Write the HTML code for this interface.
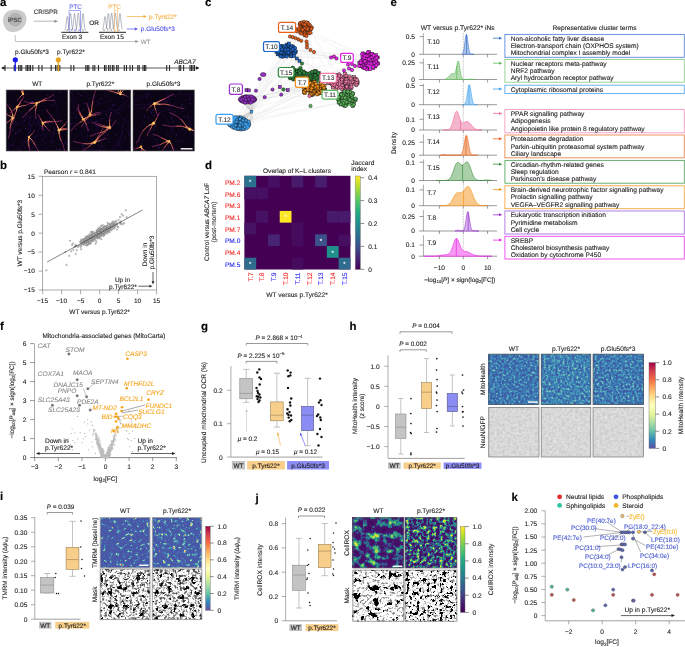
<!DOCTYPE html>
<html><head><meta charset="utf-8"><style>
html,body{margin:0;padding:0;background:#fff;overflow:hidden}
svg{display:block;font-family:"Liberation Sans",sans-serif;will-change:transform;text-rendering:geometricPrecision}
</style></head><body>
<svg width="685" height="647" viewBox="0 0 685 647" fill="#231f20">
<defs><filter id="fMH0" x="0" y="0" width="1" height="1" color-interpolation-filters="sRGB"><feTurbulence type="fractalNoise" baseFrequency="0.43" numOctaves="4" seed="3"/><feColorMatrix type="matrix" values="1 0 0 0 0 1 0 0 0 0 1 0 0 0 0 0 0 0 0 1"/><feComponentTransfer><feFuncR type="table" tableValues="0.275 0.273 0.272 0.271 0.269 0.268 0.267 0.265 0.264 0.263 0.261 0.26 0.259 0.255 0.251 0.247 0.242 0.239 0.237 0.235 0.233 0.233 0.24 0.246 0.253 0.264 0.289 0.315 0.34 0.369 0.408 0.447 0.486 0.525 0.565 0.601 0.638 0.675 0.711 0.748 0.784"/><feFuncG type="table" tableValues="0.314 0.316 0.319 0.322 0.324 0.327 0.329 0.332 0.335 0.337 0.34 0.342 0.345 0.358 0.371 0.384 0.397 0.411 0.429 0.447 0.464 0.483 0.504 0.526 0.547 0.57 0.598 0.625 0.653 0.679 0.703 0.728 0.752 0.776 0.8 0.817 0.834 0.851 0.868 0.885 0.902"/><feFuncB type="table" tableValues="0.62 0.62 0.62 0.621 0.621 0.621 0.622 0.622 0.622 0.623 0.623 0.623 0.624 0.635 0.646 0.658 0.669 0.68 0.687 0.694 0.7 0.707 0.714 0.721 0.728 0.734 0.735 0.735 0.736 0.735 0.723 0.711 0.699 0.687 0.675 0.667 0.659 0.651 0.643 0.635 0.627"/></feComponentTransfer></filter><filter id="fMH1" x="0" y="0" width="1" height="1" color-interpolation-filters="sRGB"><feTurbulence type="fractalNoise" baseFrequency="0.43" numOctaves="4" seed="13"/><feColorMatrix type="matrix" values="1 0 0 0 0 1 0 0 0 0 1 0 0 0 0 0 0 0 0 1"/><feComponentTransfer><feFuncR type="table" tableValues="0.275 0.273 0.272 0.27 0.269 0.267 0.266 0.264 0.263 0.261 0.26 0.258 0.254 0.25 0.246 0.242 0.238 0.236 0.235 0.233 0.235 0.244 0.253 0.261 0.278 0.305 0.333 0.36 0.392 0.431 0.471 0.51 0.549 0.586 0.614 0.643 0.671 0.699 0.728 0.756 0.784"/><feFuncG type="table" tableValues="0.314 0.317 0.32 0.322 0.325 0.328 0.331 0.334 0.337 0.34 0.343 0.348 0.365 0.381 0.397 0.414 0.431 0.451 0.471 0.49 0.511 0.532 0.554 0.575 0.598 0.624 0.649 0.675 0.699 0.722 0.744 0.767 0.79 0.81 0.824 0.837 0.85 0.863 0.876 0.889 0.902"/><feFuncB type="table" tableValues="0.62 0.62 0.62 0.621 0.621 0.621 0.622 0.622 0.623 0.623 0.623 0.626 0.638 0.65 0.663 0.675 0.685 0.693 0.701 0.709 0.716 0.721 0.725 0.73 0.733 0.733 0.733 0.733 0.729 0.717 0.706 0.695 0.684 0.673 0.667 0.66 0.654 0.647 0.641 0.634 0.627"/></feComponentTransfer></filter><filter id="fMH2" x="0" y="0" width="1" height="1" color-interpolation-filters="sRGB"><feTurbulence type="fractalNoise" baseFrequency="0.43" numOctaves="4" seed="23"/><feColorMatrix type="matrix" values="1 0 0 0 0 1 0 0 0 0 1 0 0 0 0 0 0 0 0 1"/><feComponentTransfer><feFuncR type="table" tableValues="0.275 0.273 0.272 0.27 0.269 0.268 0.266 0.265 0.264 0.262 0.261 0.26 0.257 0.253 0.249 0.245 0.241 0.238 0.236 0.234 0.232 0.235 0.242 0.249 0.256 0.275 0.303 0.33 0.358 0.392 0.431 0.471 0.51 0.549 0.586 0.619 0.652 0.685 0.718 0.751 0.784"/><feFuncG type="table" tableValues="0.314 0.316 0.319 0.322 0.325 0.327 0.33 0.333 0.335 0.338 0.341 0.343 0.351 0.366 0.38 0.395 0.41 0.426 0.444 0.462 0.479 0.499 0.521 0.542 0.564 0.589 0.616 0.644 0.671 0.696 0.719 0.741 0.764 0.786 0.806 0.822 0.838 0.854 0.87 0.886 0.902"/><feFuncB type="table" tableValues="0.62 0.62 0.62 0.621 0.621 0.621 0.622 0.622 0.622 0.623 0.623 0.623 0.628 0.64 0.651 0.662 0.674 0.683 0.691 0.699 0.707 0.713 0.719 0.725 0.731 0.734 0.735 0.736 0.737 0.73 0.718 0.706 0.694 0.682 0.672 0.664 0.657 0.65 0.642 0.635 0.627"/></feComponentTransfer></filter><filter id="fNG" x="0" y="0" width="1" height="1" color-interpolation-filters="sRGB"><feTurbulence type="fractalNoise" baseFrequency="0.37" numOctaves="3" seed="4"/><feColorMatrix type="matrix" values="1 0 0 0 0 1 0 0 0 0 1 0 0 0 0 0 0 0 0 1"/><feComponentTransfer><feFuncR type="table" tableValues="0.753 0.758 0.762 0.767 0.771 0.776 0.78 0.785 0.79 0.794 0.799 0.803 0.808 0.813 0.818 0.823 0.827 0.832 0.837 0.842 0.847 0.851 0.855 0.859 0.863 0.867 0.871 0.875 0.878 0.881 0.884 0.886 0.889 0.892 0.894 0.897 0.899 0.902 0.905 0.907 0.91"/><feFuncG type="table" tableValues="0.753 0.758 0.762 0.767 0.771 0.776 0.78 0.785 0.79 0.794 0.799 0.803 0.808 0.813 0.818 0.823 0.827 0.832 0.837 0.842 0.847 0.851 0.855 0.859 0.863 0.867 0.871 0.875 0.878 0.881 0.884 0.886 0.889 0.892 0.894 0.897 0.899 0.902 0.905 0.907 0.91"/><feFuncB type="table" tableValues="0.753 0.758 0.762 0.767 0.771 0.776 0.78 0.785 0.79 0.794 0.799 0.803 0.808 0.813 0.818 0.823 0.827 0.832 0.837 0.842 0.847 0.851 0.855 0.859 0.863 0.867 0.871 0.875 0.878 0.881 0.884 0.886 0.889 0.892 0.894 0.897 0.899 0.902 0.905 0.907 0.91"/></feComponentTransfer></filter><filter id="fTM0" x="0" y="0" width="1" height="1" color-interpolation-filters="sRGB"><feTurbulence type="fractalNoise" baseFrequency="0.3" numOctaves="3" seed="5"/><feColorMatrix type="matrix" values="1 0 0 0 0 1 0 0 0 0 1 0 0 0 0 0 0 0 0 1"/><feComponentTransfer><feFuncR type="table" tableValues="0.29 0.29 0.29 0.29 0.29 0.29 0.29 0.29 0.29 0.29 0.29 0.29 0.29 0.29 0.29 0.29 0.29 0.29 0.29 0.29 0.29 0.287 0.284 0.281 0.278 0.27 0.262 0.281 0.318 0.422 0.569 0.745 0.941 0.973 0.966 0.901 0.835 0.781 0.727 0.674 0.62"/><feFuncG type="table" tableValues="0.333 0.334 0.335 0.335 0.336 0.336 0.337 0.337 0.338 0.339 0.339 0.34 0.34 0.341 0.342 0.342 0.343 0.343 0.344 0.345 0.345 0.358 0.371 0.383 0.396 0.443 0.491 0.557 0.635 0.721 0.811 0.871 0.91 0.768 0.609 0.426 0.243 0.183 0.124 0.064 0.004"/><feFuncB type="table" tableValues="0.647 0.647 0.648 0.648 0.649 0.649 0.649 0.65 0.65 0.651 0.651 0.651 0.652 0.652 0.653 0.653 0.653 0.654 0.654 0.655 0.655 0.661 0.667 0.673 0.678 0.696 0.714 0.722 0.722 0.698 0.659 0.614 0.565 0.45 0.369 0.339 0.31 0.297 0.284 0.272 0.259"/></feComponentTransfer></filter><filter id="fTM1" x="0" y="0" width="1" height="1" color-interpolation-filters="sRGB"><feTurbulence type="fractalNoise" baseFrequency="0.3" numOctaves="3" seed="15"/><feColorMatrix type="matrix" values="1 0 0 0 0 1 0 0 0 0 1 0 0 0 0 0 0 0 0 1"/><feComponentTransfer><feFuncR type="table" tableValues="0.29 0.29 0.29 0.29 0.29 0.29 0.29 0.29 0.29 0.29 0.29 0.29 0.29 0.29 0.29 0.29 0.29 0.29 0.29 0.29 0.287 0.284 0.281 0.277 0.269 0.26 0.289 0.326 0.451 0.598 0.784 0.95 0.992 0.914 0.835 0.799 0.763 0.727 0.692 0.656 0.62"/><feFuncG type="table" tableValues="0.333 0.334 0.335 0.335 0.336 0.336 0.337 0.338 0.338 0.339 0.34 0.34 0.341 0.341 0.342 0.343 0.343 0.344 0.345 0.348 0.364 0.38 0.395 0.418 0.467 0.516 0.585 0.66 0.744 0.83 0.878 0.872 0.682 0.463 0.243 0.203 0.163 0.124 0.084 0.044 0.004"/><feFuncB type="table" tableValues="0.647 0.647 0.648 0.648 0.649 0.649 0.65 0.65 0.65 0.651 0.651 0.652 0.652 0.652 0.653 0.653 0.654 0.654 0.655 0.656 0.663 0.67 0.677 0.686 0.704 0.722 0.724 0.722 0.69 0.651 0.604 0.534 0.38 0.345 0.31 0.301 0.293 0.284 0.276 0.267 0.259"/></feComponentTransfer></filter><filter id="fMKa" x="0" y="0" width="1" height="1" color-interpolation-filters="sRGB"><feTurbulence type="fractalNoise" baseFrequency="0.4" numOctaves="3" seed="3"/><feColorMatrix type="matrix" values="1 0 0 0 0 1 0 0 0 0 1 0 0 0 0 0 0 0 0 1"/><feComponentTransfer><feFuncR type="table" tableValues="0.188 0.204 0.22 0.235 0.251 0.267 0.282 0.298 0.314 0.329 0.345 0.361 0.376 0.435 0.494 0.553 0.612 0.675 0.753 0.831 0.91 0.947 0.985 1 1 1 1 1 1 1 1 1 1 1 1 1 1 1 1 1 1"/><feFuncG type="table" tableValues="0.188 0.204 0.22 0.235 0.251 0.267 0.282 0.298 0.314 0.329 0.345 0.361 0.376 0.435 0.494 0.553 0.612 0.675 0.753 0.831 0.91 0.947 0.985 1 1 1 1 1 1 1 1 1 1 1 1 1 1 1 1 1 1"/><feFuncB type="table" tableValues="0.188 0.204 0.22 0.235 0.251 0.267 0.282 0.298 0.314 0.329 0.345 0.361 0.376 0.435 0.494 0.553 0.612 0.675 0.753 0.831 0.91 0.947 0.985 1 1 1 1 1 1 1 1 1 1 1 1 1 1 1 1 1 1"/></feComponentTransfer></filter><filter id="fMK0" x="0" y="0" width="1" height="1" color-interpolation-filters="sRGB"><feTurbulence type="fractalNoise" baseFrequency="0.22" numOctaves="3" seed="7"/><feColorMatrix type="matrix" values="0 0 0 0 0.000 0 0 0 0 0.000 0 0 0 0 0.000 1 0 0 0 0"/><feComponentTransfer><feFuncA type="table" tableValues="0.00 0.00 0.00 0.00 0.00 0.00 0.00 0.00 0.00 0.00 0.00 0.00 0.00 0.00 0.00 0.00 0.00 0.00 0.00 0.00 0.00 0.00 0.00 0.00 0.00 0.60 0.60 1.00 1.00 1.00 1.00 1.00 1.00 1.00 1.00 1.00 1.00 1.00 1.00 1.00"/></feComponentTransfer></filter><filter id="fMK1" x="0" y="0" width="1" height="1" color-interpolation-filters="sRGB"><feTurbulence type="fractalNoise" baseFrequency="0.22" numOctaves="3" seed="17"/><feColorMatrix type="matrix" values="0 0 0 0 0.000 0 0 0 0 0.000 0 0 0 0 0.000 1 0 0 0 0"/><feComponentTransfer><feFuncA type="table" tableValues="0.00 0.00 0.00 0.00 0.00 0.00 0.00 0.00 0.00 0.00 0.00 0.00 0.00 0.00 0.00 0.00 0.00 0.00 0.00 0.00 0.00 0.00 0.00 0.00 0.00 0.60 0.60 1.00 1.00 1.00 1.00 1.00 1.00 1.00 1.00 1.00 1.00 1.00 1.00 1.00"/></feComponentTransfer></filter><filter id="fCR0" x="0" y="0" width="1" height="1" color-interpolation-filters="sRGB"><feTurbulence type="fractalNoise" baseFrequency="0.15" numOctaves="5" seed="6"/><feColorMatrix type="matrix" values="1 0 0 0 0 1 0 0 0 0 1 0 0 0 0 0 0 0 0 1"/><feComponentTransfer><feFuncR type="table" tableValues="0.267 0.267 0.267 0.268 0.268 0.269 0.269 0.27 0.27 0.27 0.271 0.271 0.272 0.272 0.272 0.273 0.273 0.274 0.274 0.274 0.257 0.236 0.212 0.187 0.165 0.147 0.129 0.215 0.3 0.395 0.525 0.654 0.784 0.81 0.836 0.862 0.888 0.914 0.94 0.966 0.992"/><feFuncG type="table" tableValues="0.004 0.008 0.013 0.017 0.022 0.026 0.031 0.035 0.04 0.044 0.049 0.053 0.058 0.062 0.067 0.071 0.076 0.08 0.085 0.089 0.183 0.298 0.363 0.416 0.467 0.518 0.569 0.647 0.725 0.794 0.822 0.85 0.878 0.882 0.885 0.889 0.892 0.896 0.899 0.902 0.906"/><feFuncB type="table" tableValues="0.329 0.335 0.34 0.345 0.351 0.356 0.361 0.367 0.372 0.377 0.383 0.388 0.393 0.398 0.404 0.409 0.414 0.42 0.425 0.43 0.477 0.534 0.549 0.554 0.556 0.552 0.549 0.49 0.431 0.376 0.334 0.293 0.251 0.238 0.225 0.211 0.198 0.185 0.172 0.158 0.145"/></feComponentTransfer></filter><filter id="fCR1" x="0" y="0" width="1" height="1" color-interpolation-filters="sRGB"><feTurbulence type="fractalNoise" baseFrequency="0.3" numOctaves="4" seed="16"/><feColorMatrix type="matrix" values="1 0 0 0 0 1 0 0 0 0 1 0 0 0 0 0 0 0 0 1"/><feComponentTransfer><feFuncR type="table" tableValues="0.267 0.267 0.268 0.268 0.268 0.269 0.269 0.27 0.27 0.271 0.271 0.272 0.272 0.272 0.273 0.273 0.274 0.274 0.266 0.244 0.222 0.197 0.173 0.155 0.137 0.181 0.266 0.352 0.473 0.602 0.732 0.797 0.819 0.841 0.862 0.884 0.906 0.927 0.949 0.971 0.992"/><feFuncG type="table" tableValues="0.004 0.009 0.014 0.019 0.024 0.028 0.033 0.038 0.043 0.048 0.053 0.058 0.063 0.068 0.073 0.077 0.082 0.087 0.136 0.252 0.342 0.395 0.447 0.498 0.548 0.616 0.694 0.773 0.811 0.839 0.867 0.88 0.883 0.886 0.889 0.892 0.894 0.897 0.9 0.903 0.906"/><feFuncB type="table" tableValues="0.329 0.335 0.341 0.347 0.353 0.358 0.364 0.37 0.376 0.382 0.387 0.393 0.399 0.405 0.411 0.416 0.422 0.428 0.454 0.511 0.547 0.552 0.557 0.554 0.55 0.514 0.455 0.396 0.351 0.309 0.268 0.244 0.233 0.222 0.211 0.2 0.189 0.178 0.167 0.156 0.145"/></feComponentTransfer></filter><filter id="fMKf" x="0" y="0" width="1" height="1" color-interpolation-filters="sRGB"><feTurbulence type="fractalNoise" baseFrequency="0.4" numOctaves="3" seed="8"/><feColorMatrix type="matrix" values="1 0 0 0 0 1 0 0 0 0 1 0 0 0 0 0 0 0 0 1"/><feComponentTransfer><feFuncR type="table" tableValues="0.376 0.392 0.408 0.424 0.439 0.455 0.471 0.486 0.502 0.518 0.533 0.549 0.565 0.627 0.69 0.753 0.816 0.865 0.914 0.963 0.98 0.99 1 1 1 1 1 1 1 1 1 1 1 1 1 1 1 1 1 1 1"/><feFuncG type="table" tableValues="0.376 0.392 0.408 0.424 0.439 0.455 0.471 0.486 0.502 0.518 0.533 0.549 0.565 0.627 0.69 0.753 0.816 0.865 0.914 0.963 0.98 0.99 1 1 1 1 1 1 1 1 1 1 1 1 1 1 1 1 1 1 1"/><feFuncB type="table" tableValues="0.376 0.392 0.408 0.424 0.439 0.455 0.471 0.486 0.502 0.518 0.533 0.549 0.565 0.627 0.69 0.753 0.816 0.865 0.914 0.963 0.98 0.99 1 1 1 1 1 1 1 1 1 1 1 1 1 1 1 1 1 1 1"/></feComponentTransfer></filter><filter id="fMK2" x="0" y="0" width="1" height="1" color-interpolation-filters="sRGB"><feTurbulence type="fractalNoise" baseFrequency="0.15" numOctaves="5" seed="6"/><feColorMatrix type="matrix" values="0 0 0 0 0.000 0 0 0 0 0.000 0 0 0 0 0.000 1 0 0 0 0"/><feComponentTransfer><feFuncA type="table" tableValues="0.00 0.00 0.00 0.00 0.00 0.00 0.00 0.00 0.00 0.00 0.00 0.00 0.00 0.00 0.00 0.00 0.00 0.00 0.00 0.00 0.00 0.00 0.00 0.00 0.00 0.60 1.00 1.00 1.00 1.00 1.00 1.00 1.00 1.00 1.00 1.00 1.00 1.00 1.00 1.00"/></feComponentTransfer></filter><filter id="fMK3" x="0" y="0" width="1" height="1" color-interpolation-filters="sRGB"><feTurbulence type="fractalNoise" baseFrequency="0.3" numOctaves="4" seed="16"/><feColorMatrix type="matrix" values="0 0 0 0 0.000 0 0 0 0 0.000 0 0 0 0 0.000 1 0 0 0 0"/><feComponentTransfer><feFuncA type="table" tableValues="0.00 0.00 0.00 0.00 0.00 0.00 0.00 0.00 0.00 0.00 0.00 0.00 0.00 0.00 0.00 0.00 0.00 0.00 0.00 0.00 0.00 0.00 0.00 0.00 0.60 1.00 1.00 1.00 1.00 1.00 1.00 1.00 1.00 1.00 1.00 1.00 1.00 1.00 1.00 1.00"/></feComponentTransfer></filter></defs>
<text x="0.00" y="6.20" font-size="11.50" font-weight="bold" fill="#000" stroke="#000" stroke-width="0.12">a</text>
<path d="M4,25 C1,18 5,11 12,10 C19,9 26,11 26.5,18 C27,25 22,31 14,32 C8,32.5 5,29 4,25 Z" fill="#cbcbcb"/>
<circle cx="15.20" cy="19.60" r="6.90" fill="#b2b2b2"/>
<text x="14.80" y="22.14" font-size="6.14" text-anchor="middle" fill="#3a3a3a" stroke="#3a3a3a" stroke-width="0.12">iPSC</text>
<text x="33.70" y="13.80" font-size="6.40" fill="#333" stroke="#333" stroke-width="0.12">CRISPR</text>
<line x1="33.70" y1="21.20" x2="55.20" y2="21.20" stroke="#888" stroke-width="0.6"/>
<path d="M58.00,21.20 L54.50,19.70 L54.50,22.70 Z" fill="#888"/>
<path d="M64.60,30.34 L64.83,30.18 L65.05,29.88 L65.27,29.39 L65.50,28.61 L65.72,27.47 L65.95,25.95 L66.17,24.09 L66.40,22.01 L66.62,19.93 L66.85,18.15 L67.08,16.93 L67.30,16.50 L67.52,16.93 L67.75,18.15 L67.97,19.93 L68.20,22.01 L68.42,24.09 L68.65,25.95 L68.88,27.47 L69.10,28.61 L69.33,29.39 L69.55,29.88 L69.77,30.18 L70.00,30.34" fill="none" stroke="#5a5f78" stroke-width="0.45"/>
<path d="M67.80,30.31 L68.03,30.11 L68.25,29.75 L68.47,29.14 L68.70,28.19 L68.92,26.80 L69.15,24.95 L69.38,22.67 L69.60,20.13 L69.83,17.59 L70.05,15.41 L70.28,13.93 L70.50,13.40 L70.72,13.93 L70.95,15.41 L71.17,17.59 L71.40,20.13 L71.62,22.67 L71.85,24.95 L72.08,26.80 L72.30,28.19 L72.53,29.14 L72.75,29.75 L72.97,30.11 L73.20,30.31" fill="none" stroke="#5a5f78" stroke-width="0.45"/>
<path d="M71.80,30.31 L72.03,30.11 L72.25,29.75 L72.47,29.15 L72.70,28.20 L72.92,26.82 L73.15,24.98 L73.38,22.72 L73.60,20.19 L73.83,17.67 L74.05,15.50 L74.28,14.02 L74.50,13.50 L74.72,14.02 L74.95,15.50 L75.17,17.67 L75.40,20.19 L75.62,22.72 L75.85,24.98 L76.08,26.82 L76.30,28.20 L76.53,29.15 L76.75,29.75 L76.97,30.11 L77.20,30.31" fill="none" stroke="#5a5f78" stroke-width="0.45"/>
<path d="M75.60,30.31 L75.83,30.10 L76.05,29.73 L76.27,29.11 L76.50,28.13 L76.72,26.72 L76.95,24.82 L77.17,22.49 L77.40,19.89 L77.62,17.29 L77.85,15.06 L78.08,13.54 L78.30,13.00 L78.52,13.54 L78.75,15.06 L78.97,17.29 L79.20,19.89 L79.42,22.49 L79.65,24.82 L79.88,26.72 L80.10,28.13 L80.33,29.11 L80.55,29.73 L80.77,30.10 L81.00,30.31" fill="none" stroke="#5a5f78" stroke-width="0.45"/>
<path d="M80.30,30.31 L80.53,30.11 L80.75,29.75 L80.97,29.15 L81.20,28.20 L81.42,26.82 L81.65,24.98 L81.88,22.72 L82.10,20.19 L82.33,17.67 L82.55,15.50 L82.78,14.02 L83.00,13.50 L83.22,14.02 L83.45,15.50 L83.67,17.67 L83.90,20.19 L84.12,22.72 L84.35,24.98 L84.58,26.82 L84.80,28.20 L85.03,29.15 L85.25,29.75 L85.47,30.11 L85.70,30.31" fill="none" stroke="#5a5f78" stroke-width="0.45"/>
<rect x="69.10" y="10.70" width="11.50" height="21.90" fill="none" stroke="#6a6af5" stroke-width="0.6"/>
<text x="69.20" y="8.90" font-size="6.40" fill="#6a6af5" stroke="#6a6af5" stroke-width="0.12">PTC</text>
<text x="67.30" y="31.00" font-size="2.60" text-anchor="middle" fill="#888" stroke="#888" stroke-width="0.12">A</text>
<text x="71.20" y="31.00" font-size="2.60" text-anchor="middle" fill="#6a6af5" stroke="#6a6af5" stroke-width="0.12">T</text>
<text x="75.10" y="31.00" font-size="2.60" text-anchor="middle" fill="#6a6af5" stroke="#6a6af5" stroke-width="0.12">G</text>
<text x="79.00" y="31.00" font-size="2.60" text-anchor="middle" fill="#6a6af5" stroke="#6a6af5" stroke-width="0.12">A</text>
<text x="82.90" y="31.00" font-size="2.60" text-anchor="middle" fill="#888" stroke="#888" stroke-width="0.12">A</text>
<line x1="61.40" y1="32.30" x2="88.30" y2="32.30" stroke="#231f20" stroke-width="1.0"/>
<text x="62.00" y="39.20" font-size="6.50" stroke="#231f20" stroke-width="0.12">Exon 3</text>
<text x="89.30" y="25.00" font-size="6.50" stroke="#231f20" stroke-width="0.12">OR</text>
<path d="M102.30,29.36 L102.53,29.20 L102.75,28.93 L102.97,28.47 L103.20,27.74 L103.42,26.69 L103.65,25.28 L103.88,23.55 L104.10,21.62 L104.33,19.69 L104.55,18.03 L104.78,16.90 L105.00,16.50 L105.22,16.90 L105.45,18.03 L105.67,19.69 L105.90,21.62 L106.12,23.55 L106.35,25.28 L106.58,26.69 L106.80,27.74 L107.03,28.47 L107.25,28.93 L107.47,29.20 L107.70,29.36" fill="none" stroke="#5a5f78" stroke-width="0.45"/>
<path d="M105.60,29.32 L105.83,29.14 L106.05,28.80 L106.27,28.23 L106.50,27.33 L106.72,26.04 L106.95,24.31 L107.17,22.17 L107.40,19.80 L107.62,17.42 L107.85,15.38 L108.08,13.99 L108.30,13.50 L108.52,13.99 L108.75,15.38 L108.97,17.42 L109.20,19.80 L109.42,22.17 L109.65,24.31 L109.88,26.04 L110.10,27.33 L110.33,28.23 L110.55,28.80 L110.77,29.14 L111.00,29.32" fill="none" stroke="#5a5f78" stroke-width="0.45"/>
<path d="M108.90,29.32 L109.12,29.12 L109.35,28.78 L109.57,28.19 L109.80,27.27 L110.02,25.93 L110.25,24.14 L110.47,21.95 L110.70,19.49 L110.92,17.05 L111.15,14.94 L111.38,13.51 L111.60,13.00 L111.82,13.51 L112.05,14.94 L112.27,17.05 L112.50,19.49 L112.72,21.95 L112.95,24.14 L113.17,25.93 L113.40,27.27 L113.62,28.19 L113.85,28.78 L114.07,29.12 L114.30,29.32" fill="none" stroke="#5a5f78" stroke-width="0.45"/>
<path d="M112.60,29.32 L112.83,29.12 L113.05,28.78 L113.27,28.19 L113.50,27.27 L113.72,25.93 L113.95,24.14 L114.17,21.95 L114.40,19.49 L114.62,17.05 L114.85,14.94 L115.08,13.51 L115.30,13.00 L115.52,13.51 L115.75,14.94 L115.97,17.05 L116.20,19.49 L116.42,21.95 L116.65,24.14 L116.88,25.93 L117.10,27.27 L117.33,28.19 L117.55,28.78 L117.77,29.12 L118.00,29.32" fill="none" stroke="#5a5f78" stroke-width="0.45"/>
<path d="M117.30,29.32 L117.53,29.14 L117.75,28.80 L117.97,28.23 L118.20,27.33 L118.42,26.04 L118.65,24.31 L118.88,22.17 L119.10,19.80 L119.33,17.42 L119.55,15.38 L119.78,13.99 L120.00,13.50 L120.22,13.99 L120.45,15.38 L120.67,17.42 L120.90,19.80 L121.12,22.17 L121.35,24.31 L121.58,26.04 L121.80,27.33 L122.03,28.23 L122.25,28.80 L122.47,29.14 L122.70,29.32" fill="none" stroke="#5a5f78" stroke-width="0.45"/>
<rect x="114.20" y="10.00" width="3.20" height="22.30" fill="none" stroke="#f5b55a" stroke-width="0.6"/>
<text x="108.20" y="8.90" font-size="6.40" fill="#f5b55a" stroke="#f5b55a" stroke-width="0.12">PTC</text>
<text x="104.00" y="30.50" font-size="2.60" text-anchor="middle" fill="#888" stroke="#888" stroke-width="0.12">C</text>
<text x="107.70" y="30.50" font-size="2.60" text-anchor="middle" fill="#888" stroke="#888" stroke-width="0.12">T</text>
<text x="111.40" y="30.50" font-size="2.60" text-anchor="middle" fill="#888" stroke="#888" stroke-width="0.12">A</text>
<text x="115.10" y="30.50" font-size="2.60" text-anchor="middle" fill="#f5b55a" stroke="#f5b55a" stroke-width="0.12">G</text>
<text x="118.80" y="30.50" font-size="2.60" text-anchor="middle" fill="#888" stroke="#888" stroke-width="0.12">A</text>
<line x1="99.00" y1="32.30" x2="126.00" y2="32.30" stroke="#231f20" stroke-width="1.0"/>
<text x="100.00" y="39.20" font-size="6.50" stroke="#231f20" stroke-width="0.12">Exon 15</text>
<line x1="126.80" y1="16.50" x2="144.20" y2="16.50" stroke="#f5b040" stroke-width="0.7"/>
<path d="M147.00,16.50 L143.50,14.90 L143.50,18.10 Z" fill="#f5b040"/>
<text x="149.10" y="18.90" font-size="6.45" fill="#f5b040" stroke="#f5b040" stroke-width="0.12">p.Tyr622*</text>
<line x1="126.80" y1="29.00" x2="135.50" y2="29.00" stroke="#5555ee" stroke-width="0.7"/>
<path d="M138.30,29.00 L134.80,27.40 L134.80,30.60 Z" fill="#5555ee"/>
<text x="140.80" y="31.40" font-size="6.50" fill="#5555ee" stroke="#5555ee" stroke-width="0.12">p.Glu50fs*3</text>
<path d="M15.3,35.2 L15.3,41.5 L136,41.5" fill="none" stroke="#999" stroke-width="0.6"/>
<path d="M139,41.5 L135.2,40.0 L135.2,43.0 Z" fill="#999"/>
<text x="140.80" y="44.30" font-size="6.30" fill="#999" stroke="#999" stroke-width="0.12">WT</text>
<line x1="2.00" y1="68.00" x2="198.00" y2="68.00" stroke="#333" stroke-width="0.8"/>
<path d="M1.0,68 L4.5,66.3 L4.5,69.7 Z" fill="#231f20"/>
<path d="M199.5,68 L196,66.3 L196,69.7 Z" fill="#231f20"/>
<rect x="4.45" y="65.00" width="1.10" height="6.00" fill="#2a2a2a"/>
<rect x="13.65" y="65.00" width="1.10" height="6.00" fill="#2a2a2a"/>
<rect x="14.95" y="65.00" width="1.10" height="6.00" fill="#2a2a2a"/>
<rect x="18.15" y="65.00" width="1.10" height="6.00" fill="#2a2a2a"/>
<rect x="19.65" y="65.00" width="1.10" height="6.00" fill="#2a2a2a"/>
<rect x="21.15" y="65.00" width="1.10" height="6.00" fill="#2a2a2a"/>
<rect x="25.45" y="65.00" width="1.10" height="6.00" fill="#2a2a2a"/>
<rect x="26.95" y="65.00" width="1.10" height="6.00" fill="#2a2a2a"/>
<rect x="28.45" y="65.00" width="1.10" height="6.00" fill="#2a2a2a"/>
<rect x="29.95" y="65.00" width="1.10" height="6.00" fill="#2a2a2a"/>
<rect x="32.25" y="65.00" width="1.10" height="6.00" fill="#2a2a2a"/>
<rect x="38.25" y="65.00" width="1.10" height="6.00" fill="#2a2a2a"/>
<rect x="41.45" y="65.00" width="1.10" height="6.00" fill="#2a2a2a"/>
<rect x="50.65" y="65.00" width="1.10" height="6.00" fill="#2a2a2a"/>
<rect x="55.05" y="65.00" width="1.10" height="6.00" fill="#2a2a2a"/>
<rect x="56.65" y="65.00" width="1.10" height="6.00" fill="#2a2a2a"/>
<rect x="59.25" y="65.00" width="1.10" height="6.00" fill="#2a2a2a"/>
<rect x="70.45" y="65.00" width="1.10" height="6.00" fill="#2a2a2a"/>
<rect x="73.25" y="65.00" width="1.10" height="6.00" fill="#2a2a2a"/>
<rect x="85.25" y="65.00" width="1.10" height="6.00" fill="#2a2a2a"/>
<rect x="86.75" y="65.00" width="1.10" height="6.00" fill="#2a2a2a"/>
<rect x="88.25" y="65.00" width="1.10" height="6.00" fill="#2a2a2a"/>
<rect x="92.45" y="65.00" width="1.10" height="6.00" fill="#2a2a2a"/>
<rect x="94.25" y="65.00" width="1.10" height="6.00" fill="#2a2a2a"/>
<rect x="97.95" y="65.00" width="1.10" height="6.00" fill="#2a2a2a"/>
<rect x="103.95" y="65.00" width="1.10" height="6.00" fill="#2a2a2a"/>
<rect x="105.45" y="65.00" width="1.10" height="6.00" fill="#2a2a2a"/>
<rect x="108.05" y="65.00" width="1.10" height="6.00" fill="#2a2a2a"/>
<rect x="109.65" y="65.00" width="1.10" height="6.00" fill="#2a2a2a"/>
<rect x="111.85" y="65.00" width="1.10" height="6.00" fill="#2a2a2a"/>
<rect x="113.35" y="65.00" width="1.10" height="6.00" fill="#2a2a2a"/>
<rect x="116.15" y="65.00" width="1.10" height="6.00" fill="#2a2a2a"/>
<rect x="117.65" y="65.00" width="1.10" height="6.00" fill="#2a2a2a"/>
<rect x="123.75" y="65.00" width="1.10" height="6.00" fill="#2a2a2a"/>
<rect x="125.95" y="65.00" width="1.10" height="6.00" fill="#2a2a2a"/>
<rect x="129.45" y="65.00" width="1.10" height="6.00" fill="#2a2a2a"/>
<rect x="131.95" y="65.00" width="1.10" height="6.00" fill="#2a2a2a"/>
<rect x="137.25" y="65.00" width="1.10" height="6.00" fill="#2a2a2a"/>
<rect x="138.65" y="65.00" width="1.10" height="6.00" fill="#2a2a2a"/>
<rect x="142.45" y="65.00" width="1.10" height="6.00" fill="#2a2a2a"/>
<rect x="143.95" y="65.00" width="1.10" height="6.00" fill="#2a2a2a"/>
<rect x="145.25" y="65.00" width="1.10" height="6.00" fill="#2a2a2a"/>
<rect x="166.15" y="65.00" width="1.10" height="6.00" fill="#2a2a2a"/>
<rect x="168.95" y="65.00" width="1.10" height="6.00" fill="#2a2a2a"/>
<rect x="178.65" y="65.00" width="1.10" height="6.00" fill="#2a2a2a"/>
<rect x="180.15" y="65.00" width="1.10" height="6.00" fill="#2a2a2a"/>
<rect x="183.05" y="65.00" width="1.10" height="6.00" fill="#2a2a2a"/>
<rect x="189.45" y="65.00" width="1.10" height="6.00" fill="#2a2a2a"/>
<rect x="190.95" y="65.00" width="1.10" height="6.00" fill="#2a2a2a"/>
<rect x="192.45" y="65.00" width="1.10" height="6.00" fill="#2a2a2a"/>
<rect x="193.95" y="65.00" width="1.10" height="6.00" fill="#2a2a2a"/>
<rect x="14.40" y="64.80" width="1.60" height="6.40" fill="#2222ee"/>
<rect x="57.60" y="64.80" width="1.60" height="6.40" fill="#e8a21e"/>
<line x1="15.30" y1="61.50" x2="15.30" y2="65.00" stroke="#2222ee" stroke-width="1.2"/>
<circle cx="15.30" cy="59.80" r="2.60" fill="#1a1aee"/>
<line x1="58.30" y1="61.50" x2="58.30" y2="65.00" stroke="#e8a21e" stroke-width="1.2"/>
<circle cx="58.30" cy="59.80" r="2.60" fill="#e8a21e"/>
<text x="15.00" y="54.30" font-size="6.50" stroke="#231f20" stroke-width="0.12">p.Glu50fs*3</text>
<text x="57.00" y="54.30" font-size="6.50" stroke="#231f20" stroke-width="0.12">p.Tyr622*</text>
<text x="174.20" y="63.50" font-size="6.50" font-style="italic" stroke="#231f20" stroke-width="0.12">ABCA7</text>
<text x="37.30" y="85.80" font-size="6.50" text-anchor="middle" stroke="#231f20" stroke-width="0.12">WT</text>
<text x="100.30" y="85.80" font-size="6.50" text-anchor="middle" stroke="#231f20" stroke-width="0.12">p.Tyr622*</text>
<text x="163.50" y="85.80" font-size="6.50" text-anchor="middle" stroke="#231f20" stroke-width="0.12">p.Glu50fs*3</text>
<clipPath id="clip1"><rect x="6.2" y="90.0" width="61.6" height="61.0"/></clipPath>
<rect x="6.20" y="90.00" width="61.60" height="61.00" fill="#0a0414"/>
<g clip-path="url(#clip1)">
<path d="M14.5,141.7L1.5,153.6M36.7,117.4L21.3,147.3M12.0,91.7L-8.0,103.1M53.2,90.1L58.6,121.3M20.3,147.7L9.9,151.0M7.8,123.0L-13.3,127.1M19.5,115.7L36.1,117.3M33.2,120.2L45.8,131.6M19.7,118.0L26.2,126.4M57.8,123.9L51.1,138.0M67.3,142.5L85.9,149.9M50.6,133.4L28.4,137.9M57.3,130.9L73.3,153.4M60.6,141.6L60.1,169.3M8.3,104.8L-9.7,118.1M16.9,123.5L-1.1,147.8M29.3,116.8L28.4,150.1M38.3,114.0L38.6,124.9M8.9,132.9L-18.9,134.4M30.4,100.4L30.2,139.9M53.7,122.9L38.3,130.1M37.8,148.1L32.1,171.2M22.8,123.4L12.7,124.8M54.5,140.0L24.3,151.3M56.0,121.6L51.7,144.0M9.7,143.1L6.2,158.7M37.3,119.6L46.2,137.9M39.4,128.0L31.2,150.3M7.9,104.0L31.3,118.6M59.2,138.7L31.5,159.2" fill="none" stroke="#2e0e50" stroke-width="0.4"/>
<path d="M21.9 141.3h0M47.7 95.1h0M7.2 90.9h0M52.7 105.2h0M12.9 128.1h0M27.4 94.2h0M16.0 122.2h0M16.6 106.6h0M50.0 117.7h0M26.0 118.9h0M7.7 113.6h0M32.1 101.5h0M12.9 144.9h0M37.6 102.8h0M43.5 139.8h0M7.5 91.1h0M15.2 133.8h0M16.1 133.0h0M48.0 123.2h0M19.8 149.5h0M55.3 121.5h0M19.9 129.6h0M30.5 125.1h0M26.0 128.5h0M9.8 108.2h0M65.8 143.4h0M25.1 142.4h0M25.3 147.3h0M52.0 115.4h0M21.7 90.5h0M60.3 92.3h0M56.7 148.7h0M41.3 100.5h0M59.7 149.4h0M49.6 121.0h0M29.5 111.2h0M18.9 131.1h0M32.9 101.8h0M12.6 130.6h0M24.4 120.5h0" stroke="#3c1468" stroke-width="1.30" stroke-linecap="round" fill="none"/>
<path d="M13.00,118.00 L10.40,116.24 L7.53,114.95 L4.95,113.17 L2.66,111.01 L0.45,108.78 L-2.13,106.98" fill="none" stroke="#b83a7a" stroke-width="0.6" stroke-linecap="round"/>
<path d="M13.00,118.00 L10.40,116.24 L7.53,114.95 L4.95,113.17" fill="none" stroke="#f2824a" stroke-width="0.6" stroke-linecap="round"/>
<path d="M13.00,118.00 L10.40,116.24" fill="none" stroke="#fdc27a" stroke-width="0.7" stroke-linecap="round"/>
<path d="M13.00,118.00 L10.89,119.59 L8.88,121.31 L6.83,122.98 L4.48,124.19 L1.96,124.99 L-0.58,125.74" fill="none" stroke="#b83a7a" stroke-width="0.6" stroke-linecap="round"/>
<path d="M13.00,118.00 L10.89,119.59 L8.88,121.31 L6.83,122.98" fill="none" stroke="#f2824a" stroke-width="0.6" stroke-linecap="round"/>
<path d="M13.00,118.00 L10.89,119.59" fill="none" stroke="#fdc27a" stroke-width="0.7" stroke-linecap="round"/>
<path d="M13.00,118.00 L12.62,114.40 L11.43,110.98 L9.64,107.84 L7.35,105.03 L5.12,102.19 L2.57,99.62" fill="none" stroke="#b83a7a" stroke-width="0.6" stroke-linecap="round"/>
<path d="M13.00,118.00 L12.62,114.40 L11.43,110.98 L9.64,107.84" fill="none" stroke="#f2824a" stroke-width="0.6" stroke-linecap="round"/>
<path d="M13.00,118.00 L12.62,114.40" fill="none" stroke="#fdc27a" stroke-width="0.7" stroke-linecap="round"/>
<path d="M13.00,118.00 L11.65,121.25 L10.56,124.60 L10.14,128.10 L10.18,131.62 L9.44,135.06 L8.23,138.37" fill="none" stroke="#b83a7a" stroke-width="0.6" stroke-linecap="round"/>
<path d="M13.00,118.00 L11.65,121.25 L10.56,124.60 L10.14,128.10" fill="none" stroke="#f2824a" stroke-width="0.6" stroke-linecap="round"/>
<path d="M13.00,118.00 L11.65,121.25" fill="none" stroke="#fdc27a" stroke-width="0.7" stroke-linecap="round"/>
<circle cx="13.00" cy="118.00" r="1.60" fill="#f8a845"/>
<circle cx="13.00" cy="118.00" r="0.80" fill="#fcf0a0"/>
<path d="M17.00,107.00 L18.17,106.04 L19.14,104.88 L19.81,103.52 L20.18,102.05 L20.81,100.68 L21.63,99.40" fill="none" stroke="#b83a7a" stroke-width="0.6" stroke-linecap="round"/>
<path d="M17.00,107.00 L18.17,106.04 L19.14,104.88 L19.81,103.52" fill="none" stroke="#f2824a" stroke-width="0.6" stroke-linecap="round"/>
<path d="M17.00,107.00 L18.17,106.04" fill="none" stroke="#fdc27a" stroke-width="0.7" stroke-linecap="round"/>
<path d="M17.00,107.00 L18.07,105.26 L19.37,103.69 L20.58,102.04 L21.84,100.43 L22.87,98.67 L23.51,96.73" fill="none" stroke="#b83a7a" stroke-width="0.6" stroke-linecap="round"/>
<path d="M17.00,107.00 L18.07,105.26 L19.37,103.69 L20.58,102.04" fill="none" stroke="#f2824a" stroke-width="0.6" stroke-linecap="round"/>
<path d="M17.00,107.00 L18.07,105.26" fill="none" stroke="#fdc27a" stroke-width="0.7" stroke-linecap="round"/>
<path d="M17.00,107.00 L16.53,110.42 L15.34,113.66 L14.23,116.93 L13.48,120.30 L12.27,123.53 L10.54,126.52" fill="none" stroke="#b83a7a" stroke-width="0.6" stroke-linecap="round"/>
<path d="M17.00,107.00 L16.53,110.42 L15.34,113.66 L14.23,116.93" fill="none" stroke="#f2824a" stroke-width="0.6" stroke-linecap="round"/>
<path d="M17.00,107.00 L16.53,110.42" fill="none" stroke="#fdc27a" stroke-width="0.7" stroke-linecap="round"/>
<path d="M17.00,107.00 L19.86,106.64 L22.61,105.73 L25.47,105.37 L28.18,104.36 L30.73,103.01 L33.53,102.32" fill="none" stroke="#b83a7a" stroke-width="0.6" stroke-linecap="round"/>
<path d="M17.00,107.00 L19.86,106.64 L22.61,105.73 L25.47,105.37" fill="none" stroke="#f2824a" stroke-width="0.6" stroke-linecap="round"/>
<path d="M17.00,107.00 L19.86,106.64" fill="none" stroke="#fdc27a" stroke-width="0.7" stroke-linecap="round"/>
<path d="M17.00,107.00 L15.85,107.90 L14.82,108.94 L13.67,109.85 L12.73,110.97 L11.57,111.87 L10.48,112.84" fill="none" stroke="#b83a7a" stroke-width="0.6" stroke-linecap="round"/>
<path d="M17.00,107.00 L15.85,107.90 L14.82,108.94 L13.67,109.85" fill="none" stroke="#f2824a" stroke-width="0.6" stroke-linecap="round"/>
<path d="M17.00,107.00 L15.85,107.90" fill="none" stroke="#fdc27a" stroke-width="0.7" stroke-linecap="round"/>
<circle cx="17.00" cy="107.00" r="1.20" fill="#f8a845"/>
<circle cx="17.00" cy="107.00" r="0.50" fill="#fcf0a0"/>
<path d="M59.00,130.00 L61.11,128.25 L63.20,126.47 L64.90,124.31 L66.75,122.28 L68.09,119.89 L68.82,117.24" fill="none" stroke="#b83a7a" stroke-width="0.6" stroke-linecap="round"/>
<path d="M59.00,130.00 L61.11,128.25 L63.20,126.47 L64.90,124.31" fill="none" stroke="#f2824a" stroke-width="0.6" stroke-linecap="round"/>
<path d="M59.00,130.00 L61.11,128.25" fill="none" stroke="#fdc27a" stroke-width="0.7" stroke-linecap="round"/>
<path d="M59.00,130.00 L61.75,129.83 L64.49,129.60 L67.19,129.10 L69.73,128.04 L72.43,127.51 L75.17,127.63" fill="none" stroke="#b83a7a" stroke-width="0.6" stroke-linecap="round"/>
<path d="M59.00,130.00 L61.75,129.83 L64.49,129.60 L67.19,129.10" fill="none" stroke="#f2824a" stroke-width="0.6" stroke-linecap="round"/>
<path d="M59.00,130.00 L61.75,129.83" fill="none" stroke="#fdc27a" stroke-width="0.7" stroke-linecap="round"/>
<path d="M59.00,130.00 L60.96,129.32 L62.96,128.76 L65.03,128.69 L67.11,128.67 L69.18,128.84 L71.22,129.18" fill="none" stroke="#b83a7a" stroke-width="0.6" stroke-linecap="round"/>
<path d="M59.00,130.00 L60.96,129.32 L62.96,128.76 L65.03,128.69" fill="none" stroke="#f2824a" stroke-width="0.6" stroke-linecap="round"/>
<path d="M59.00,130.00 L60.96,129.32" fill="none" stroke="#fdc27a" stroke-width="0.7" stroke-linecap="round"/>
<path d="M59.00,130.00 L59.14,133.65 L59.75,137.25 L61.09,140.65 L62.79,143.88 L63.67,147.43 L64.64,150.95" fill="none" stroke="#b83a7a" stroke-width="0.6" stroke-linecap="round"/>
<path d="M59.00,130.00 L59.14,133.65 L59.75,137.25 L61.09,140.65" fill="none" stroke="#f2824a" stroke-width="0.6" stroke-linecap="round"/>
<path d="M59.00,130.00 L59.14,133.65" fill="none" stroke="#fdc27a" stroke-width="0.7" stroke-linecap="round"/>
<path d="M59.00,130.00 L57.45,126.28 L55.70,122.66 L53.61,119.22 L51.22,115.97 L48.55,112.96 L46.45,109.53" fill="none" stroke="#b83a7a" stroke-width="0.6" stroke-linecap="round"/>
<path d="M59.00,130.00 L57.45,126.28 L55.70,122.66 L53.61,119.22" fill="none" stroke="#f2824a" stroke-width="0.6" stroke-linecap="round"/>
<path d="M59.00,130.00 L57.45,126.28" fill="none" stroke="#fdc27a" stroke-width="0.7" stroke-linecap="round"/>
<circle cx="59.00" cy="130.00" r="1.60" fill="#f8a845"/>
<circle cx="59.00" cy="130.00" r="0.80" fill="#fcf0a0"/>
<path d="M29.00,137.00 L28.96,138.43 L28.70,139.83 L28.73,141.25 L28.95,142.66 L28.96,144.09 L29.04,145.51" fill="none" stroke="#b83a7a" stroke-width="0.6" stroke-linecap="round"/>
<path d="M29.00,137.00 L28.96,138.43 L28.70,139.83 L28.73,141.25" fill="none" stroke="#f2824a" stroke-width="0.6" stroke-linecap="round"/>
<path d="M29.00,137.00 L28.96,138.43" fill="none" stroke="#fdc27a" stroke-width="0.7" stroke-linecap="round"/>
<path d="M29.00,137.00 L28.23,140.31 L28.27,143.70 L29.13,146.98 L29.57,150.35 L30.25,153.67 L30.98,156.98" fill="none" stroke="#b83a7a" stroke-width="0.6" stroke-linecap="round"/>
<path d="M29.00,137.00 L28.23,140.31 L28.27,143.70 L29.13,146.98" fill="none" stroke="#f2824a" stroke-width="0.6" stroke-linecap="round"/>
<path d="M29.00,137.00 L28.23,140.31" fill="none" stroke="#fdc27a" stroke-width="0.7" stroke-linecap="round"/>
<path d="M29.00,137.00 L30.05,136.03 L31.01,134.98 L31.97,133.93 L33.02,132.96 L33.90,131.84 L34.57,130.58" fill="none" stroke="#b83a7a" stroke-width="0.6" stroke-linecap="round"/>
<path d="M29.00,137.00 L30.05,136.03 L31.01,134.98 L31.97,133.93" fill="none" stroke="#f2824a" stroke-width="0.6" stroke-linecap="round"/>
<path d="M29.00,137.00 L30.05,136.03" fill="none" stroke="#fdc27a" stroke-width="0.7" stroke-linecap="round"/>
<path d="M29.00,137.00 L31.38,139.41 L33.49,142.06 L35.14,145.02 L36.63,148.06 L38.66,150.78 L41.07,153.16" fill="none" stroke="#b83a7a" stroke-width="0.6" stroke-linecap="round"/>
<path d="M29.00,137.00 L31.38,139.41 L33.49,142.06 L35.14,145.02" fill="none" stroke="#f2824a" stroke-width="0.6" stroke-linecap="round"/>
<path d="M29.00,137.00 L31.38,139.41" fill="none" stroke="#fdc27a" stroke-width="0.7" stroke-linecap="round"/>
<circle cx="29.00" cy="137.00" r="1.20" fill="#f8a845"/>
<circle cx="29.00" cy="137.00" r="0.50" fill="#fcf0a0"/>
<path d="M42.70,123.00 L43.69,122.24 L44.81,121.69 L46.00,121.32 L47.25,121.20 L48.49,121.29 L49.72,121.54" fill="none" stroke="#b83a7a" stroke-width="0.6" stroke-linecap="round"/>
<path d="M42.70,123.00 L43.69,122.24 L44.81,121.69 L46.00,121.32" fill="none" stroke="#f2824a" stroke-width="0.6" stroke-linecap="round"/>
<path d="M42.70,123.00 L43.69,122.24" fill="none" stroke="#fdc27a" stroke-width="0.7" stroke-linecap="round"/>
<path d="M42.70,123.00 L42.05,121.51 L41.15,120.16 L40.41,118.72 L39.78,117.22 L38.98,115.80 L37.89,114.60" fill="none" stroke="#b83a7a" stroke-width="0.6" stroke-linecap="round"/>
<path d="M42.70,123.00 L42.05,121.51 L41.15,120.16 L40.41,118.72" fill="none" stroke="#f2824a" stroke-width="0.6" stroke-linecap="round"/>
<path d="M42.70,123.00 L42.05,121.51" fill="none" stroke="#fdc27a" stroke-width="0.7" stroke-linecap="round"/>
<path d="M42.70,123.00 L45.87,122.34 L49.06,121.74 L52.30,121.71 L55.54,121.61 L58.77,121.34 L61.97,120.80" fill="none" stroke="#b83a7a" stroke-width="0.6" stroke-linecap="round"/>
<path d="M42.70,123.00 L45.87,122.34 L49.06,121.74 L52.30,121.71" fill="none" stroke="#f2824a" stroke-width="0.6" stroke-linecap="round"/>
<path d="M42.70,123.00 L45.87,122.34" fill="none" stroke="#fdc27a" stroke-width="0.7" stroke-linecap="round"/>
<path d="M42.70,123.00 L42.55,124.22 L42.45,125.45 L42.31,126.67 L42.43,127.89 L42.64,129.10 L43.07,130.25" fill="none" stroke="#b83a7a" stroke-width="0.6" stroke-linecap="round"/>
<path d="M42.70,123.00 L42.55,124.22 L42.45,125.45 L42.31,126.67" fill="none" stroke="#f2824a" stroke-width="0.6" stroke-linecap="round"/>
<path d="M42.70,123.00 L42.55,124.22" fill="none" stroke="#fdc27a" stroke-width="0.7" stroke-linecap="round"/>
<path d="M42.70,123.00 L43.76,124.49 L44.90,125.93 L46.11,127.30 L47.24,128.74 L48.55,130.02 L50.14,130.94" fill="none" stroke="#b83a7a" stroke-width="0.6" stroke-linecap="round"/>
<path d="M42.70,123.00 L43.76,124.49 L44.90,125.93 L46.11,127.30" fill="none" stroke="#f2824a" stroke-width="0.6" stroke-linecap="round"/>
<path d="M42.70,123.00 L43.76,124.49" fill="none" stroke="#fdc27a" stroke-width="0.7" stroke-linecap="round"/>
<circle cx="42.70" cy="123.00" r="1.20" fill="#f8a845"/>
<circle cx="42.70" cy="123.00" r="0.50" fill="#fcf0a0"/>
<path d="M37.00,103.00 L34.95,105.79 L32.36,108.08 L29.62,110.18 L27.18,112.64 L24.99,115.31 L22.56,117.77" fill="none" stroke="#b83a7a" stroke-width="0.6" stroke-linecap="round"/>
<path d="M37.00,103.00 L34.95,105.79 L32.36,108.08 L29.62,110.18" fill="none" stroke="#f2824a" stroke-width="0.6" stroke-linecap="round"/>
<path d="M37.00,103.00 L34.95,105.79" fill="none" stroke="#fdc27a" stroke-width="0.7" stroke-linecap="round"/>
<path d="M37.00,103.00 L39.81,101.96 L42.67,101.08 L45.62,100.53 L48.60,100.20 L51.57,100.59 L54.57,100.55" fill="none" stroke="#b83a7a" stroke-width="0.6" stroke-linecap="round"/>
<path d="M37.00,103.00 L39.81,101.96 L42.67,101.08 L45.62,100.53" fill="none" stroke="#f2824a" stroke-width="0.6" stroke-linecap="round"/>
<path d="M37.00,103.00 L39.81,101.96" fill="none" stroke="#fdc27a" stroke-width="0.7" stroke-linecap="round"/>
<path d="M37.00,103.00 L39.85,101.73 L42.62,100.27 L45.39,98.82 L48.34,97.80 L51.11,96.35 L53.72,94.63" fill="none" stroke="#b83a7a" stroke-width="0.6" stroke-linecap="round"/>
<path d="M37.00,103.00 L39.85,101.73 L42.62,100.27 L45.39,98.82" fill="none" stroke="#f2824a" stroke-width="0.6" stroke-linecap="round"/>
<path d="M37.00,103.00 L39.85,101.73" fill="none" stroke="#fdc27a" stroke-width="0.7" stroke-linecap="round"/>
<path d="M37.00,103.00 L36.63,105.56 L36.00,108.06 L35.42,110.58 L35.37,113.17 L35.81,115.71 L36.10,118.28" fill="none" stroke="#b83a7a" stroke-width="0.6" stroke-linecap="round"/>
<path d="M37.00,103.00 L36.63,105.56 L36.00,108.06 L35.42,110.58" fill="none" stroke="#f2824a" stroke-width="0.6" stroke-linecap="round"/>
<path d="M37.00,103.00 L36.63,105.56" fill="none" stroke="#fdc27a" stroke-width="0.7" stroke-linecap="round"/>
<path d="M37.00,103.00 L34.87,103.18 L32.75,103.44 L30.63,103.23 L28.54,102.78 L26.54,102.05 L24.53,101.32" fill="none" stroke="#b83a7a" stroke-width="0.6" stroke-linecap="round"/>
<path d="M37.00,103.00 L34.87,103.18 L32.75,103.44 L30.63,103.23" fill="none" stroke="#f2824a" stroke-width="0.6" stroke-linecap="round"/>
<path d="M37.00,103.00 L34.87,103.18" fill="none" stroke="#fdc27a" stroke-width="0.7" stroke-linecap="round"/>
<circle cx="37.00" cy="103.00" r="1.20" fill="#f8a845"/>
<circle cx="37.00" cy="103.00" r="0.50" fill="#fcf0a0"/>
<path d="M23.00,94.00 L22.59,91.98 L21.86,90.06 L21.34,88.06 L20.39,86.24 L19.90,84.24 L19.72,82.18" fill="none" stroke="#b83a7a" stroke-width="0.6" stroke-linecap="round"/>
<path d="M23.00,94.00 L22.59,91.98 L21.86,90.06 L21.34,88.06" fill="none" stroke="#f2824a" stroke-width="0.6" stroke-linecap="round"/>
<path d="M23.00,94.00 L22.59,91.98" fill="none" stroke="#fdc27a" stroke-width="0.7" stroke-linecap="round"/>
<path d="M23.00,94.00 L22.02,92.43 L21.42,90.67 L20.52,89.05 L19.85,87.33 L19.48,85.51 L19.26,83.67" fill="none" stroke="#b83a7a" stroke-width="0.6" stroke-linecap="round"/>
<path d="M23.00,94.00 L22.02,92.43 L21.42,90.67 L20.52,89.05" fill="none" stroke="#f2824a" stroke-width="0.6" stroke-linecap="round"/>
<path d="M23.00,94.00 L22.02,92.43" fill="none" stroke="#fdc27a" stroke-width="0.7" stroke-linecap="round"/>
<path d="M23.00,94.00 L22.77,91.70 L23.08,89.41 L23.26,87.11 L23.79,84.86 L24.23,82.60 L24.30,80.29" fill="none" stroke="#b83a7a" stroke-width="0.6" stroke-linecap="round"/>
<path d="M23.00,94.00 L22.77,91.70 L23.08,89.41 L23.26,87.11" fill="none" stroke="#f2824a" stroke-width="0.6" stroke-linecap="round"/>
<path d="M23.00,94.00 L22.77,91.70" fill="none" stroke="#fdc27a" stroke-width="0.7" stroke-linecap="round"/>
<path d="M23.00,94.00 L22.06,95.16 L20.89,96.08 L19.91,97.20 L18.87,98.27 L17.89,99.39 L17.13,100.68" fill="none" stroke="#b83a7a" stroke-width="0.6" stroke-linecap="round"/>
<path d="M23.00,94.00 L22.06,95.16 L20.89,96.08 L19.91,97.20" fill="none" stroke="#f2824a" stroke-width="0.6" stroke-linecap="round"/>
<path d="M23.00,94.00 L22.06,95.16" fill="none" stroke="#fdc27a" stroke-width="0.7" stroke-linecap="round"/>
<circle cx="23.00" cy="94.00" r="1.20" fill="#f8a845"/>
<circle cx="23.00" cy="94.00" r="0.50" fill="#fcf0a0"/>
</g>
<rect x="6.20" y="90.00" width="61.60" height="61.00" fill="none" stroke="#555" stroke-width="0.6"/>
<clipPath id="clip2"><rect x="69.8" y="90.0" width="61.0" height="61.0"/></clipPath>
<rect x="69.80" y="90.00" width="61.00" height="61.00" fill="#0a0414"/>
<g clip-path="url(#clip2)">
<path d="M128.1,147.8L140.5,150.0M120.8,134.9L111.0,151.5M106.8,127.0L103.0,141.3M96.1,114.0L70.4,144.5M127.7,123.2L130.8,141.0M72.0,91.7L74.1,111.1M93.0,144.4L90.8,171.1M84.2,91.5L91.6,103.5M100.9,150.9L92.9,164.1M124.3,138.6L99.3,166.2M116.3,138.2L133.8,173.5M128.5,99.8L106.0,121.8M97.9,122.4L99.1,160.1M100.4,140.7L116.5,173.4M124.7,118.1L116.7,154.9M114.0,119.7L129.1,132.4M112.5,100.1L95.2,105.3M125.4,108.9L94.5,113.0M100.6,121.6L87.9,146.2M88.8,102.7L87.4,140.7M107.8,94.6L81.0,111.6M125.2,101.7L117.0,110.1M109.6,106.7L137.1,130.4M76.3,121.9L60.7,129.5M82.6,143.7L90.2,174.3M71.7,112.1L97.6,127.6M74.9,148.2L106.6,150.8M71.1,105.6L58.8,113.7M81.0,132.2L85.0,142.8M130.2,99.2L150.4,101.5" fill="none" stroke="#2e0e50" stroke-width="0.4"/>
<path d="M107.3 135.3h0M76.7 110.6h0M71.7 117.4h0M116.5 135.1h0M124.8 136.1h0M122.4 133.0h0M98.6 103.8h0M110.1 109.3h0M76.0 117.3h0M123.2 97.8h0M105.5 114.0h0M101.2 98.8h0M128.3 105.8h0M106.8 115.6h0M70.9 124.0h0M78.4 93.5h0M71.8 99.8h0M75.6 128.7h0M100.8 150.0h0M126.8 150.7h0M84.0 117.1h0M85.1 126.1h0M107.9 138.8h0M113.1 105.7h0M95.6 122.1h0M70.1 92.2h0M94.7 96.8h0M113.9 104.7h0M75.9 101.1h0M83.9 103.3h0M101.6 118.3h0M88.7 129.1h0M82.8 145.3h0M128.6 134.5h0M96.3 121.2h0M105.2 93.1h0M95.3 122.0h0M80.9 95.7h0M118.8 112.3h0M101.5 146.2h0" stroke="#3c1468" stroke-width="1.30" stroke-linecap="round" fill="none"/>
<path d="M90.10,115.10 L86.69,117.55 L83.53,120.31 L79.91,122.44 L76.39,124.72 L73.38,127.65 L70.85,131.00" fill="none" stroke="#b83a7a" stroke-width="0.6" stroke-linecap="round"/>
<path d="M90.10,115.10 L86.69,117.55 L83.53,120.31 L79.91,122.44" fill="none" stroke="#f2824a" stroke-width="0.6" stroke-linecap="round"/>
<path d="M90.10,115.10 L86.69,117.55" fill="none" stroke="#fdc27a" stroke-width="0.7" stroke-linecap="round"/>
<path d="M90.10,115.10 L91.56,110.64 L92.00,105.97 L92.77,101.34 L93.45,96.69 L95.01,92.27 L96.83,87.94" fill="none" stroke="#b83a7a" stroke-width="0.6" stroke-linecap="round"/>
<path d="M90.10,115.10 L91.56,110.64 L92.00,105.97 L92.77,101.34" fill="none" stroke="#f2824a" stroke-width="0.6" stroke-linecap="round"/>
<path d="M90.10,115.10 L91.56,110.64" fill="none" stroke="#fdc27a" stroke-width="0.7" stroke-linecap="round"/>
<path d="M90.10,115.10 L91.85,114.99 L93.60,115.07 L95.35,114.91 L97.10,114.74 L98.78,114.24 L100.43,113.63" fill="none" stroke="#b83a7a" stroke-width="0.6" stroke-linecap="round"/>
<path d="M90.10,115.10 L91.85,114.99 L93.60,115.07 L95.35,114.91" fill="none" stroke="#f2824a" stroke-width="0.6" stroke-linecap="round"/>
<path d="M90.10,115.10 L91.85,114.99" fill="none" stroke="#fdc27a" stroke-width="0.7" stroke-linecap="round"/>
<path d="M90.10,115.10 L89.47,113.01 L89.26,110.84 L88.78,108.72 L87.92,106.72 L87.17,104.67 L86.25,102.70" fill="none" stroke="#b83a7a" stroke-width="0.6" stroke-linecap="round"/>
<path d="M90.10,115.10 L89.47,113.01 L89.26,110.84 L88.78,108.72" fill="none" stroke="#f2824a" stroke-width="0.6" stroke-linecap="round"/>
<path d="M90.10,115.10 L89.47,113.01" fill="none" stroke="#fdc27a" stroke-width="0.7" stroke-linecap="round"/>
<path d="M90.10,115.10 L88.55,116.99 L86.88,118.78 L85.25,120.59 L84.06,122.73 L82.67,124.74 L81.49,126.88" fill="none" stroke="#b83a7a" stroke-width="0.6" stroke-linecap="round"/>
<path d="M90.10,115.10 L88.55,116.99 L86.88,118.78 L85.25,120.59" fill="none" stroke="#f2824a" stroke-width="0.6" stroke-linecap="round"/>
<path d="M90.10,115.10 L88.55,116.99" fill="none" stroke="#fdc27a" stroke-width="0.7" stroke-linecap="round"/>
<circle cx="90.10" cy="115.10" r="1.60" fill="#f8a845"/>
<circle cx="90.10" cy="115.10" r="0.80" fill="#fcf0a0"/>
<path d="M83.10,119.20 L84.45,120.84 L85.49,122.70 L86.31,124.67 L86.91,126.71 L87.58,128.73 L88.27,130.74" fill="none" stroke="#b83a7a" stroke-width="0.6" stroke-linecap="round"/>
<path d="M83.10,119.20 L84.45,120.84 L85.49,122.70 L86.31,124.67" fill="none" stroke="#f2824a" stroke-width="0.6" stroke-linecap="round"/>
<path d="M83.10,119.20 L84.45,120.84" fill="none" stroke="#fdc27a" stroke-width="0.7" stroke-linecap="round"/>
<path d="M83.10,119.20 L81.85,117.41 L80.69,115.57 L79.57,113.70 L78.65,111.72 L77.92,109.67 L76.78,107.81" fill="none" stroke="#b83a7a" stroke-width="0.6" stroke-linecap="round"/>
<path d="M83.10,119.20 L81.85,117.41 L80.69,115.57 L79.57,113.70" fill="none" stroke="#f2824a" stroke-width="0.6" stroke-linecap="round"/>
<path d="M83.10,119.20 L81.85,117.41" fill="none" stroke="#fdc27a" stroke-width="0.7" stroke-linecap="round"/>
<path d="M83.10,119.20 L82.18,116.72 L80.88,114.42 L79.63,112.09 L78.75,109.60 L78.37,106.98 L78.40,104.33" fill="none" stroke="#b83a7a" stroke-width="0.6" stroke-linecap="round"/>
<path d="M83.10,119.20 L82.18,116.72 L80.88,114.42 L79.63,112.09" fill="none" stroke="#f2824a" stroke-width="0.6" stroke-linecap="round"/>
<path d="M83.10,119.20 L82.18,116.72" fill="none" stroke="#fdc27a" stroke-width="0.7" stroke-linecap="round"/>
<path d="M83.10,119.20 L85.78,118.06 L88.13,116.33 L90.82,115.21 L93.45,113.94 L96.19,112.95 L99.07,112.50" fill="none" stroke="#b83a7a" stroke-width="0.6" stroke-linecap="round"/>
<path d="M83.10,119.20 L85.78,118.06 L88.13,116.33 L90.82,115.21" fill="none" stroke="#f2824a" stroke-width="0.6" stroke-linecap="round"/>
<path d="M83.10,119.20 L85.78,118.06" fill="none" stroke="#fdc27a" stroke-width="0.7" stroke-linecap="round"/>
<circle cx="83.10" cy="119.20" r="1.20" fill="#f8a845"/>
<circle cx="83.10" cy="119.20" r="0.50" fill="#fcf0a0"/>
<path d="M109.70,127.70 L106.70,129.66 L103.65,131.56 L100.26,132.73 L96.75,133.46 L93.45,134.88 L90.15,136.27" fill="none" stroke="#b83a7a" stroke-width="0.6" stroke-linecap="round"/>
<path d="M109.70,127.70 L106.70,129.66 L103.65,131.56 L100.26,132.73" fill="none" stroke="#f2824a" stroke-width="0.6" stroke-linecap="round"/>
<path d="M109.70,127.70 L106.70,129.66" fill="none" stroke="#fdc27a" stroke-width="0.7" stroke-linecap="round"/>
<path d="M109.70,127.70 L109.65,125.09 L109.54,122.48 L109.71,119.88 L109.74,117.27 L110.42,114.75 L111.44,112.35" fill="none" stroke="#b83a7a" stroke-width="0.6" stroke-linecap="round"/>
<path d="M109.70,127.70 L109.65,125.09 L109.54,122.48 L109.71,119.88" fill="none" stroke="#f2824a" stroke-width="0.6" stroke-linecap="round"/>
<path d="M109.70,127.70 L109.65,125.09" fill="none" stroke="#fdc27a" stroke-width="0.7" stroke-linecap="round"/>
<path d="M109.70,127.70 L107.70,126.78 L105.55,126.35 L103.42,125.82 L101.42,124.89 L99.31,124.29 L97.20,123.69" fill="none" stroke="#b83a7a" stroke-width="0.6" stroke-linecap="round"/>
<path d="M109.70,127.70 L107.70,126.78 L105.55,126.35 L103.42,125.82" fill="none" stroke="#f2824a" stroke-width="0.6" stroke-linecap="round"/>
<path d="M109.70,127.70 L107.70,126.78" fill="none" stroke="#fdc27a" stroke-width="0.7" stroke-linecap="round"/>
<path d="M109.70,127.70 L106.55,127.72 L103.47,127.05 L100.47,126.07 L97.47,125.13 L94.75,123.53 L91.91,122.16" fill="none" stroke="#b83a7a" stroke-width="0.6" stroke-linecap="round"/>
<path d="M109.70,127.70 L106.55,127.72 L103.47,127.05 L100.47,126.07" fill="none" stroke="#f2824a" stroke-width="0.6" stroke-linecap="round"/>
<path d="M109.70,127.70 L106.55,127.72" fill="none" stroke="#fdc27a" stroke-width="0.7" stroke-linecap="round"/>
<circle cx="109.70" cy="127.70" r="1.60" fill="#f8a845"/>
<circle cx="109.70" cy="127.70" r="0.80" fill="#fcf0a0"/>
<path d="M94.60,142.30 L96.42,141.55 L98.30,141.00 L100.20,140.49 L102.00,139.69 L103.89,139.18 L105.76,138.56" fill="none" stroke="#b83a7a" stroke-width="0.6" stroke-linecap="round"/>
<path d="M94.60,142.30 L96.42,141.55 L98.30,141.00 L100.20,140.49" fill="none" stroke="#f2824a" stroke-width="0.6" stroke-linecap="round"/>
<path d="M94.60,142.30 L96.42,141.55" fill="none" stroke="#fdc27a" stroke-width="0.7" stroke-linecap="round"/>
<path d="M94.60,142.30 L97.95,138.56 L101.34,134.85 L105.40,131.91 L109.42,128.89 L112.90,125.28 L115.58,121.03" fill="none" stroke="#b83a7a" stroke-width="0.6" stroke-linecap="round"/>
<path d="M94.60,142.30 L97.95,138.56 L101.34,134.85 L105.40,131.91" fill="none" stroke="#f2824a" stroke-width="0.6" stroke-linecap="round"/>
<path d="M94.60,142.30 L97.95,138.56" fill="none" stroke="#fdc27a" stroke-width="0.7" stroke-linecap="round"/>
<path d="M94.60,142.30 L92.54,143.64 L90.55,145.09 L88.79,146.81 L86.68,148.08 L84.64,149.45 L82.56,150.77" fill="none" stroke="#b83a7a" stroke-width="0.6" stroke-linecap="round"/>
<path d="M94.60,142.30 L92.54,143.64 L90.55,145.09 L88.79,146.81" fill="none" stroke="#f2824a" stroke-width="0.6" stroke-linecap="round"/>
<path d="M94.60,142.30 L92.54,143.64" fill="none" stroke="#fdc27a" stroke-width="0.7" stroke-linecap="round"/>
<path d="M94.60,142.30 L95.96,140.00 L97.42,137.76 L98.86,135.51 L100.42,133.34 L101.42,130.86 L102.62,128.47" fill="none" stroke="#b83a7a" stroke-width="0.6" stroke-linecap="round"/>
<path d="M94.60,142.30 L95.96,140.00 L97.42,137.76 L98.86,135.51" fill="none" stroke="#f2824a" stroke-width="0.6" stroke-linecap="round"/>
<path d="M94.60,142.30 L95.96,140.00" fill="none" stroke="#fdc27a" stroke-width="0.7" stroke-linecap="round"/>
<path d="M94.60,142.30 L91.19,143.27 L87.69,143.87 L84.15,143.63 L80.66,142.94 L77.14,142.51 L73.78,141.37" fill="none" stroke="#b83a7a" stroke-width="0.6" stroke-linecap="round"/>
<path d="M94.60,142.30 L91.19,143.27 L87.69,143.87 L84.15,143.63" fill="none" stroke="#f2824a" stroke-width="0.6" stroke-linecap="round"/>
<path d="M94.60,142.30 L91.19,143.27" fill="none" stroke="#fdc27a" stroke-width="0.7" stroke-linecap="round"/>
<circle cx="94.60" cy="142.30" r="1.60" fill="#f8a845"/>
<circle cx="94.60" cy="142.30" r="0.80" fill="#fcf0a0"/>
<path d="M120.30,94.00 L122.09,91.77 L123.85,89.53 L125.81,87.45 L127.59,85.21 L129.10,82.79 L130.61,80.36" fill="none" stroke="#b83a7a" stroke-width="0.6" stroke-linecap="round"/>
<path d="M120.30,94.00 L122.09,91.77 L123.85,89.53 L125.81,87.45" fill="none" stroke="#f2824a" stroke-width="0.6" stroke-linecap="round"/>
<path d="M120.30,94.00 L122.09,91.77" fill="none" stroke="#fdc27a" stroke-width="0.7" stroke-linecap="round"/>
<path d="M120.30,94.00 L121.61,94.41 L122.97,94.59 L124.29,94.95 L125.55,95.49 L126.84,95.97 L128.08,96.55" fill="none" stroke="#b83a7a" stroke-width="0.6" stroke-linecap="round"/>
<path d="M120.30,94.00 L121.61,94.41 L122.97,94.59 L124.29,94.95" fill="none" stroke="#f2824a" stroke-width="0.6" stroke-linecap="round"/>
<path d="M120.30,94.00 L121.61,94.41" fill="none" stroke="#fdc27a" stroke-width="0.7" stroke-linecap="round"/>
<path d="M120.30,94.00 L120.48,90.62 L120.09,87.26 L119.50,83.93 L118.85,80.60 L117.86,77.37 L116.12,74.47" fill="none" stroke="#b83a7a" stroke-width="0.6" stroke-linecap="round"/>
<path d="M120.30,94.00 L120.48,90.62 L120.09,87.26 L119.50,83.93" fill="none" stroke="#f2824a" stroke-width="0.6" stroke-linecap="round"/>
<path d="M120.30,94.00 L120.48,90.62" fill="none" stroke="#fdc27a" stroke-width="0.7" stroke-linecap="round"/>
<path d="M120.30,94.00 L116.81,92.94 L113.34,91.82 L109.81,90.90 L106.25,90.09 L102.91,88.63 L99.44,87.50" fill="none" stroke="#b83a7a" stroke-width="0.6" stroke-linecap="round"/>
<path d="M120.30,94.00 L116.81,92.94 L113.34,91.82 L109.81,90.90" fill="none" stroke="#f2824a" stroke-width="0.6" stroke-linecap="round"/>
<path d="M120.30,94.00 L116.81,92.94" fill="none" stroke="#fdc27a" stroke-width="0.7" stroke-linecap="round"/>
<path d="M120.30,94.00 L118.91,92.03 L117.96,89.82 L116.56,87.86 L115.50,85.70 L114.23,83.65 L113.11,81.52" fill="none" stroke="#b83a7a" stroke-width="0.6" stroke-linecap="round"/>
<path d="M120.30,94.00 L118.91,92.03 L117.96,89.82 L116.56,87.86" fill="none" stroke="#f2824a" stroke-width="0.6" stroke-linecap="round"/>
<path d="M120.30,94.00 L118.91,92.03" fill="none" stroke="#fdc27a" stroke-width="0.7" stroke-linecap="round"/>
<circle cx="120.30" cy="94.00" r="1.20" fill="#f8a845"/>
<circle cx="120.30" cy="94.00" r="0.50" fill="#fcf0a0"/>
</g>
<rect x="69.80" y="90.00" width="61.00" height="61.00" fill="none" stroke="#555" stroke-width="0.6"/>
<clipPath id="clip3"><rect x="133.0" y="90.0" width="61.3" height="61.0"/></clipPath>
<rect x="133.00" y="90.00" width="61.30" height="61.00" fill="#0a0414"/>
<g clip-path="url(#clip3)">
<path d="M147.6,123.2L158.8,149.0M171.4,94.0L206.5,95.4M148.9,104.3L124.8,104.6M184.3,119.1L178.1,132.2M171.9,143.0L169.6,175.1M174.2,93.9L154.0,113.0M151.5,91.9L129.4,101.8M177.1,143.6L153.6,173.0M157.2,138.9L163.8,176.3M186.9,95.9L201.9,102.8M192.2,116.6L184.8,134.2M164.1,113.5L176.5,138.1M168.8,145.2L148.3,177.0M185.5,150.5L177.9,163.2M185.8,148.8L159.9,156.8M176.8,102.9L153.3,116.6M150.5,93.9L114.9,111.5M138.4,138.8L142.5,152.8M151.0,136.9L140.6,141.3M170.7,92.7L158.0,108.2M187.0,149.8L186.3,189.8M152.0,94.7L148.6,105.1M145.1,114.9L140.1,128.7M135.6,142.9L157.0,175.3M188.0,113.0L191.1,138.4M172.5,126.3L167.2,154.4M190.7,120.9L197.4,151.8M147.6,108.4L122.0,110.2M166.6,90.7L173.8,117.1M134.2,127.6L129.5,138.4" fill="none" stroke="#2e0e50" stroke-width="0.4"/>
<path d="M171.5 118.4h0M174.6 111.5h0M176.3 135.0h0M134.4 93.7h0M174.4 148.8h0M148.4 117.8h0M169.3 109.5h0M155.3 109.1h0M155.6 126.3h0M151.4 113.0h0M180.3 91.6h0M167.9 134.8h0M152.0 103.6h0M182.3 104.6h0M144.5 116.5h0M175.8 96.2h0M152.7 110.4h0M184.1 116.7h0M185.4 100.3h0M153.6 129.7h0M187.2 117.5h0M146.8 97.4h0M165.5 101.6h0M182.5 141.1h0M144.3 107.0h0M182.5 129.2h0M182.4 111.1h0M140.9 107.8h0M181.7 106.5h0M154.2 115.4h0M158.7 115.0h0M189.4 99.5h0M133.3 147.5h0M186.9 150.2h0M159.6 148.0h0M189.8 103.5h0M178.7 141.0h0M173.6 121.7h0M150.7 110.8h0M146.9 94.2h0" stroke="#3c1468" stroke-width="1.30" stroke-linecap="round" fill="none"/>
<path d="M154.60,103.60 L156.61,102.96 L158.41,101.87 L160.36,101.07 L162.31,100.27 L164.12,99.20 L166.10,98.49" fill="none" stroke="#b83a7a" stroke-width="0.6" stroke-linecap="round"/>
<path d="M154.60,103.60 L156.61,102.96 L158.41,101.87 L160.36,101.07" fill="none" stroke="#f2824a" stroke-width="0.6" stroke-linecap="round"/>
<path d="M154.60,103.60 L156.61,102.96" fill="none" stroke="#fdc27a" stroke-width="0.7" stroke-linecap="round"/>
<path d="M154.60,103.60 L152.94,104.40 L151.45,105.51 L149.97,106.61 L148.64,107.89 L147.66,109.45 L146.64,111.00" fill="none" stroke="#b83a7a" stroke-width="0.6" stroke-linecap="round"/>
<path d="M154.60,103.60 L152.94,104.40 L151.45,105.51 L149.97,106.61" fill="none" stroke="#f2824a" stroke-width="0.6" stroke-linecap="round"/>
<path d="M154.60,103.60 L152.94,104.40" fill="none" stroke="#fdc27a" stroke-width="0.7" stroke-linecap="round"/>
<path d="M154.60,103.60 L159.56,104.31 L164.57,104.08 L169.50,105.02 L174.40,106.07 L179.08,107.87 L184.04,108.60" fill="none" stroke="#b83a7a" stroke-width="0.6" stroke-linecap="round"/>
<path d="M154.60,103.60 L159.56,104.31 L164.57,104.08 L169.50,105.02" fill="none" stroke="#f2824a" stroke-width="0.6" stroke-linecap="round"/>
<path d="M154.60,103.60 L159.56,104.31" fill="none" stroke="#fdc27a" stroke-width="0.7" stroke-linecap="round"/>
<path d="M154.60,103.60 L154.58,105.71 L154.96,107.80 L155.60,109.81 L156.47,111.74 L156.95,113.80 L157.80,115.73" fill="none" stroke="#b83a7a" stroke-width="0.6" stroke-linecap="round"/>
<path d="M154.60,103.60 L154.58,105.71 L154.96,107.80 L155.60,109.81" fill="none" stroke="#f2824a" stroke-width="0.6" stroke-linecap="round"/>
<path d="M154.60,103.60 L154.58,105.71" fill="none" stroke="#fdc27a" stroke-width="0.7" stroke-linecap="round"/>
<path d="M154.60,103.60 L157.69,102.06 L160.70,100.37 L163.90,99.07 L166.92,97.39 L170.03,95.88 L173.15,94.41" fill="none" stroke="#b83a7a" stroke-width="0.6" stroke-linecap="round"/>
<path d="M154.60,103.60 L157.69,102.06 L160.70,100.37 L163.90,99.07" fill="none" stroke="#f2824a" stroke-width="0.6" stroke-linecap="round"/>
<path d="M154.60,103.60 L157.69,102.06" fill="none" stroke="#fdc27a" stroke-width="0.7" stroke-linecap="round"/>
<circle cx="154.60" cy="103.60" r="1.60" fill="#f8a845"/>
<circle cx="154.60" cy="103.60" r="0.80" fill="#fcf0a0"/>
<path d="M153.60,123.20 L149.48,125.04 L145.86,127.74 L142.81,131.07 L140.43,134.90 L138.93,139.16 L136.47,142.95" fill="none" stroke="#b83a7a" stroke-width="0.6" stroke-linecap="round"/>
<path d="M153.60,123.20 L149.48,125.04 L145.86,127.74 L142.81,131.07" fill="none" stroke="#f2824a" stroke-width="0.6" stroke-linecap="round"/>
<path d="M153.60,123.20 L149.48,125.04" fill="none" stroke="#fdc27a" stroke-width="0.7" stroke-linecap="round"/>
<path d="M153.60,123.20 L154.81,121.63 L155.87,119.96 L156.78,118.19 L157.54,116.36 L158.45,114.60 L159.42,112.87" fill="none" stroke="#b83a7a" stroke-width="0.6" stroke-linecap="round"/>
<path d="M153.60,123.20 L154.81,121.63 L155.87,119.96 L156.78,118.19" fill="none" stroke="#f2824a" stroke-width="0.6" stroke-linecap="round"/>
<path d="M153.60,123.20 L154.81,121.63" fill="none" stroke="#fdc27a" stroke-width="0.7" stroke-linecap="round"/>
<path d="M153.60,123.20 L152.24,125.14 L151.27,127.30 L150.24,129.43 L148.99,131.44 L147.85,133.52 L147.18,135.79" fill="none" stroke="#b83a7a" stroke-width="0.6" stroke-linecap="round"/>
<path d="M153.60,123.20 L152.24,125.14 L151.27,127.30 L150.24,129.43" fill="none" stroke="#f2824a" stroke-width="0.6" stroke-linecap="round"/>
<path d="M153.60,123.20 L152.24,125.14" fill="none" stroke="#fdc27a" stroke-width="0.7" stroke-linecap="round"/>
<circle cx="153.60" cy="123.20" r="1.60" fill="#f8a845"/>
<circle cx="153.60" cy="123.20" r="0.80" fill="#fcf0a0"/>
<path d="M189.80,129.20 L192.96,130.34 L196.09,131.54 L199.14,132.95 L202.42,133.63 L205.52,134.94 L208.82,135.52" fill="none" stroke="#b83a7a" stroke-width="0.6" stroke-linecap="round"/>
<path d="M189.80,129.20 L192.96,130.34 L196.09,131.54 L199.14,132.95" fill="none" stroke="#f2824a" stroke-width="0.6" stroke-linecap="round"/>
<path d="M189.80,129.20 L192.96,130.34" fill="none" stroke="#fdc27a" stroke-width="0.7" stroke-linecap="round"/>
<path d="M189.80,129.20 L186.42,126.30 L183.77,122.72 L180.97,119.26 L177.43,116.56 L173.55,114.38 L169.44,112.66" fill="none" stroke="#b83a7a" stroke-width="0.6" stroke-linecap="round"/>
<path d="M189.80,129.20 L186.42,126.30 L183.77,122.72 L180.97,119.26" fill="none" stroke="#f2824a" stroke-width="0.6" stroke-linecap="round"/>
<path d="M189.80,129.20 L186.42,126.30" fill="none" stroke="#fdc27a" stroke-width="0.7" stroke-linecap="round"/>
<path d="M189.80,129.20 L185.60,127.29 L181.13,126.18 L176.51,126.15 L171.92,126.53 L167.36,125.82 L162.83,124.98" fill="none" stroke="#b83a7a" stroke-width="0.6" stroke-linecap="round"/>
<path d="M189.80,129.20 L185.60,127.29 L181.13,126.18 L176.51,126.15" fill="none" stroke="#f2824a" stroke-width="0.6" stroke-linecap="round"/>
<path d="M189.80,129.20 L185.60,127.29" fill="none" stroke="#fdc27a" stroke-width="0.7" stroke-linecap="round"/>
<circle cx="189.80" cy="129.20" r="1.60" fill="#f8a845"/>
<circle cx="189.80" cy="129.20" r="0.80" fill="#fcf0a0"/>
<path d="M169.20,141.30 L170.83,143.75 L172.17,146.36 L173.03,149.17 L173.85,152.00 L174.84,154.76 L176.35,157.28" fill="none" stroke="#b83a7a" stroke-width="0.6" stroke-linecap="round"/>
<path d="M169.20,141.30 L170.83,143.75 L172.17,146.36 L173.03,149.17" fill="none" stroke="#f2824a" stroke-width="0.6" stroke-linecap="round"/>
<path d="M169.20,141.30 L170.83,143.75" fill="none" stroke="#fdc27a" stroke-width="0.7" stroke-linecap="round"/>
<path d="M169.20,141.30 L167.80,143.41 L166.18,145.36 L164.59,147.32 L163.27,149.49 L162.07,151.72 L160.84,153.93" fill="none" stroke="#b83a7a" stroke-width="0.6" stroke-linecap="round"/>
<path d="M169.20,141.30 L167.80,143.41 L166.18,145.36 L164.59,147.32" fill="none" stroke="#f2824a" stroke-width="0.6" stroke-linecap="round"/>
<path d="M169.20,141.30 L167.80,143.41" fill="none" stroke="#fdc27a" stroke-width="0.7" stroke-linecap="round"/>
<path d="M169.20,141.30 L166.51,140.34 L164.00,138.97 L161.39,137.79 L159.03,136.18 L156.36,135.17 L153.54,134.69" fill="none" stroke="#b83a7a" stroke-width="0.6" stroke-linecap="round"/>
<path d="M169.20,141.30 L166.51,140.34 L164.00,138.97 L161.39,137.79" fill="none" stroke="#f2824a" stroke-width="0.6" stroke-linecap="round"/>
<path d="M169.20,141.30 L166.51,140.34" fill="none" stroke="#fdc27a" stroke-width="0.7" stroke-linecap="round"/>
<path d="M169.20,141.30 L166.32,141.95 L163.52,142.88 L160.96,144.37 L158.12,145.18 L155.26,145.91 L152.38,146.59" fill="none" stroke="#b83a7a" stroke-width="0.6" stroke-linecap="round"/>
<path d="M169.20,141.30 L166.32,141.95 L163.52,142.88 L160.96,144.37" fill="none" stroke="#f2824a" stroke-width="0.6" stroke-linecap="round"/>
<path d="M169.20,141.30 L166.32,141.95" fill="none" stroke="#fdc27a" stroke-width="0.7" stroke-linecap="round"/>
<circle cx="169.20" cy="141.30" r="1.20" fill="#f8a845"/>
<circle cx="169.20" cy="141.30" r="0.50" fill="#fcf0a0"/>
<path d="M141.00,146.80 L142.95,149.20 L145.37,151.11 L147.96,152.81 L150.48,154.58 L152.69,156.75 L155.15,158.61" fill="none" stroke="#b83a7a" stroke-width="0.6" stroke-linecap="round"/>
<path d="M141.00,146.80 L142.95,149.20 L145.37,151.11 L147.96,152.81" fill="none" stroke="#f2824a" stroke-width="0.6" stroke-linecap="round"/>
<path d="M141.00,146.80 L142.95,149.20" fill="none" stroke="#fdc27a" stroke-width="0.7" stroke-linecap="round"/>
<path d="M141.00,146.80 L141.68,148.48 L142.13,150.23 L142.69,151.95 L143.35,153.63 L144.10,155.28 L144.97,156.86" fill="none" stroke="#b83a7a" stroke-width="0.6" stroke-linecap="round"/>
<path d="M141.00,146.80 L141.68,148.48 L142.13,150.23 L142.69,151.95" fill="none" stroke="#f2824a" stroke-width="0.6" stroke-linecap="round"/>
<path d="M141.00,146.80 L141.68,148.48" fill="none" stroke="#fdc27a" stroke-width="0.7" stroke-linecap="round"/>
<path d="M141.00,146.80 L139.80,147.48 L138.47,147.86 L137.16,148.29 L135.81,148.56 L134.52,149.06 L133.19,149.43" fill="none" stroke="#b83a7a" stroke-width="0.6" stroke-linecap="round"/>
<path d="M141.00,146.80 L139.80,147.48 L138.47,147.86 L137.16,148.29" fill="none" stroke="#f2824a" stroke-width="0.6" stroke-linecap="round"/>
<path d="M141.00,146.80 L139.80,147.48" fill="none" stroke="#fdc27a" stroke-width="0.7" stroke-linecap="round"/>
<circle cx="141.00" cy="146.80" r="1.20" fill="#f8a845"/>
<circle cx="141.00" cy="146.80" r="0.50" fill="#fcf0a0"/>
</g>
<rect x="133.00" y="90.00" width="61.30" height="61.00" fill="none" stroke="#555" stroke-width="0.6"/>
<rect x="180.70" y="148.10" width="11.80" height="1.40" fill="#ffffff"/>
<text x="0.00" y="168.50" font-size="11.50" font-weight="bold" fill="#000" stroke="#000" stroke-width="0.12">b</text>
<text x="43.9" y="173.6" font-size="6.5" stroke="#231f20" stroke-width="0.12">Pearson <tspan font-style="italic">r</tspan> = 0.841</text>
<defs><circle id="sp" r="0.75" fill="#d8d8d8" stroke="#5a5a5a" stroke-width="0.32"/></defs>
<use href="#sp" x="95.5" y="234.1"/><use href="#sp" x="95.0" y="237.7"/><use href="#sp" x="109.4" y="227.5"/><use href="#sp" x="100.6" y="231.8"/><use href="#sp" x="83.5" y="240.4"/><use href="#sp" x="100.6" y="235.3"/><use href="#sp" x="90.3" y="239.5"/><use href="#sp" x="96.9" y="233.0"/><use href="#sp" x="100.1" y="231.5"/><use href="#sp" x="115.1" y="224.1"/><use href="#sp" x="92.0" y="238.8"/><use href="#sp" x="97.4" y="233.1"/><use href="#sp" x="93.4" y="238.4"/><use href="#sp" x="109.5" y="229.7"/><use href="#sp" x="102.0" y="235.2"/><use href="#sp" x="109.6" y="232.0"/><use href="#sp" x="97.7" y="236.4"/><use href="#sp" x="98.5" y="237.6"/><use href="#sp" x="105.8" y="228.5"/><use href="#sp" x="99.9" y="231.9"/><use href="#sp" x="103.2" y="232.3"/><use href="#sp" x="85.9" y="242.5"/><use href="#sp" x="108.2" y="232.2"/><use href="#sp" x="100.9" y="229.5"/><use href="#sp" x="81.2" y="249.2"/><use href="#sp" x="92.5" y="240.2"/><use href="#sp" x="108.4" y="228.1"/><use href="#sp" x="102.7" y="228.2"/><use href="#sp" x="101.0" y="230.1"/><use href="#sp" x="110.4" y="225.4"/><use href="#sp" x="81.0" y="245.3"/><use href="#sp" x="82.7" y="243.5"/><use href="#sp" x="86.8" y="236.9"/><use href="#sp" x="97.5" y="234.0"/><use href="#sp" x="98.4" y="230.8"/><use href="#sp" x="94.3" y="233.7"/><use href="#sp" x="91.7" y="236.2"/><use href="#sp" x="93.9" y="239.3"/><use href="#sp" x="98.3" y="235.4"/><use href="#sp" x="87.3" y="236.3"/><use href="#sp" x="92.2" y="236.5"/><use href="#sp" x="106.1" y="228.9"/><use href="#sp" x="99.3" y="231.9"/><use href="#sp" x="100.6" y="231.3"/><use href="#sp" x="107.3" y="228.9"/><use href="#sp" x="100.6" y="233.3"/><use href="#sp" x="97.6" y="231.9"/><use href="#sp" x="98.7" y="227.9"/><use href="#sp" x="88.3" y="239.1"/><use href="#sp" x="101.0" y="233.8"/><use href="#sp" x="103.4" y="233.8"/><use href="#sp" x="101.2" y="233.5"/><use href="#sp" x="92.9" y="235.3"/><use href="#sp" x="92.3" y="234.1"/><use href="#sp" x="98.4" y="232.1"/><use href="#sp" x="111.3" y="230.4"/><use href="#sp" x="96.2" y="234.3"/><use href="#sp" x="72.0" y="244.9"/><use href="#sp" x="104.5" y="234.0"/><use href="#sp" x="109.2" y="228.3"/><use href="#sp" x="105.2" y="229.7"/><use href="#sp" x="111.7" y="223.9"/><use href="#sp" x="124.2" y="222.9"/><use href="#sp" x="96.5" y="235.0"/><use href="#sp" x="98.4" y="231.4"/><use href="#sp" x="83.2" y="240.1"/><use href="#sp" x="90.2" y="242.5"/><use href="#sp" x="103.8" y="226.9"/><use href="#sp" x="99.0" y="236.6"/><use href="#sp" x="114.4" y="228.1"/><use href="#sp" x="104.8" y="229.4"/><use href="#sp" x="110.2" y="227.2"/><use href="#sp" x="103.4" y="231.1"/><use href="#sp" x="90.5" y="236.5"/><use href="#sp" x="110.5" y="227.1"/><use href="#sp" x="107.5" y="228.6"/><use href="#sp" x="108.5" y="227.5"/><use href="#sp" x="95.5" y="240.1"/><use href="#sp" x="101.0" y="233.8"/><use href="#sp" x="107.2" y="229.6"/><use href="#sp" x="99.2" y="231.9"/><use href="#sp" x="113.8" y="227.5"/><use href="#sp" x="78.7" y="245.8"/><use href="#sp" x="107.8" y="231.4"/><use href="#sp" x="95.7" y="235.0"/><use href="#sp" x="100.3" y="228.7"/><use href="#sp" x="102.7" y="229.1"/><use href="#sp" x="87.8" y="241.5"/><use href="#sp" x="84.2" y="243.6"/><use href="#sp" x="106.2" y="230.0"/><use href="#sp" x="97.8" y="235.8"/><use href="#sp" x="91.6" y="235.1"/><use href="#sp" x="88.1" y="240.3"/><use href="#sp" x="97.4" y="237.3"/><use href="#sp" x="75.8" y="245.0"/><use href="#sp" x="80.1" y="242.1"/><use href="#sp" x="78.1" y="247.1"/><use href="#sp" x="94.7" y="234.5"/><use href="#sp" x="105.7" y="229.9"/><use href="#sp" x="101.7" y="229.7"/><use href="#sp" x="105.9" y="226.5"/><use href="#sp" x="91.8" y="231.9"/><use href="#sp" x="101.3" y="226.1"/><use href="#sp" x="104.2" y="226.2"/><use href="#sp" x="102.2" y="229.1"/><use href="#sp" x="98.2" y="233.8"/><use href="#sp" x="96.6" y="234.6"/><use href="#sp" x="94.9" y="233.8"/><use href="#sp" x="93.3" y="240.2"/><use href="#sp" x="105.5" y="226.8"/><use href="#sp" x="105.7" y="229.8"/><use href="#sp" x="102.6" y="232.0"/><use href="#sp" x="80.7" y="241.4"/><use href="#sp" x="93.7" y="234.5"/><use href="#sp" x="85.6" y="242.5"/><use href="#sp" x="98.6" y="234.0"/><use href="#sp" x="116.1" y="221.0"/><use href="#sp" x="86.9" y="236.8"/><use href="#sp" x="113.7" y="223.0"/><use href="#sp" x="99.6" y="237.6"/><use href="#sp" x="96.7" y="233.1"/><use href="#sp" x="97.4" y="233.6"/><use href="#sp" x="103.5" y="230.3"/><use href="#sp" x="104.3" y="229.9"/><use href="#sp" x="92.2" y="237.1"/><use href="#sp" x="99.7" y="233.2"/><use href="#sp" x="97.3" y="237.5"/><use href="#sp" x="107.5" y="227.7"/><use href="#sp" x="100.0" y="233.9"/><use href="#sp" x="99.5" y="235.8"/><use href="#sp" x="87.0" y="245.4"/><use href="#sp" x="110.9" y="227.0"/><use href="#sp" x="91.7" y="236.6"/><use href="#sp" x="100.5" y="229.7"/><use href="#sp" x="99.8" y="232.7"/><use href="#sp" x="105.7" y="226.8"/><use href="#sp" x="96.4" y="233.1"/><use href="#sp" x="108.9" y="227.3"/><use href="#sp" x="97.6" y="229.3"/><use href="#sp" x="99.1" y="234.9"/><use href="#sp" x="96.1" y="233.7"/><use href="#sp" x="98.4" y="236.6"/><use href="#sp" x="102.3" y="229.6"/><use href="#sp" x="98.9" y="231.9"/><use href="#sp" x="99.7" y="232.8"/><use href="#sp" x="103.6" y="232.9"/><use href="#sp" x="97.6" y="237.3"/><use href="#sp" x="80.4" y="245.6"/><use href="#sp" x="103.0" y="231.3"/><use href="#sp" x="85.7" y="236.9"/><use href="#sp" x="107.8" y="230.5"/><use href="#sp" x="82.6" y="241.3"/><use href="#sp" x="81.5" y="243.6"/><use href="#sp" x="80.8" y="246.9"/><use href="#sp" x="92.4" y="240.3"/><use href="#sp" x="101.2" y="231.3"/><use href="#sp" x="110.3" y="223.8"/><use href="#sp" x="92.2" y="238.9"/><use href="#sp" x="97.9" y="234.4"/><use href="#sp" x="83.6" y="244.7"/><use href="#sp" x="96.2" y="235.7"/><use href="#sp" x="91.6" y="236.2"/><use href="#sp" x="97.1" y="236.0"/><use href="#sp" x="73.3" y="249.8"/><use href="#sp" x="84.5" y="241.1"/><use href="#sp" x="85.2" y="241.4"/><use href="#sp" x="102.2" y="230.3"/><use href="#sp" x="90.2" y="238.6"/><use href="#sp" x="104.0" y="229.6"/><use href="#sp" x="84.9" y="241.6"/><use href="#sp" x="87.4" y="239.8"/><use href="#sp" x="98.6" y="232.3"/><use href="#sp" x="120.5" y="223.1"/><use href="#sp" x="96.5" y="230.8"/><use href="#sp" x="91.9" y="237.2"/><use href="#sp" x="120.8" y="221.6"/><use href="#sp" x="105.7" y="228.0"/><use href="#sp" x="95.4" y="233.6"/><use href="#sp" x="109.1" y="230.4"/><use href="#sp" x="117.4" y="223.9"/><use href="#sp" x="107.8" y="228.1"/><use href="#sp" x="101.2" y="231.4"/><use href="#sp" x="92.9" y="233.9"/><use href="#sp" x="97.8" y="233.3"/><use href="#sp" x="111.7" y="228.5"/><use href="#sp" x="94.5" y="238.0"/><use href="#sp" x="109.5" y="227.3"/><use href="#sp" x="105.8" y="230.0"/><use href="#sp" x="111.4" y="223.8"/><use href="#sp" x="119.8" y="222.6"/><use href="#sp" x="90.2" y="237.3"/><use href="#sp" x="113.0" y="221.9"/><use href="#sp" x="85.7" y="245.2"/><use href="#sp" x="93.5" y="236.4"/><use href="#sp" x="97.0" y="237.1"/><use href="#sp" x="85.3" y="241.3"/><use href="#sp" x="101.3" y="232.2"/><use href="#sp" x="101.3" y="234.3"/><use href="#sp" x="104.5" y="230.4"/><use href="#sp" x="91.3" y="239.6"/><use href="#sp" x="101.4" y="231.3"/><use href="#sp" x="117.2" y="225.1"/><use href="#sp" x="123.0" y="224.2"/><use href="#sp" x="100.1" y="232.8"/><use href="#sp" x="96.0" y="234.3"/><use href="#sp" x="104.1" y="234.4"/><use href="#sp" x="96.9" y="236.3"/><use href="#sp" x="104.5" y="232.3"/><use href="#sp" x="105.5" y="229.6"/><use href="#sp" x="97.1" y="237.7"/><use href="#sp" x="102.1" y="232.9"/><use href="#sp" x="105.6" y="232.2"/><use href="#sp" x="115.2" y="225.9"/><use href="#sp" x="97.1" y="231.2"/><use href="#sp" x="106.2" y="231.1"/><use href="#sp" x="99.6" y="238.1"/><use href="#sp" x="107.1" y="233.5"/><use href="#sp" x="97.3" y="233.6"/><use href="#sp" x="86.1" y="242.0"/><use href="#sp" x="91.3" y="239.2"/><use href="#sp" x="88.9" y="239.3"/><use href="#sp" x="104.5" y="231.3"/><use href="#sp" x="93.9" y="238.1"/><use href="#sp" x="101.7" y="233.5"/><use href="#sp" x="99.2" y="232.0"/><use href="#sp" x="96.8" y="236.2"/><use href="#sp" x="96.6" y="234.8"/><use href="#sp" x="107.3" y="225.6"/><use href="#sp" x="105.9" y="231.5"/><use href="#sp" x="104.5" y="226.8"/><use href="#sp" x="95.7" y="233.9"/><use href="#sp" x="98.6" y="235.4"/><use href="#sp" x="87.8" y="244.1"/><use href="#sp" x="101.5" y="233.9"/><use href="#sp" x="96.1" y="236.7"/><use href="#sp" x="83.8" y="243.4"/><use href="#sp" x="106.2" y="230.1"/><use href="#sp" x="94.0" y="236.6"/><use href="#sp" x="91.1" y="232.0"/><use href="#sp" x="99.4" y="233.5"/><use href="#sp" x="87.5" y="244.9"/><use href="#sp" x="108.3" y="228.6"/><use href="#sp" x="101.0" y="232.4"/><use href="#sp" x="100.0" y="228.4"/><use href="#sp" x="95.6" y="243.7"/><use href="#sp" x="97.1" y="233.7"/><use href="#sp" x="97.5" y="234.6"/><use href="#sp" x="91.2" y="239.6"/><use href="#sp" x="98.2" y="233.6"/><use href="#sp" x="106.3" y="228.3"/><use href="#sp" x="102.8" y="231.0"/><use href="#sp" x="110.3" y="225.6"/><use href="#sp" x="106.1" y="227.8"/><use href="#sp" x="113.8" y="225.2"/><use href="#sp" x="98.1" y="233.3"/><use href="#sp" x="106.6" y="229.1"/><use href="#sp" x="102.1" y="232.1"/><use href="#sp" x="92.3" y="235.9"/><use href="#sp" x="95.7" y="234.6"/><use href="#sp" x="96.6" y="236.1"/><use href="#sp" x="97.0" y="233.9"/><use href="#sp" x="97.6" y="231.0"/><use href="#sp" x="100.1" y="233.1"/><use href="#sp" x="107.6" y="222.9"/><use href="#sp" x="91.6" y="235.7"/><use href="#sp" x="102.3" y="230.2"/><use href="#sp" x="103.8" y="234.8"/><use href="#sp" x="83.4" y="243.3"/><use href="#sp" x="94.5" y="234.0"/><use href="#sp" x="96.3" y="234.7"/><use href="#sp" x="99.5" y="233.1"/><use href="#sp" x="103.4" y="235.6"/><use href="#sp" x="118.2" y="227.4"/><use href="#sp" x="102.6" y="229.7"/><use href="#sp" x="95.7" y="237.7"/><use href="#sp" x="106.3" y="231.3"/><use href="#sp" x="97.6" y="238.5"/><use href="#sp" x="93.3" y="235.1"/><use href="#sp" x="90.0" y="239.3"/><use href="#sp" x="92.9" y="237.3"/><use href="#sp" x="108.0" y="224.2"/><use href="#sp" x="96.4" y="241.7"/><use href="#sp" x="92.1" y="237.7"/><use href="#sp" x="85.7" y="239.7"/><use href="#sp" x="82.8" y="242.5"/><use href="#sp" x="81.3" y="241.5"/><use href="#sp" x="103.9" y="230.6"/><use href="#sp" x="95.6" y="233.1"/><use href="#sp" x="104.6" y="232.2"/><use href="#sp" x="113.7" y="224.3"/><use href="#sp" x="87.9" y="241.5"/><use href="#sp" x="107.2" y="228.3"/><use href="#sp" x="97.3" y="231.1"/><use href="#sp" x="93.1" y="234.7"/><use href="#sp" x="95.2" y="236.7"/><use href="#sp" x="102.4" y="230.1"/><use href="#sp" x="100.8" y="231.4"/><use href="#sp" x="104.7" y="230.8"/><use href="#sp" x="104.6" y="227.0"/><use href="#sp" x="104.7" y="233.8"/><use href="#sp" x="92.8" y="233.7"/><use href="#sp" x="102.6" y="224.9"/><use href="#sp" x="94.0" y="235.0"/><use href="#sp" x="92.1" y="232.4"/><use href="#sp" x="81.1" y="240.3"/><use href="#sp" x="108.7" y="229.5"/><use href="#sp" x="108.0" y="227.4"/><use href="#sp" x="83.5" y="239.8"/><use href="#sp" x="91.2" y="236.1"/><use href="#sp" x="103.6" y="235.9"/><use href="#sp" x="107.3" y="227.8"/><use href="#sp" x="76.2" y="245.9"/><use href="#sp" x="121.0" y="223.4"/><use href="#sp" x="97.9" y="231.8"/><use href="#sp" x="108.8" y="230.0"/><use href="#sp" x="92.5" y="236.3"/><use href="#sp" x="83.9" y="239.5"/><use href="#sp" x="94.1" y="236.3"/><use href="#sp" x="89.8" y="239.1"/><use href="#sp" x="100.5" y="232.1"/><use href="#sp" x="109.4" y="227.0"/><use href="#sp" x="95.1" y="234.8"/><use href="#sp" x="88.1" y="240.8"/><use href="#sp" x="93.2" y="239.7"/><use href="#sp" x="85.0" y="239.0"/><use href="#sp" x="101.5" y="229.1"/><use href="#sp" x="91.6" y="237.5"/><use href="#sp" x="82.5" y="244.0"/><use href="#sp" x="94.6" y="236.1"/><use href="#sp" x="105.7" y="228.1"/><use href="#sp" x="95.1" y="235.5"/><use href="#sp" x="93.3" y="236.0"/><use href="#sp" x="93.9" y="235.7"/><use href="#sp" x="97.7" y="232.9"/><use href="#sp" x="116.8" y="229.5"/><use href="#sp" x="84.5" y="240.9"/><use href="#sp" x="75.9" y="246.2"/><use href="#sp" x="92.8" y="234.2"/><use href="#sp" x="105.9" y="228.9"/><use href="#sp" x="92.2" y="235.5"/><use href="#sp" x="97.6" y="234.0"/><use href="#sp" x="98.7" y="233.7"/><use href="#sp" x="90.8" y="238.4"/><use href="#sp" x="101.7" y="230.4"/><use href="#sp" x="90.8" y="242.9"/><use href="#sp" x="113.0" y="224.2"/><use href="#sp" x="93.5" y="238.7"/><use href="#sp" x="88.6" y="242.7"/><use href="#sp" x="120.0" y="217.1"/><use href="#sp" x="90.6" y="237.1"/><use href="#sp" x="108.8" y="227.6"/><use href="#sp" x="110.3" y="228.8"/><use href="#sp" x="98.3" y="234.8"/><use href="#sp" x="89.2" y="241.6"/><use href="#sp" x="86.5" y="242.0"/><use href="#sp" x="98.7" y="232.4"/><use href="#sp" x="88.4" y="239.6"/><use href="#sp" x="97.1" y="233.7"/><use href="#sp" x="98.0" y="235.0"/><use href="#sp" x="98.9" y="232.2"/><use href="#sp" x="99.4" y="229.9"/><use href="#sp" x="93.9" y="237.6"/><use href="#sp" x="112.3" y="222.2"/><use href="#sp" x="104.2" y="228.5"/><use href="#sp" x="108.3" y="230.8"/><use href="#sp" x="102.3" y="228.5"/><use href="#sp" x="89.5" y="239.1"/><use href="#sp" x="89.5" y="234.9"/><use href="#sp" x="99.6" y="229.0"/><use href="#sp" x="101.6" y="233.7"/><use href="#sp" x="114.3" y="224.5"/><use href="#sp" x="98.7" y="232.3"/><use href="#sp" x="100.3" y="228.9"/><use href="#sp" x="96.9" y="233.8"/><use href="#sp" x="97.6" y="233.7"/><use href="#sp" x="102.1" y="230.1"/><use href="#sp" x="115.6" y="224.2"/><use href="#sp" x="86.6" y="239.7"/><use href="#sp" x="98.8" y="232.6"/><use href="#sp" x="102.3" y="234.5"/><use href="#sp" x="91.9" y="241.4"/><use href="#sp" x="90.7" y="240.1"/><use href="#sp" x="100.6" y="235.2"/><use href="#sp" x="110.9" y="225.3"/><use href="#sp" x="99.2" y="233.6"/><use href="#sp" x="102.0" y="230.5"/><use href="#sp" x="98.6" y="236.1"/><use href="#sp" x="95.0" y="236.7"/><use href="#sp" x="86.9" y="241.8"/><use href="#sp" x="76.7" y="250.2"/><use href="#sp" x="90.6" y="241.4"/><use href="#sp" x="103.3" y="232.7"/><use href="#sp" x="103.3" y="229.2"/><use href="#sp" x="107.7" y="228.5"/><use href="#sp" x="114.2" y="221.7"/><use href="#sp" x="102.3" y="231.0"/><use href="#sp" x="92.9" y="239.5"/><use href="#sp" x="84.6" y="238.9"/><use href="#sp" x="88.1" y="236.8"/><use href="#sp" x="81.6" y="239.3"/><use href="#sp" x="117.5" y="226.5"/><use href="#sp" x="102.1" y="231.4"/><use href="#sp" x="106.3" y="232.1"/><use href="#sp" x="84.7" y="242.2"/><use href="#sp" x="101.5" y="231.5"/><use href="#sp" x="93.0" y="238.4"/><use href="#sp" x="104.7" y="229.9"/><use href="#sp" x="113.0" y="227.6"/><use href="#sp" x="109.5" y="228.8"/><use href="#sp" x="88.1" y="237.3"/><use href="#sp" x="82.6" y="240.4"/><use href="#sp" x="109.6" y="229.1"/><use href="#sp" x="101.0" y="233.3"/><use href="#sp" x="93.0" y="235.2"/><use href="#sp" x="101.3" y="239.2"/><use href="#sp" x="98.5" y="237.9"/><use href="#sp" x="101.1" y="229.2"/><use href="#sp" x="114.9" y="226.6"/><use href="#sp" x="96.3" y="233.2"/><use href="#sp" x="88.9" y="237.1"/><use href="#sp" x="111.5" y="224.3"/><use href="#sp" x="82.1" y="243.8"/><use href="#sp" x="91.0" y="236.7"/><use href="#sp" x="95.5" y="234.9"/><use href="#sp" x="101.1" y="231.2"/><use href="#sp" x="93.5" y="240.8"/><use href="#sp" x="97.3" y="230.9"/><use href="#sp" x="93.4" y="235.6"/><use href="#sp" x="94.6" y="234.9"/><use href="#sp" x="111.0" y="228.0"/><use href="#sp" x="103.0" y="229.2"/><use href="#sp" x="87.1" y="238.7"/><use href="#sp" x="103.5" y="232.3"/><use href="#sp" x="103.2" y="231.3"/><use href="#sp" x="101.1" y="231.2"/><use href="#sp" x="106.1" y="230.9"/><use href="#sp" x="97.1" y="234.2"/><use href="#sp" x="97.5" y="230.6"/><use href="#sp" x="107.3" y="228.7"/><use href="#sp" x="95.2" y="235.1"/><use href="#sp" x="103.0" y="228.6"/><use href="#sp" x="102.1" y="232.3"/><use href="#sp" x="84.6" y="238.7"/><use href="#sp" x="87.1" y="241.2"/><use href="#sp" x="104.3" y="227.3"/><use href="#sp" x="105.9" y="227.3"/><use href="#sp" x="83.8" y="243.1"/><use href="#sp" x="98.9" y="233.1"/><use href="#sp" x="101.2" y="236.3"/><use href="#sp" x="86.1" y="241.6"/><use href="#sp" x="94.1" y="233.7"/><use href="#sp" x="101.8" y="230.2"/><use href="#sp" x="92.2" y="237.8"/><use href="#sp" x="101.9" y="233.1"/><use href="#sp" x="89.2" y="243.9"/><use href="#sp" x="109.1" y="226.9"/><use href="#sp" x="74.8" y="247.1"/><use href="#sp" x="102.5" y="230.4"/><use href="#sp" x="109.6" y="229.3"/><use href="#sp" x="104.7" y="233.6"/><use href="#sp" x="85.8" y="241.4"/><use href="#sp" x="89.8" y="244.0"/><use href="#sp" x="100.0" y="228.8"/><use href="#sp" x="110.0" y="224.0"/><use href="#sp" x="96.0" y="234.4"/><use href="#sp" x="107.3" y="226.6"/><use href="#sp" x="85.1" y="239.1"/><use href="#sp" x="105.7" y="230.2"/><use href="#sp" x="108.9" y="229.3"/><use href="#sp" x="114.7" y="226.4"/><use href="#sp" x="109.5" y="225.2"/><use href="#sp" x="86.3" y="243.5"/><use href="#sp" x="100.6" y="226.3"/><use href="#sp" x="106.6" y="226.5"/><use href="#sp" x="90.1" y="237.7"/><use href="#sp" x="95.7" y="233.7"/><use href="#sp" x="101.7" y="233.1"/><use href="#sp" x="103.3" y="232.6"/><use href="#sp" x="112.5" y="225.9"/><use href="#sp" x="106.0" y="231.1"/><use href="#sp" x="85.8" y="239.0"/><use href="#sp" x="89.8" y="234.0"/><use href="#sp" x="115.8" y="223.7"/><use href="#sp" x="90.8" y="236.1"/><use href="#sp" x="99.8" y="234.9"/><use href="#sp" x="99.0" y="234.1"/><use href="#sp" x="102.3" y="231.0"/><use href="#sp" x="114.3" y="226.1"/><use href="#sp" x="112.6" y="229.0"/><use href="#sp" x="113.5" y="227.9"/><use href="#sp" x="89.1" y="243.4"/><use href="#sp" x="82.8" y="242.1"/><use href="#sp" x="81.2" y="242.8"/><use href="#sp" x="104.9" y="231.8"/><use href="#sp" x="98.2" y="232.5"/><use href="#sp" x="98.3" y="235.2"/><use href="#sp" x="85.2" y="239.7"/><use href="#sp" x="93.7" y="232.1"/><use href="#sp" x="85.5" y="239.7"/><use href="#sp" x="83.9" y="243.9"/><use href="#sp" x="100.5" y="232.3"/><use href="#sp" x="88.5" y="236.3"/><use href="#sp" x="87.8" y="243.5"/><use href="#sp" x="120.6" y="224.2"/><use href="#sp" x="99.7" y="233.3"/><use href="#sp" x="87.5" y="243.2"/><use href="#sp" x="89.3" y="235.8"/><use href="#sp" x="96.8" y="234.8"/><use href="#sp" x="88.3" y="238.2"/><use href="#sp" x="90.3" y="236.6"/><use href="#sp" x="87.7" y="238.0"/><use href="#sp" x="95.4" y="236.8"/><use href="#sp" x="93.7" y="234.4"/><use href="#sp" x="108.1" y="230.3"/><use href="#sp" x="113.3" y="225.3"/><use href="#sp" x="90.8" y="236.3"/><use href="#sp" x="105.4" y="230.7"/><use href="#sp" x="90.5" y="239.4"/><use href="#sp" x="107.5" y="229.9"/><use href="#sp" x="88.1" y="239.7"/><use href="#sp" x="46.4" y="270.3"/><use href="#sp" x="66.5" y="265.0"/><use href="#sp" x="69.2" y="255.9"/><use href="#sp" x="65.4" y="252.1"/><use href="#sp" x="71.1" y="251.3"/><use href="#sp" x="74.9" y="246.4"/><use href="#sp" x="70.0" y="240.7"/><use href="#sp" x="125.8" y="210.4"/><use href="#sp" x="121.6" y="214.2"/><use href="#sp" x="123.2" y="215.7"/><use href="#sp" x="126.6" y="217.2"/><use href="#sp" x="118.6" y="219.9"/><use href="#sp" x="116.3" y="221.8"/><use href="#sp" x="73.0" y="243.4"/><use href="#sp" x="75.7" y="254.0"/>
<line x1="47.16" y1="261.95" x2="142.54" y2="210.03" stroke="#333" stroke-width="0.6"/>
<rect x="42.60" y="176.30" width="114.00" height="113.70" fill="none" stroke="#888" stroke-width="0.7"/>
<line x1="38.60" y1="176.30" x2="42.60" y2="176.30" stroke="#888" stroke-width="0.7"/>
<text x="34.80" y="178.67" font-size="6.50" text-anchor="end" stroke="#231f20" stroke-width="0.12">15</text>
<line x1="156.60" y1="290.00" x2="156.60" y2="294.20" stroke="#888" stroke-width="0.7"/>
<text x="156.60" y="302.80" font-size="6.50" text-anchor="middle" stroke="#231f20" stroke-width="0.12">15</text>
<line x1="38.60" y1="195.25" x2="42.60" y2="195.25" stroke="#888" stroke-width="0.7"/>
<text x="34.80" y="197.62" font-size="6.50" text-anchor="end" stroke="#231f20" stroke-width="0.12">10</text>
<line x1="137.60" y1="290.00" x2="137.60" y2="294.20" stroke="#888" stroke-width="0.7"/>
<text x="137.60" y="302.80" font-size="6.50" text-anchor="middle" stroke="#231f20" stroke-width="0.12">10</text>
<line x1="38.60" y1="214.20" x2="42.60" y2="214.20" stroke="#888" stroke-width="0.7"/>
<text x="34.80" y="216.57" font-size="6.50" text-anchor="end" stroke="#231f20" stroke-width="0.12">5</text>
<line x1="118.60" y1="290.00" x2="118.60" y2="294.20" stroke="#888" stroke-width="0.7"/>
<text x="118.60" y="302.80" font-size="6.50" text-anchor="middle" stroke="#231f20" stroke-width="0.12">5</text>
<line x1="38.60" y1="233.15" x2="42.60" y2="233.15" stroke="#888" stroke-width="0.7"/>
<text x="34.80" y="235.52" font-size="6.50" text-anchor="end" stroke="#231f20" stroke-width="0.12">0</text>
<line x1="99.60" y1="290.00" x2="99.60" y2="294.20" stroke="#888" stroke-width="0.7"/>
<text x="99.60" y="302.80" font-size="6.50" text-anchor="middle" stroke="#231f20" stroke-width="0.12">0</text>
<line x1="38.60" y1="252.10" x2="42.60" y2="252.10" stroke="#888" stroke-width="0.7"/>
<text x="34.80" y="254.47" font-size="6.50" text-anchor="end" stroke="#231f20" stroke-width="0.12">−5</text>
<line x1="80.60" y1="290.00" x2="80.60" y2="294.20" stroke="#888" stroke-width="0.7"/>
<text x="80.60" y="302.80" font-size="6.50" text-anchor="middle" stroke="#231f20" stroke-width="0.12">−5</text>
<line x1="38.60" y1="271.05" x2="42.60" y2="271.05" stroke="#888" stroke-width="0.7"/>
<text x="34.80" y="273.42" font-size="6.50" text-anchor="end" stroke="#231f20" stroke-width="0.12">−10</text>
<line x1="61.60" y1="290.00" x2="61.60" y2="294.20" stroke="#888" stroke-width="0.7"/>
<text x="61.60" y="302.80" font-size="6.50" text-anchor="middle" stroke="#231f20" stroke-width="0.12">−10</text>
<line x1="38.60" y1="290.00" x2="42.60" y2="290.00" stroke="#888" stroke-width="0.7"/>
<text x="34.80" y="292.37" font-size="6.50" text-anchor="end" stroke="#231f20" stroke-width="0.12">−15</text>
<line x1="42.60" y1="290.00" x2="42.60" y2="294.20" stroke="#888" stroke-width="0.7"/>
<text x="42.60" y="302.80" font-size="6.50" text-anchor="middle" stroke="#231f20" stroke-width="0.12">−15</text>
<text x="0" y="0" font-size="6.50" text-anchor="middle" transform="translate(21.67 233.15) rotate(-90)" stroke="#231f20" stroke-width="0.12">WT versus p.Glu50fs*3</text>
<text x="99.60" y="313.80" font-size="6.50" text-anchor="middle" stroke="#231f20" stroke-width="0.12">WT versus p.Tyr622*</text>
<text x="122.50" y="281.50" font-size="6.50" text-anchor="middle" stroke="#231f20" stroke-width="0.12">Up in</text>
<text x="123.00" y="288.60" font-size="6.50" text-anchor="middle" stroke="#231f20" stroke-width="0.12">p.Tyr622*</text>
<line x1="138.30" y1="286.20" x2="149.94" y2="286.20" stroke="#231f20" stroke-width="0.7"/>
<path d="M152.50,286.20 L149.30,284.80 L149.30,287.60 Z" fill="#231f20"/>
<line x1="153.00" y1="272.00" x2="153.00" y2="281.94" stroke="#231f20" stroke-width="0.7"/>
<path d="M153.00,284.50 L151.60,281.30 L154.40,281.30 Z" fill="#231f20"/>
<text x="0" y="0" font-size="6.50" text-anchor="middle" transform="translate(146.97 254.50) rotate(-90)" stroke="#231f20" stroke-width="0.12">Down in</text>
<text x="0" y="0" font-size="6.50" text-anchor="middle" transform="translate(154.37 252.50) rotate(-90)" stroke="#231f20" stroke-width="0.12">p.Glu50fs*3</text>
<text x="205.00" y="6.20" font-size="11.50" font-weight="bold" fill="#000" stroke="#000" stroke-width="0.12">c</text>
<path d="M252.3,100.8 L237.4,126.6 M316.6,87.8 L296.4,69.9 M243.7,98.4 L344.7,83.3 M257.1,113.2 L348.4,96.6 M297.8,25.4 L242.6,124.0 M247.3,101.4 L368.2,61.4 M249.9,97.6 L300.3,35.0 M282.0,52.6 L300.2,50.3 M250.3,115.2 L283.6,54.6 M276.6,96.3 L297.6,28.8 M299.0,55.7 L343.4,101.7 M365.7,55.2 L283.9,54.2 M297.5,68.1 L312.6,87.9 M276.3,92.1 L243.8,125.7 M345.6,98.9 L285.9,87.0 M257.5,106.9 L336.2,87.0 M252.4,107.1 L275.8,91.4 M300.9,28.0 L246.4,107.6 M248.4,112.7 L278.5,91.5 M255.5,108.1 L246.6,99.3 M343.8,79.5 L309.3,90.4 M240.2,121.9 L312.8,83.8 M298.3,30.1 L282.1,52.4 M346.0,104.0 L339.9,82.2 M295.5,54.8 L286.8,51.2 M281.5,54.1 L343.0,77.7 M344.0,95.5 L245.4,98.3 M293.3,76.9 L290.8,51.6 M301.0,51.4 L232.4,118.2 M365.7,55.3 L301.2,50.7 M282.7,46.4 L294.9,54.5 M362.5,64.4 L302.8,51.3 M284.7,45.8 L284.3,96.4 M303.9,31.2 L246.6,98.8 M246.5,113.1 L290.9,53.8 M298.7,57.4 L369.0,59.4 M238.2,123.1 L282.7,45.9 M308.5,26.1 L316.4,89.6 M252.8,96.7 L335.7,83.1 M241.0,121.4 L300.2,73.0 M311.9,85.5 L369.6,63.0 M348.0,98.2 L308.6,88.0 M297.8,34.8 L303.9,51.1 M253.1,101.3 L338.6,82.2 M282.6,95.4 L369.5,58.2 M307.5,25.4 L342.5,82.7 M343.5,77.2 L275.6,91.5 M299.8,26.4 L334.6,83.3 M249.6,99.6 L288.7,54.6 M276.4,91.8 L309.1,83.1 M250.6,94.8 L235.3,121.5 M300.0,60.0 L233.9,126.5 M295.0,59.3 L315.7,84.3 M249.5,102.1 L311.5,88.7 M237.6,124.5 L364.5,62.2 M275.5,89.4 L298.7,50.9 M345.7,86.3 L235.1,125.2 M303.1,25.4 L366.1,59.2 M345.0,79.2 L252.4,97.3 M303.4,31.9 L300.0,72.7 M238.2,124.8 L299.3,58.8 M246.5,108.9 L300.3,52.9 M301.7,55.2 L242.1,123.6 M338.6,85.5 L284.8,89.1 M295.3,73.7 L234.4,123.4 M239.3,118.3 L308.6,30.2 M350.6,100.6 L237.9,124.9 M284.5,54.2 L241.6,122.0 M312.9,86.4 L252.8,102.4 M245.8,94.9 L239.4,127.3 M298.4,68.2 L296.3,52.3 M277.9,90.6 L341.4,78.0 M295.5,55.1 L248.5,108.7 M232.3,124.3 L350.9,101.2 M242.4,123.3 L309.6,85.2 M239.0,119.4 L256.5,113.0 M365.8,58.1 L300.1,70.2 M308.6,85.4 L287.7,47.6 M289.0,49.2 L350.5,96.3 M349.2,95.2 L276.4,93.8 M370.5,61.3 L283.1,55.0 M312.8,83.2 L288.1,51.1 M247.3,108.5 L244.4,101.4 M335.1,77.6 L285.4,91.6 M283.7,49.3 L366.3,57.1 M369.6,55.4 L299.4,29.1 M366.4,64.2 L301.3,50.9 M307.7,33.0 L370.5,63.6 M280.8,88.9 L348.0,98.4 M287.9,46.6 L305.2,51.3 M370.3,62.7 L241.2,122.1 M294.8,53.4 L294.6,68.1 M372.8,55.5 L277.3,96.6 M336.6,81.1 L364.2,55.8 M239.7,125.0 L251.1,102.8 M304.4,32.4 L282.1,49.0 M304.8,25.1 L310.1,85.8 M368.5,59.2 L238.2,126.5 M284.3,51.4 L280.6,93.7 M308.2,26.6 L346.7,96.7 M249.3,93.6 L243.3,122.2 M239.2,121.7 L344.4,101.6 M240.0,125.5 L334.3,84.7 M253.1,110.8 L305.2,25.5 M366.8,60.8 L302.7,53.2 M315.6,85.5 L350.1,95.5 M289.9,46.4 L305.5,52.5" fill="none" stroke="#d0d0d0" stroke-width="0.3" stroke-opacity="0.6"/>
<path d="M251.5,111.7L230.0,123.2M251.5,111.7L240.0,100.2 M251.5,111.7L231.8,121.5M251.5,111.7L241.2,100.5 M251.5,111.7L233.6,124.2M251.5,111.7L242.4,101.4 M251.5,111.7L235.4,119.9M251.5,111.7L243.6,101.5 M251.5,111.7L237.2,119.8M251.5,111.7L244.8,101.7 M251.5,111.7L239.0,122.6M251.5,111.7L246.0,102.6 M251.5,111.7L240.8,123.1M251.5,111.7L247.2,101.5 M251.5,111.7L242.6,123.5M251.5,111.7L248.4,103.3 M251.5,111.7L244.4,119.8M251.5,111.7L249.6,101.2 M251.5,111.7L246.2,119.8M251.5,111.7L250.8,101.9 M251.5,111.7L248.0,122.0M251.5,111.7L252.0,101.2 M251.5,111.7L249.8,122.0M251.5,111.7L253.2,103.4 M251.5,111.7L251.6,120.6M251.5,111.7L254.4,102.4 M251.5,111.7L253.4,123.4M251.5,111.7L255.6,102.8" fill="none" stroke="#bdbdbd" stroke-width="0.35"/>
<ellipse cx="304.5" cy="28.5" rx="6.8" ry="5.6" fill="#e8601c"/>
<defs><rect id="qe8601c" x="-1.5" y="-1.5" width="3" height="3" fill="#e8601c" stroke="#111" stroke-width="0.45"/></defs>
<use href="#qe8601c" x="304.6" y="29.7"/><use href="#qe8601c" x="302.7" y="28.4"/><use href="#qe8601c" x="305.5" y="27.5"/><use href="#qe8601c" x="306.4" y="27.9"/><use href="#qe8601c" x="307.4" y="22.7"/><use href="#qe8601c" x="306.3" y="32.9"/><use href="#qe8601c" x="303.1" y="25.0"/>
<defs><circle id="ce8601c" r="1.65" fill="#e8601c" stroke="#111" stroke-width="0.45"/></defs>
<use href="#ce8601c" x="309.0" y="25.1"/><use href="#ce8601c" x="303.6" y="30.6"/><use href="#ce8601c" x="310.2" y="27.6"/><use href="#ce8601c" x="308.3" y="24.7"/><use href="#ce8601c" x="296.4" y="29.1"/><use href="#ce8601c" x="302.5" y="24.5"/><use href="#ce8601c" x="303.4" y="28.4"/><use href="#ce8601c" x="299.9" y="24.6"/><use href="#ce8601c" x="310.2" y="29.3"/><use href="#ce8601c" x="301.7" y="31.6"/><use href="#ce8601c" x="311.9" y="27.4"/><use href="#ce8601c" x="307.4" y="25.7"/><use href="#ce8601c" x="300.1" y="32.7"/><use href="#ce8601c" x="298.9" y="29.2"/><use href="#ce8601c" x="307.5" y="26.7"/><use href="#ce8601c" x="304.6" y="32.4"/><use href="#ce8601c" x="296.7" y="31.3"/><use href="#ce8601c" x="306.1" y="27.0"/><use href="#ce8601c" x="304.5" y="35.2"/><use href="#ce8601c" x="305.2" y="33.5"/><use href="#ce8601c" x="304.7" y="34.8"/><use href="#ce8601c" x="303.8" y="25.3"/><use href="#ce8601c" x="309.3" y="33.0"/><use href="#ce8601c" x="308.6" y="32.8"/><use href="#ce8601c" x="310.8" y="29.5"/><use href="#ce8601c" x="304.6" y="28.3"/><use href="#ce8601c" x="301.9" y="29.0"/><use href="#ce8601c" x="299.9" y="24.0"/><use href="#ce8601c" x="310.6" y="32.7"/><use href="#ce8601c" x="309.9" y="25.1"/><use href="#ce8601c" x="300.2" y="23.0"/><use href="#ce8601c" x="301.9" y="22.5"/><use href="#ce8601c" x="305.0" y="23.9"/><use href="#ce8601c" x="308.1" y="27.9"/><use href="#ce8601c" x="304.1" y="21.8"/><use href="#ce8601c" x="303.2" y="24.1"/><use href="#ce8601c" x="311.3" y="28.6"/><use href="#ce8601c" x="308.2" y="23.7"/><use href="#ce8601c" x="307.5" y="29.1"/><use href="#ce8601c" x="304.8" y="24.6"/><use href="#ce8601c" x="302.7" y="29.6"/><use href="#ce8601c" x="306.7" y="22.3"/><use href="#ce8601c" x="301.2" y="33.5"/>
<use href="#ce8601c" x="290.0" y="36.5"/><use href="#ce8601c" x="292.8" y="37.2"/><use href="#ce8601c" x="295.6" y="38.2"/><use href="#ce8601c" x="298.5" y="39.5"/><use href="#ce8601c" x="301.3" y="40.8"/><use href="#ce8601c" x="306.5" y="41.5"/><use href="#ce8601c" x="307.0" y="44.5"/><use href="#ce8601c" x="310.5" y="50.0"/><use href="#ce8601c" x="314.0" y="52.0"/><use href="#ce8601c" x="307.0" y="47.5"/><use href="#ce8601c" x="306.5" y="36.0"/>
<ellipse cx="286.5" cy="51.0" rx="8.4" ry="5.2" fill="#1f64c8"/>
<defs><rect id="q1f64c8" x="-1.5" y="-1.5" width="3" height="3" fill="#1f64c8" stroke="#111" stroke-width="0.45"/></defs>
<use href="#q1f64c8" x="287.8" y="47.6"/><use href="#q1f64c8" x="291.2" y="50.8"/><use href="#q1f64c8" x="282.8" y="53.6"/><use href="#q1f64c8" x="288.3" y="48.6"/><use href="#q1f64c8" x="291.2" y="56.3"/><use href="#q1f64c8" x="289.7" y="48.1"/><use href="#q1f64c8" x="287.0" y="55.6"/><use href="#q1f64c8" x="293.1" y="46.5"/><use href="#q1f64c8" x="290.5" y="49.5"/><use href="#q1f64c8" x="276.4" y="51.8"/><use href="#q1f64c8" x="280.9" y="50.3"/><use href="#q1f64c8" x="287.0" y="44.6"/><use href="#q1f64c8" x="281.1" y="45.8"/><use href="#q1f64c8" x="287.0" y="46.9"/><use href="#q1f64c8" x="295.4" y="52.4"/><use href="#q1f64c8" x="280.4" y="52.2"/><use href="#q1f64c8" x="277.6" y="54.3"/>
<defs><circle id="c1f64c8" r="1.65" fill="#1f64c8" stroke="#111" stroke-width="0.45"/></defs>
<use href="#c1f64c8" x="293.5" y="54.1"/><use href="#c1f64c8" x="282.5" y="52.4"/><use href="#c1f64c8" x="288.2" y="46.6"/><use href="#c1f64c8" x="284.3" y="53.9"/><use href="#c1f64c8" x="295.9" y="51.6"/><use href="#c1f64c8" x="276.6" y="50.5"/><use href="#c1f64c8" x="284.0" y="56.1"/><use href="#c1f64c8" x="282.8" y="46.3"/><use href="#c1f64c8" x="292.7" y="54.0"/><use href="#c1f64c8" x="292.0" y="54.8"/><use href="#c1f64c8" x="279.4" y="54.3"/><use href="#c1f64c8" x="285.7" y="51.4"/><use href="#c1f64c8" x="295.4" y="51.0"/><use href="#c1f64c8" x="283.4" y="56.0"/><use href="#c1f64c8" x="285.7" y="51.9"/><use href="#c1f64c8" x="295.1" y="48.0"/><use href="#c1f64c8" x="282.5" y="56.9"/><use href="#c1f64c8" x="286.6" y="51.2"/><use href="#c1f64c8" x="286.7" y="56.6"/><use href="#c1f64c8" x="280.4" y="55.9"/><use href="#c1f64c8" x="283.6" y="46.7"/><use href="#c1f64c8" x="276.8" y="49.0"/><use href="#c1f64c8" x="291.6" y="46.0"/><use href="#c1f64c8" x="276.6" y="50.3"/><use href="#c1f64c8" x="291.5" y="56.2"/><use href="#c1f64c8" x="294.1" y="53.7"/><use href="#c1f64c8" x="280.7" y="53.1"/><use href="#c1f64c8" x="278.1" y="50.3"/><use href="#c1f64c8" x="278.7" y="52.1"/><use href="#c1f64c8" x="286.8" y="46.4"/><use href="#c1f64c8" x="281.4" y="52.4"/><use href="#c1f64c8" x="289.3" y="51.1"/><use href="#c1f64c8" x="288.4" y="52.6"/><use href="#c1f64c8" x="290.9" y="47.8"/><use href="#c1f64c8" x="284.6" y="45.9"/><use href="#c1f64c8" x="280.9" y="47.3"/><use href="#c1f64c8" x="285.8" y="48.5"/><use href="#c1f64c8" x="280.5" y="56.3"/><use href="#c1f64c8" x="291.3" y="50.1"/><use href="#c1f64c8" x="288.2" y="45.2"/><use href="#c1f64c8" x="292.9" y="49.3"/><use href="#c1f64c8" x="278.1" y="48.5"/><use href="#c1f64c8" x="285.5" y="49.8"/><use href="#c1f64c8" x="282.0" y="49.3"/><use href="#c1f64c8" x="288.0" y="49.6"/>
<use href="#q1f64c8" x="294.0" y="56.0"/><use href="#q1f64c8" x="296.8" y="58.5"/><use href="#q1f64c8" x="299.5" y="61.0"/><use href="#q1f64c8" x="289.0" y="43.5"/>
<defs><circle id="c2e8b3e" r="1.65" fill="#2e8b3e" stroke="#111" stroke-width="0.45"/></defs>
<use href="#c2e8b3e" x="302.0" y="63.5"/>
<ellipse cx="297.0" cy="73.5" rx="8.4" ry="5.2" fill="#2e8b3e"/>
<defs><rect id="q2e8b3e" x="-1.5" y="-1.5" width="3" height="3" fill="#2e8b3e" stroke="#111" stroke-width="0.45"/></defs>
<use href="#q2e8b3e" x="291.5" y="74.1"/><use href="#q2e8b3e" x="299.2" y="75.1"/><use href="#q2e8b3e" x="296.4" y="77.9"/><use href="#q2e8b3e" x="298.9" y="70.9"/><use href="#q2e8b3e" x="294.8" y="77.4"/><use href="#q2e8b3e" x="295.7" y="75.1"/><use href="#q2e8b3e" x="297.2" y="72.0"/><use href="#q2e8b3e" x="303.3" y="72.3"/><use href="#q2e8b3e" x="287.4" y="75.0"/><use href="#q2e8b3e" x="295.1" y="74.9"/><use href="#q2e8b3e" x="295.6" y="76.4"/><use href="#q2e8b3e" x="297.4" y="74.1"/><use href="#q2e8b3e" x="295.2" y="74.5"/><use href="#q2e8b3e" x="299.4" y="75.2"/><use href="#q2e8b3e" x="300.7" y="79.5"/><use href="#q2e8b3e" x="296.1" y="74.7"/><use href="#q2e8b3e" x="294.1" y="71.1"/><use href="#q2e8b3e" x="299.0" y="70.9"/><use href="#q2e8b3e" x="298.5" y="76.6"/><use href="#q2e8b3e" x="291.2" y="77.4"/><use href="#q2e8b3e" x="288.6" y="71.2"/><use href="#q2e8b3e" x="305.1" y="72.9"/><use href="#q2e8b3e" x="289.0" y="73.9"/><use href="#q2e8b3e" x="303.4" y="77.9"/><use href="#q2e8b3e" x="303.4" y="71.5"/><use href="#q2e8b3e" x="292.6" y="77.3"/><use href="#q2e8b3e" x="293.8" y="72.4"/><use href="#q2e8b3e" x="295.1" y="79.0"/><use href="#q2e8b3e" x="300.4" y="73.7"/><use href="#q2e8b3e" x="293.7" y="70.0"/>
<use href="#c2e8b3e" x="291.9" y="70.0"/><use href="#c2e8b3e" x="299.9" y="69.0"/><use href="#c2e8b3e" x="304.7" y="73.8"/><use href="#c2e8b3e" x="300.6" y="67.8"/><use href="#c2e8b3e" x="304.7" y="73.1"/><use href="#c2e8b3e" x="305.0" y="76.3"/><use href="#c2e8b3e" x="298.8" y="74.6"/><use href="#c2e8b3e" x="300.8" y="79.1"/><use href="#c2e8b3e" x="289.9" y="78.2"/><use href="#c2e8b3e" x="305.5" y="74.4"/><use href="#c2e8b3e" x="290.9" y="77.8"/><use href="#c2e8b3e" x="292.5" y="67.8"/><use href="#c2e8b3e" x="292.7" y="77.0"/><use href="#c2e8b3e" x="301.6" y="71.3"/><use href="#c2e8b3e" x="307.1" y="73.6"/><use href="#c2e8b3e" x="293.0" y="68.0"/><use href="#c2e8b3e" x="293.1" y="79.5"/><use href="#c2e8b3e" x="294.4" y="73.0"/><use href="#c2e8b3e" x="300.0" y="74.7"/><use href="#c2e8b3e" x="299.5" y="79.2"/><use href="#c2e8b3e" x="299.7" y="73.1"/><use href="#c2e8b3e" x="293.9" y="76.2"/><use href="#c2e8b3e" x="290.4" y="72.7"/><use href="#c2e8b3e" x="304.0" y="72.7"/><use href="#c2e8b3e" x="290.1" y="71.4"/><use href="#c2e8b3e" x="292.4" y="77.5"/><use href="#c2e8b3e" x="295.6" y="79.4"/><use href="#c2e8b3e" x="291.2" y="76.7"/>
<ellipse cx="314.0" cy="77.0" rx="5.6" ry="4.8" fill="#2e8b3e"/>
<use href="#q2e8b3e" x="318.9" y="73.2"/><use href="#q2e8b3e" x="308.8" y="77.4"/><use href="#q2e8b3e" x="315.5" y="71.2"/><use href="#q2e8b3e" x="313.0" y="75.4"/><use href="#q2e8b3e" x="308.9" y="79.1"/><use href="#q2e8b3e" x="312.5" y="72.6"/><use href="#q2e8b3e" x="310.3" y="73.8"/><use href="#q2e8b3e" x="315.9" y="72.9"/><use href="#q2e8b3e" x="312.2" y="79.6"/><use href="#q2e8b3e" x="311.8" y="74.5"/><use href="#q2e8b3e" x="316.6" y="72.3"/><use href="#q2e8b3e" x="314.6" y="71.5"/>
<use href="#c2e8b3e" x="310.6" y="79.2"/><use href="#c2e8b3e" x="309.1" y="73.7"/><use href="#c2e8b3e" x="311.1" y="76.2"/><use href="#c2e8b3e" x="318.3" y="80.7"/><use href="#c2e8b3e" x="318.1" y="74.1"/><use href="#c2e8b3e" x="313.8" y="80.1"/><use href="#c2e8b3e" x="311.4" y="72.4"/><use href="#c2e8b3e" x="316.7" y="77.7"/><use href="#c2e8b3e" x="309.5" y="73.4"/><use href="#c2e8b3e" x="310.5" y="76.5"/><use href="#c2e8b3e" x="312.1" y="71.9"/><use href="#c2e8b3e" x="320.4" y="75.7"/><use href="#c2e8b3e" x="309.0" y="80.7"/><use href="#c2e8b3e" x="318.2" y="73.4"/><use href="#c2e8b3e" x="320.6" y="78.2"/><use href="#c2e8b3e" x="310.0" y="78.4"/><use href="#c2e8b3e" x="315.3" y="75.3"/><use href="#c2e8b3e" x="308.0" y="78.7"/>
<ellipse cx="368.5" cy="60.5" rx="8.0" ry="7.2" fill="#ee22ee"/>
<defs><rect id="qee22ee" x="-1.5" y="-1.5" width="3" height="3" fill="#ee22ee" stroke="#111" stroke-width="0.45"/></defs>
<use href="#qee22ee" x="363.2" y="53.4"/><use href="#qee22ee" x="364.0" y="54.6"/><use href="#qee22ee" x="375.8" y="61.4"/><use href="#qee22ee" x="375.5" y="60.7"/><use href="#qee22ee" x="370.5" y="59.3"/><use href="#qee22ee" x="364.6" y="66.1"/><use href="#qee22ee" x="359.4" y="62.8"/><use href="#qee22ee" x="369.2" y="60.0"/><use href="#qee22ee" x="363.2" y="57.5"/><use href="#qee22ee" x="374.9" y="56.8"/><use href="#qee22ee" x="367.4" y="54.0"/><use href="#qee22ee" x="377.7" y="57.5"/><use href="#qee22ee" x="374.2" y="58.0"/><use href="#qee22ee" x="367.0" y="55.2"/><use href="#qee22ee" x="372.0" y="54.2"/><use href="#qee22ee" x="363.3" y="58.9"/><use href="#qee22ee" x="375.1" y="60.5"/><use href="#qee22ee" x="363.6" y="55.9"/><use href="#qee22ee" x="363.1" y="67.2"/><use href="#qee22ee" x="369.8" y="69.3"/><use href="#qee22ee" x="373.4" y="60.4"/><use href="#qee22ee" x="377.7" y="63.5"/><use href="#qee22ee" x="377.9" y="63.5"/><use href="#qee22ee" x="373.4" y="68.2"/><use href="#qee22ee" x="362.5" y="63.6"/><use href="#qee22ee" x="369.0" y="52.0"/><use href="#qee22ee" x="370.7" y="54.0"/><use href="#qee22ee" x="373.9" y="60.9"/><use href="#qee22ee" x="375.3" y="66.4"/><use href="#qee22ee" x="376.1" y="55.0"/><use href="#qee22ee" x="372.8" y="60.2"/><use href="#qee22ee" x="363.4" y="66.8"/><use href="#qee22ee" x="374.2" y="62.5"/><use href="#qee22ee" x="361.3" y="65.4"/><use href="#qee22ee" x="371.7" y="53.9"/><use href="#qee22ee" x="361.4" y="66.1"/><use href="#qee22ee" x="365.5" y="62.7"/><use href="#qee22ee" x="366.6" y="68.4"/><use href="#qee22ee" x="371.6" y="57.4"/>
<defs><circle id="cee22ee" r="1.65" fill="#ee22ee" stroke="#111" stroke-width="0.45"/></defs>
<use href="#cee22ee" x="366.5" y="68.0"/><use href="#cee22ee" x="373.8" y="55.5"/><use href="#cee22ee" x="375.1" y="66.0"/><use href="#cee22ee" x="362.4" y="57.1"/><use href="#cee22ee" x="373.1" y="66.9"/><use href="#cee22ee" x="360.2" y="62.4"/><use href="#cee22ee" x="368.6" y="54.7"/><use href="#cee22ee" x="376.7" y="61.8"/><use href="#cee22ee" x="366.8" y="55.1"/><use href="#cee22ee" x="364.0" y="57.9"/><use href="#cee22ee" x="364.9" y="61.6"/><use href="#cee22ee" x="363.1" y="65.3"/><use href="#cee22ee" x="367.7" y="52.3"/><use href="#cee22ee" x="366.7" y="68.5"/><use href="#cee22ee" x="368.3" y="56.0"/><use href="#cee22ee" x="360.9" y="61.0"/><use href="#cee22ee" x="366.7" y="69.3"/><use href="#cee22ee" x="366.9" y="56.0"/><use href="#cee22ee" x="376.5" y="63.3"/><use href="#cee22ee" x="362.7" y="67.2"/><use href="#cee22ee" x="377.0" y="57.6"/><use href="#cee22ee" x="374.5" y="63.1"/><use href="#cee22ee" x="369.1" y="63.3"/><use href="#cee22ee" x="363.9" y="68.1"/><use href="#cee22ee" x="361.8" y="62.9"/><use href="#cee22ee" x="360.8" y="66.1"/><use href="#cee22ee" x="376.1" y="61.4"/><use href="#cee22ee" x="376.3" y="65.4"/><use href="#cee22ee" x="370.4" y="60.3"/><use href="#cee22ee" x="369.4" y="58.4"/><use href="#cee22ee" x="364.7" y="55.7"/><use href="#cee22ee" x="360.8" y="62.7"/><use href="#cee22ee" x="368.7" y="59.3"/><use href="#cee22ee" x="375.2" y="59.1"/><use href="#cee22ee" x="362.0" y="54.2"/><use href="#cee22ee" x="365.3" y="61.3"/><use href="#cee22ee" x="364.7" y="61.3"/><use href="#cee22ee" x="371.0" y="63.7"/><use href="#cee22ee" x="364.8" y="67.9"/><use href="#cee22ee" x="376.7" y="57.0"/><use href="#cee22ee" x="376.5" y="58.2"/>
<use href="#cee22ee" x="331.0" y="57.5"/><use href="#cee22ee" x="334.0" y="56.5"/><use href="#cee22ee" x="336.5" y="58.5"/><use href="#cee22ee" x="342.0" y="55.0"/><use href="#cee22ee" x="348.0" y="64.5"/><use href="#cee22ee" x="352.0" y="64.0"/><use href="#cee22ee" x="355.0" y="66.0"/><use href="#cee22ee" x="349.0" y="68.5"/><use href="#cee22ee" x="344.0" y="70.5"/><use href="#cee22ee" x="359.0" y="66.0"/><use href="#cee22ee" x="352.0" y="70.0"/>
<ellipse cx="343.0" cy="82.0" rx="12.0" ry="6.8" fill="#ee7aa4"/>
<defs><rect id="qee7aa4" x="-1.5" y="-1.5" width="3" height="3" fill="#ee7aa4" stroke="#111" stroke-width="0.45"/></defs>
<use href="#qee7aa4" x="345.2" y="73.7"/><use href="#qee7aa4" x="332.8" y="87.1"/><use href="#qee7aa4" x="346.5" y="75.7"/><use href="#qee7aa4" x="354.1" y="77.1"/><use href="#qee7aa4" x="344.2" y="85.0"/><use href="#qee7aa4" x="354.8" y="78.6"/><use href="#qee7aa4" x="333.0" y="76.0"/><use href="#qee7aa4" x="337.0" y="83.8"/><use href="#qee7aa4" x="348.3" y="79.2"/><use href="#qee7aa4" x="352.6" y="81.7"/><use href="#qee7aa4" x="342.4" y="85.5"/><use href="#qee7aa4" x="350.5" y="87.9"/><use href="#qee7aa4" x="356.3" y="79.4"/><use href="#qee7aa4" x="343.7" y="86.7"/><use href="#qee7aa4" x="344.4" y="78.8"/><use href="#qee7aa4" x="357.6" y="82.6"/><use href="#qee7aa4" x="341.7" y="80.7"/><use href="#qee7aa4" x="342.8" y="87.8"/><use href="#qee7aa4" x="346.9" y="86.9"/><use href="#qee7aa4" x="342.4" y="78.4"/><use href="#qee7aa4" x="356.8" y="84.2"/><use href="#qee7aa4" x="338.2" y="75.0"/><use href="#qee7aa4" x="351.5" y="88.2"/><use href="#qee7aa4" x="347.9" y="86.4"/><use href="#qee7aa4" x="349.1" y="78.3"/><use href="#qee7aa4" x="351.1" y="85.2"/><use href="#qee7aa4" x="328.3" y="82.8"/><use href="#qee7aa4" x="347.4" y="87.1"/><use href="#qee7aa4" x="345.4" y="84.8"/><use href="#qee7aa4" x="329.3" y="81.5"/><use href="#qee7aa4" x="337.5" y="76.6"/><use href="#qee7aa4" x="329.1" y="81.4"/><use href="#qee7aa4" x="346.4" y="83.5"/><use href="#qee7aa4" x="340.2" y="78.2"/><use href="#qee7aa4" x="330.8" y="82.8"/><use href="#qee7aa4" x="345.0" y="84.0"/><use href="#qee7aa4" x="346.9" y="88.7"/><use href="#qee7aa4" x="341.0" y="77.3"/><use href="#qee7aa4" x="355.4" y="83.6"/><use href="#qee7aa4" x="357.4" y="81.9"/><use href="#qee7aa4" x="342.8" y="78.4"/><use href="#qee7aa4" x="331.7" y="84.1"/><use href="#qee7aa4" x="328.4" y="82.6"/><use href="#qee7aa4" x="335.4" y="78.1"/><use href="#qee7aa4" x="346.1" y="86.1"/>
<defs><circle id="cee7aa4" r="1.65" fill="#ee7aa4" stroke="#111" stroke-width="0.45"/></defs>
<use href="#cee7aa4" x="346.7" y="86.1"/><use href="#cee7aa4" x="342.0" y="89.5"/><use href="#cee7aa4" x="342.1" y="77.7"/><use href="#cee7aa4" x="336.4" y="89.1"/><use href="#cee7aa4" x="356.2" y="85.2"/><use href="#cee7aa4" x="351.6" y="79.7"/><use href="#cee7aa4" x="333.9" y="86.3"/><use href="#cee7aa4" x="350.5" y="87.1"/><use href="#cee7aa4" x="330.7" y="79.3"/><use href="#cee7aa4" x="355.5" y="79.3"/><use href="#cee7aa4" x="332.5" y="85.2"/><use href="#cee7aa4" x="335.1" y="83.6"/><use href="#cee7aa4" x="341.0" y="76.0"/><use href="#cee7aa4" x="336.8" y="81.2"/><use href="#cee7aa4" x="341.6" y="81.8"/><use href="#cee7aa4" x="332.4" y="79.9"/><use href="#cee7aa4" x="351.6" y="86.7"/><use href="#cee7aa4" x="356.4" y="84.5"/><use href="#cee7aa4" x="348.1" y="81.4"/><use href="#cee7aa4" x="347.3" y="86.0"/><use href="#cee7aa4" x="338.5" y="87.8"/><use href="#cee7aa4" x="356.7" y="82.3"/><use href="#cee7aa4" x="333.0" y="87.7"/><use href="#cee7aa4" x="342.3" y="85.3"/><use href="#cee7aa4" x="349.9" y="76.4"/><use href="#cee7aa4" x="346.7" y="86.7"/><use href="#cee7aa4" x="332.8" y="81.0"/><use href="#cee7aa4" x="334.6" y="85.2"/><use href="#cee7aa4" x="339.2" y="74.1"/><use href="#cee7aa4" x="345.4" y="89.8"/><use href="#cee7aa4" x="340.6" y="87.3"/><use href="#cee7aa4" x="339.1" y="75.9"/><use href="#cee7aa4" x="344.9" y="89.8"/><use href="#cee7aa4" x="346.3" y="79.5"/><use href="#cee7aa4" x="357.2" y="80.0"/><use href="#cee7aa4" x="336.8" y="86.8"/><use href="#cee7aa4" x="346.2" y="81.6"/><use href="#cee7aa4" x="350.8" y="78.6"/><use href="#cee7aa4" x="338.1" y="78.5"/><use href="#cee7aa4" x="341.9" y="79.6"/>
<ellipse cx="314.0" cy="88.5" rx="9.6" ry="5.6" fill="#f39019"/>
<defs><rect id="qf39019" x="-1.5" y="-1.5" width="3" height="3" fill="#f39019" stroke="#111" stroke-width="0.45"/></defs>
<use href="#qf39019" x="321.0" y="93.0"/><use href="#qf39019" x="311.0" y="92.3"/><use href="#qf39019" x="321.2" y="91.7"/><use href="#qf39019" x="314.9" y="91.0"/><use href="#qf39019" x="315.3" y="92.8"/><use href="#qf39019" x="321.3" y="87.7"/><use href="#qf39019" x="306.7" y="90.4"/><use href="#qf39019" x="324.8" y="89.7"/><use href="#qf39019" x="309.3" y="89.7"/><use href="#qf39019" x="323.1" y="88.9"/><use href="#qf39019" x="317.9" y="85.9"/><use href="#qf39019" x="313.6" y="83.4"/><use href="#qf39019" x="322.8" y="91.3"/><use href="#qf39019" x="309.3" y="86.8"/><use href="#qf39019" x="311.5" y="95.2"/><use href="#qf39019" x="318.1" y="94.0"/><use href="#qf39019" x="322.0" y="92.6"/><use href="#qf39019" x="313.3" y="91.4"/><use href="#qf39019" x="304.1" y="92.0"/><use href="#qf39019" x="313.7" y="92.5"/><use href="#qf39019" x="316.1" y="86.6"/><use href="#qf39019" x="312.8" y="94.5"/><use href="#qf39019" x="308.4" y="88.1"/><use href="#qf39019" x="305.4" y="86.8"/><use href="#qf39019" x="311.0" y="89.9"/><use href="#qf39019" x="324.5" y="85.6"/><use href="#qf39019" x="312.8" y="82.3"/><use href="#qf39019" x="324.7" y="90.1"/><use href="#qf39019" x="320.8" y="92.9"/><use href="#qf39019" x="313.3" y="82.9"/><use href="#qf39019" x="305.5" y="90.3"/><use href="#qf39019" x="304.5" y="90.5"/><use href="#qf39019" x="305.0" y="93.2"/><use href="#qf39019" x="312.3" y="94.4"/><use href="#qf39019" x="317.3" y="89.0"/><use href="#qf39019" x="306.2" y="86.7"/><use href="#qf39019" x="324.8" y="91.3"/><use href="#qf39019" x="303.9" y="91.7"/><use href="#qf39019" x="315.1" y="88.0"/><use href="#qf39019" x="314.5" y="81.9"/><use href="#qf39019" x="305.6" y="85.4"/><use href="#qf39019" x="315.6" y="86.9"/><use href="#qf39019" x="312.1" y="83.8"/><use href="#qf39019" x="315.7" y="84.1"/>
<defs><circle id="cf39019" r="1.65" fill="#f39019" stroke="#111" stroke-width="0.45"/></defs>
<use href="#cf39019" x="317.9" y="88.1"/><use href="#cf39019" x="321.3" y="91.1"/><use href="#cf39019" x="310.1" y="82.8"/><use href="#cf39019" x="317.7" y="86.5"/><use href="#cf39019" x="323.8" y="88.7"/><use href="#cf39019" x="318.7" y="92.8"/><use href="#cf39019" x="302.7" y="86.6"/><use href="#cf39019" x="310.0" y="94.2"/><use href="#cf39019" x="303.3" y="87.4"/><use href="#cf39019" x="311.9" y="93.8"/><use href="#cf39019" x="321.3" y="86.0"/><use href="#cf39019" x="311.6" y="88.3"/><use href="#cf39019" x="320.6" y="83.1"/><use href="#cf39019" x="310.7" y="94.6"/><use href="#cf39019" x="305.5" y="90.3"/><use href="#cf39019" x="323.6" y="90.3"/><use href="#cf39019" x="316.8" y="94.3"/><use href="#cf39019" x="323.4" y="87.8"/><use href="#cf39019" x="321.0" y="83.4"/><use href="#cf39019" x="323.8" y="87.7"/><use href="#cf39019" x="312.7" y="85.4"/><use href="#cf39019" x="322.6" y="85.4"/><use href="#cf39019" x="307.3" y="89.4"/><use href="#cf39019" x="307.8" y="89.5"/>
<ellipse cx="347.0" cy="99.5" rx="7.6" ry="6.8" fill="#5cb85c"/>
<defs><rect id="q5cb85c" x="-1.5" y="-1.5" width="3" height="3" fill="#5cb85c" stroke="#111" stroke-width="0.45"/></defs>
<use href="#q5cb85c" x="338.9" y="100.1"/><use href="#q5cb85c" x="338.6" y="99.6"/><use href="#q5cb85c" x="345.7" y="92.2"/><use href="#q5cb85c" x="345.6" y="105.1"/><use href="#q5cb85c" x="343.0" y="93.5"/><use href="#q5cb85c" x="343.4" y="104.9"/><use href="#q5cb85c" x="348.6" y="101.9"/><use href="#q5cb85c" x="347.9" y="92.1"/><use href="#q5cb85c" x="341.4" y="102.6"/><use href="#q5cb85c" x="343.5" y="101.0"/><use href="#q5cb85c" x="354.1" y="103.4"/><use href="#q5cb85c" x="345.4" y="103.9"/><use href="#q5cb85c" x="337.9" y="98.8"/><use href="#q5cb85c" x="352.1" y="93.2"/><use href="#q5cb85c" x="344.9" y="105.8"/><use href="#q5cb85c" x="353.1" y="105.7"/><use href="#q5cb85c" x="340.8" y="94.9"/><use href="#q5cb85c" x="346.7" y="101.0"/><use href="#q5cb85c" x="345.0" y="97.8"/><use href="#q5cb85c" x="349.6" y="92.1"/><use href="#q5cb85c" x="341.5" y="93.8"/><use href="#q5cb85c" x="349.2" y="93.5"/><use href="#q5cb85c" x="344.1" y="97.2"/><use href="#q5cb85c" x="346.4" y="99.2"/><use href="#q5cb85c" x="339.4" y="96.8"/><use href="#q5cb85c" x="353.2" y="93.7"/><use href="#q5cb85c" x="355.6" y="100.0"/><use href="#q5cb85c" x="350.7" y="95.4"/><use href="#q5cb85c" x="352.3" y="96.6"/><use href="#q5cb85c" x="344.3" y="91.5"/><use href="#q5cb85c" x="344.4" y="94.7"/><use href="#q5cb85c" x="352.4" y="103.8"/><use href="#q5cb85c" x="340.9" y="104.4"/><use href="#q5cb85c" x="351.3" y="93.9"/><use href="#q5cb85c" x="344.2" y="100.3"/><use href="#q5cb85c" x="341.5" y="95.3"/>
<defs><circle id="c5cb85c" r="1.65" fill="#5cb85c" stroke="#111" stroke-width="0.45"/></defs>
<use href="#c5cb85c" x="343.7" y="93.6"/><use href="#c5cb85c" x="341.7" y="101.7"/><use href="#c5cb85c" x="348.5" y="97.7"/><use href="#c5cb85c" x="343.2" y="104.5"/><use href="#c5cb85c" x="342.1" y="100.8"/><use href="#c5cb85c" x="346.8" y="91.7"/><use href="#c5cb85c" x="352.0" y="100.7"/><use href="#c5cb85c" x="343.5" y="102.8"/><use href="#c5cb85c" x="348.5" y="98.8"/><use href="#c5cb85c" x="355.4" y="99.1"/><use href="#c5cb85c" x="338.7" y="102.9"/><use href="#c5cb85c" x="342.9" y="97.6"/><use href="#c5cb85c" x="346.0" y="100.3"/><use href="#c5cb85c" x="345.4" y="97.1"/><use href="#c5cb85c" x="344.5" y="100.6"/><use href="#c5cb85c" x="350.6" y="99.8"/><use href="#c5cb85c" x="350.3" y="91.9"/><use href="#c5cb85c" x="352.3" y="105.9"/><use href="#c5cb85c" x="344.4" y="91.4"/><use href="#c5cb85c" x="347.8" y="91.5"/><use href="#c5cb85c" x="340.7" y="104.1"/><use href="#c5cb85c" x="353.7" y="104.7"/><use href="#c5cb85c" x="351.6" y="94.9"/><use href="#c5cb85c" x="342.8" y="95.4"/><use href="#c5cb85c" x="355.7" y="98.6"/><use href="#c5cb85c" x="341.2" y="94.5"/><use href="#c5cb85c" x="346.6" y="102.1"/><use href="#c5cb85c" x="339.1" y="102.2"/><use href="#c5cb85c" x="345.0" y="97.8"/><use href="#c5cb85c" x="352.8" y="93.5"/><use href="#c5cb85c" x="349.8" y="100.0"/><use href="#c5cb85c" x="345.7" y="105.8"/>
<use href="#c5cb85c" x="310.5" y="106.0"/>
<use href="#cee7aa4" x="309.5" y="96.0"/>
<ellipse cx="247.5" cy="99.4" rx="9.3" ry="4.6" fill="#9b30d0" stroke="#1a1a1a" stroke-width="0.5"/>
<ellipse cx="247.5" cy="99.4" rx="6.4" ry="2.9" fill="#9b30d0"/>
<defs><circle id="c9b30d0" r="1.65" fill="#9b30d0" stroke="#111" stroke-width="0.45"/></defs>
<use href="#c9b30d0" x="241.5" y="100.9"/><use href="#c9b30d0" x="242.9" y="100.4"/><use href="#c9b30d0" x="246.8" y="99.4"/><use href="#c9b30d0" x="243.8" y="98.7"/><use href="#c9b30d0" x="245.6" y="96.6"/><use href="#c9b30d0" x="249.4" y="98.5"/><use href="#c9b30d0" x="244.9" y="100.8"/><use href="#c9b30d0" x="249.9" y="102.3"/><use href="#c9b30d0" x="254.6" y="99.3"/><use href="#c9b30d0" x="254.6" y="100.0"/><use href="#c9b30d0" x="253.6" y="97.9"/><use href="#c9b30d0" x="251.7" y="96.5"/><use href="#c9b30d0" x="250.7" y="102.6"/><use href="#c9b30d0" x="247.6" y="97.2"/><use href="#c9b30d0" x="248.0" y="99.5"/><use href="#c9b30d0" x="254.0" y="99.5"/><use href="#c9b30d0" x="243.0" y="97.6"/><use href="#c9b30d0" x="245.0" y="97.7"/><use href="#c9b30d0" x="245.5" y="101.8"/><use href="#c9b30d0" x="242.3" y="98.7"/><use href="#c9b30d0" x="242.7" y="101.3"/><use href="#c9b30d0" x="245.0" y="97.0"/><use href="#c9b30d0" x="243.2" y="98.8"/><use href="#c9b30d0" x="246.2" y="100.0"/><use href="#c9b30d0" x="241.2" y="99.6"/><use href="#c9b30d0" x="252.4" y="99.4"/><use href="#c9b30d0" x="245.7" y="99.9"/><use href="#c9b30d0" x="245.1" y="102.7"/>
<defs><rect id="q9b30d0" x="-1.5" y="-1.5" width="3" height="3" fill="#9b30d0" stroke="#111" stroke-width="0.45"/></defs>
<use href="#q9b30d0" x="246.5" y="90.2"/><use href="#q9b30d0" x="248.8" y="90.4"/><use href="#q9b30d0" x="279.8" y="87.0"/><use href="#q9b30d0" x="287.7" y="90.2"/>
<use href="#c9b30d0" x="256.0" y="90.7"/><use href="#c9b30d0" x="272.5" y="89.6"/><use href="#c9b30d0" x="264.7" y="97.2"/><use href="#c9b30d0" x="281.2" y="94.7"/><use href="#c9b30d0" x="259.6" y="79.0"/>
<ellipse cx="263.2" cy="74.6" rx="2.8" ry="2.0" fill="#9b30d0" stroke="#1a1a1a" stroke-width="0.5"/>
<use href="#c2e8b3e" x="283.5" y="89.5"/>
<ellipse cx="238.5" cy="123.3" rx="12.2" ry="7.3" fill="#3ba0f0" stroke="#1a1a1a" stroke-width="0.5" transform="rotate(12 238.5 123.3)"/>
<ellipse cx="238.5" cy="123.3" rx="8.8" ry="4.8" fill="#3ba0f0"/>
<defs><circle id="c3ba0f0" r="1.65" fill="#3ba0f0" stroke="#111" stroke-width="0.45"/></defs>
<use href="#c3ba0f0" x="237.7" y="121.8"/><use href="#c3ba0f0" x="238.6" y="128.1"/><use href="#c3ba0f0" x="239.7" y="124.7"/><use href="#c3ba0f0" x="235.8" y="125.7"/><use href="#c3ba0f0" x="243.5" y="119.2"/><use href="#c3ba0f0" x="229.9" y="123.4"/><use href="#c3ba0f0" x="240.5" y="126.6"/><use href="#c3ba0f0" x="243.9" y="118.5"/><use href="#c3ba0f0" x="242.3" y="126.0"/><use href="#c3ba0f0" x="229.4" y="120.5"/><use href="#c3ba0f0" x="233.7" y="127.0"/><use href="#c3ba0f0" x="228.7" y="121.8"/><use href="#c3ba0f0" x="228.0" y="122.4"/><use href="#c3ba0f0" x="230.0" y="124.5"/><use href="#c3ba0f0" x="240.2" y="128.0"/><use href="#c3ba0f0" x="239.4" y="117.5"/><use href="#c3ba0f0" x="238.4" y="128.4"/><use href="#c3ba0f0" x="236.3" y="125.0"/><use href="#c3ba0f0" x="240.3" y="119.4"/><use href="#c3ba0f0" x="239.7" y="124.6"/><use href="#c3ba0f0" x="243.0" y="128.7"/><use href="#c3ba0f0" x="240.9" y="117.8"/><use href="#c3ba0f0" x="242.3" y="124.4"/><use href="#c3ba0f0" x="229.4" y="121.5"/><use href="#c3ba0f0" x="240.4" y="122.7"/><use href="#c3ba0f0" x="249.2" y="124.2"/><use href="#c3ba0f0" x="245.1" y="121.2"/><use href="#c3ba0f0" x="232.2" y="122.6"/><use href="#c3ba0f0" x="229.5" y="124.9"/><use href="#c3ba0f0" x="244.7" y="127.0"/><use href="#c3ba0f0" x="243.1" y="120.3"/><use href="#c3ba0f0" x="236.9" y="120.1"/><use href="#c3ba0f0" x="236.3" y="121.8"/><use href="#c3ba0f0" x="235.6" y="125.3"/><use href="#c3ba0f0" x="246.1" y="120.4"/><use href="#c3ba0f0" x="240.8" y="117.4"/><use href="#c3ba0f0" x="232.1" y="122.0"/><use href="#c3ba0f0" x="248.8" y="121.6"/><use href="#c3ba0f0" x="239.9" y="118.9"/><use href="#c3ba0f0" x="239.7" y="125.7"/>
<rect x="250.10" y="110.30" width="2.80" height="2.80" fill="#3ba0f0" stroke="#1a1a1a" stroke-width="0.35"/>
<rect x="278.50" y="22.30" width="17.10" height="10.10" fill="#ffffff" stroke="#e8601c" stroke-width="1.2" rx="2"/>
<text x="287.05" y="29.76" font-size="6.60" text-anchor="middle" fill="#333" stroke="#333" stroke-width="0.12">T.14</text>
<rect x="263.50" y="41.60" width="16.00" height="9.90" fill="#ffffff" stroke="#1f64c8" stroke-width="1.2" rx="2"/>
<text x="271.50" y="48.96" font-size="6.60" text-anchor="middle" fill="#333" stroke="#333" stroke-width="0.12">T.10</text>
<rect x="278.30" y="67.50" width="15.70" height="9.50" fill="#ffffff" stroke="#2e8b3e" stroke-width="1.2" rx="2"/>
<text x="286.15" y="74.66" font-size="6.60" text-anchor="middle" fill="#333" stroke="#333" stroke-width="0.12">T.15</text>
<rect x="295.40" y="77.20" width="13.30" height="10.10" fill="#ffffff" stroke="#f39019" stroke-width="1.2" rx="2"/>
<text x="302.05" y="84.66" font-size="6.60" text-anchor="middle" fill="#333" stroke="#333" stroke-width="0.12">T.7</text>
<rect x="320.00" y="73.40" width="16.40" height="9.20" fill="#ffffff" stroke="#ee7aa4" stroke-width="1.2" rx="2"/>
<text x="328.20" y="80.41" font-size="6.60" text-anchor="middle" fill="#333" stroke="#333" stroke-width="0.12">T.13</text>
<rect x="322.00" y="90.40" width="16.00" height="8.70" fill="#ffffff" stroke="#5cb85c" stroke-width="1.2" rx="2"/>
<text x="330.00" y="97.16" font-size="6.60" text-anchor="middle" fill="#333" stroke="#333" stroke-width="0.12">T.11</text>
<rect x="340.70" y="53.40" width="12.60" height="9.00" fill="#ffffff" stroke="#ee22ee" stroke-width="1.2" rx="2"/>
<text x="347.00" y="60.31" font-size="6.60" text-anchor="middle" fill="#333" stroke="#333" stroke-width="0.12">T.9</text>
<rect x="229.40" y="84.00" width="13.00" height="10.30" fill="#ffffff" stroke="#9b30d0" stroke-width="1.2" rx="2"/>
<text x="235.90" y="91.56" font-size="6.60" text-anchor="middle" fill="#333" stroke="#333" stroke-width="0.12">T.8</text>
<rect x="216.00" y="114.30" width="17.00" height="9.90" fill="#ffffff" stroke="#3ba0f0" stroke-width="1.2" rx="2"/>
<text x="224.50" y="121.66" font-size="6.60" text-anchor="middle" fill="#333" stroke="#333" stroke-width="0.12">T.12</text>
<text x="205.00" y="168.50" font-size="11.50" font-weight="bold" fill="#000" stroke="#000" stroke-width="0.12">d</text>
<rect x="244.40" y="175.80" width="106.02" height="93.68" fill="#440154"/>
<rect x="244.40" y="175.80" width="11.78" height="11.71" fill="#2c728e"/>
<rect x="267.96" y="175.80" width="11.78" height="11.71" fill="#460f61"/>
<rect x="291.52" y="175.80" width="11.78" height="11.71" fill="#471a6b"/>
<rect x="315.08" y="175.80" width="11.78" height="11.71" fill="#471d6e"/>
<rect x="244.40" y="187.51" width="11.78" height="11.71" fill="#460f61"/>
<rect x="256.18" y="187.51" width="11.78" height="11.71" fill="#460f61"/>
<rect x="256.18" y="210.93" width="11.78" height="11.71" fill="#461264"/>
<rect x="279.74" y="210.93" width="11.78" height="11.71" fill="#fde725"/>
<rect x="326.86" y="210.93" width="11.78" height="11.71" fill="#471a6b"/>
<rect x="338.64" y="210.93" width="11.78" height="11.71" fill="#471a6b"/>
<rect x="244.40" y="222.64" width="11.78" height="11.71" fill="#461264"/>
<rect x="291.52" y="222.64" width="11.78" height="11.71" fill="#450c5e"/>
<rect x="267.96" y="234.35" width="11.78" height="11.71" fill="#482475"/>
<rect x="291.52" y="234.35" width="11.78" height="11.71" fill="#450c5e"/>
<rect x="315.08" y="234.35" width="11.78" height="11.71" fill="#3b528b"/>
<rect x="338.64" y="234.35" width="11.78" height="11.71" fill="#460f61"/>
<rect x="326.86" y="246.06" width="11.78" height="11.71" fill="#21918c"/>
<rect x="244.40" y="257.77" width="11.78" height="11.71" fill="#2f6c8d"/>
<rect x="291.52" y="257.77" width="11.78" height="11.71" fill="#450c5e"/>
<rect x="338.64" y="257.77" width="11.78" height="11.71" fill="#2f6c8d"/>
<text x="250.29" y="184.25" font-size="6.00" text-anchor="middle" fill="#ffffff" stroke="#ffffff" stroke-width="0.12">*</text>
<text x="285.63" y="219.38" font-size="6.00" text-anchor="middle" fill="#ffffff" stroke="#ffffff" stroke-width="0.12">*</text>
<text x="320.97" y="242.81" font-size="6.00" text-anchor="middle" fill="#ffffff" stroke="#ffffff" stroke-width="0.12">*</text>
<text x="332.75" y="254.51" font-size="6.00" text-anchor="middle" fill="#ffffff" stroke="#ffffff" stroke-width="0.12">*</text>
<text x="250.29" y="266.23" font-size="6.00" text-anchor="middle" fill="#ffffff" stroke="#ffffff" stroke-width="0.12">*</text>
<text x="344.53" y="266.23" font-size="6.00" text-anchor="middle" fill="#ffffff" stroke="#ffffff" stroke-width="0.12">*</text>
<text x="240.30" y="184.86" font-size="6.60" text-anchor="end" fill="#f42a2a" stroke="#f42a2a" stroke-width="0.12">PM.2</text>
<text x="240.30" y="196.57" font-size="6.60" text-anchor="end" fill="#f42a2a" stroke="#f42a2a" stroke-width="0.12">PM.6</text>
<text x="240.30" y="208.28" font-size="6.60" text-anchor="end" fill="#f42a2a" stroke="#f42a2a" stroke-width="0.12">PM.3</text>
<text x="240.30" y="219.99" font-size="6.60" text-anchor="end" fill="#f42a2a" stroke="#f42a2a" stroke-width="0.12">PM.1</text>
<text x="240.30" y="231.70" font-size="6.60" text-anchor="end" fill="#f42a2a" stroke="#f42a2a" stroke-width="0.12">PM.7</text>
<text x="240.30" y="243.41" font-size="6.60" text-anchor="end" fill="#2a2af4" stroke="#2a2af4" stroke-width="0.12">PM.0</text>
<text x="240.30" y="255.12" font-size="6.60" text-anchor="end" fill="#f42a2a" stroke="#f42a2a" stroke-width="0.12">PM.4</text>
<text x="240.30" y="266.83" font-size="6.60" text-anchor="end" fill="#2a2af4" stroke="#2a2af4" stroke-width="0.12">PM.5</text>
<text x="0" y="0" font-size="6.6" text-anchor="end" fill="#f42a2a" transform="translate(252.69 272.5) rotate(-90)" stroke="#f42a2a" stroke-width="0.12">T.7</text>
<text x="0" y="0" font-size="6.6" text-anchor="end" fill="#f42a2a" transform="translate(264.47 272.5) rotate(-90)" stroke="#f42a2a" stroke-width="0.12">T.8</text>
<text x="0" y="0" font-size="6.6" text-anchor="end" fill="#2a2af4" transform="translate(276.25 272.5) rotate(-90)" stroke="#2a2af4" stroke-width="0.12">T.9</text>
<text x="0" y="0" font-size="6.6" text-anchor="end" fill="#f42a2a" transform="translate(288.03 272.5) rotate(-90)" stroke="#f42a2a" stroke-width="0.12">T.10</text>
<text x="0" y="0" font-size="6.6" text-anchor="end" fill="#2a2af4" transform="translate(299.81 272.5) rotate(-90)" stroke="#2a2af4" stroke-width="0.12">T.11</text>
<text x="0" y="0" font-size="6.6" text-anchor="end" fill="#f42a2a" transform="translate(311.59 272.5) rotate(-90)" stroke="#f42a2a" stroke-width="0.12">T.12</text>
<text x="0" y="0" font-size="6.6" text-anchor="end" fill="#2a2af4" transform="translate(323.37 272.5) rotate(-90)" stroke="#2a2af4" stroke-width="0.12">T.13</text>
<text x="0" y="0" font-size="6.6" text-anchor="end" fill="#f42a2a" transform="translate(335.15 272.5) rotate(-90)" stroke="#f42a2a" stroke-width="0.12">T.14</text>
<text x="0" y="0" font-size="6.6" text-anchor="end" fill="#2a2af4" transform="translate(346.93 272.5) rotate(-90)" stroke="#2a2af4" stroke-width="0.12">T.15</text>
<text x="297.50" y="175.80" font-size="1.00" stroke="#231f20" stroke-width="0.12"></text>
<text x="297.00" y="172.60" font-size="6.57" text-anchor="middle" stroke="#231f20" stroke-width="0.12">Overlap of K–L clusters</text>
<text x="351.30" y="164.60" font-size="6.60" stroke="#231f20" stroke-width="0.12">Jaccard</text>
<text x="351.30" y="171.00" font-size="6.60" stroke="#231f20" stroke-width="0.12">index</text>
<defs><linearGradient id="vgrad" x1="0" y1="1" x2="0" y2="0"><stop offset="0.0" stop-color="#440154"/><stop offset="0.125" stop-color="#482475"/><stop offset="0.25" stop-color="#3b528b"/><stop offset="0.375" stop-color="#2c728e"/><stop offset="0.5" stop-color="#21918c"/><stop offset="0.625" stop-color="#27ad81"/><stop offset="0.75" stop-color="#5ec962"/><stop offset="0.875" stop-color="#aadc32"/><stop offset="1.0" stop-color="#fde725"/></linearGradient></defs>
<rect x="355.20" y="176.00" width="5.20" height="93.50" fill="url(#vgrad)" stroke="#888" stroke-width="0.5"/>
<line x1="360.40" y1="269.30" x2="364.20" y2="269.30" stroke="#444" stroke-width="0.6"/>
<text x="368.20" y="271.71" font-size="6.60" stroke="#231f20" stroke-width="0.12">0</text>
<line x1="360.40" y1="246.40" x2="364.20" y2="246.40" stroke="#444" stroke-width="0.6"/>
<text x="368.20" y="248.81" font-size="6.60" stroke="#231f20" stroke-width="0.12">0.1</text>
<line x1="360.40" y1="223.50" x2="364.20" y2="223.50" stroke="#444" stroke-width="0.6"/>
<text x="368.20" y="225.91" font-size="6.60" stroke="#231f20" stroke-width="0.12">0.2</text>
<line x1="360.40" y1="200.60" x2="364.20" y2="200.60" stroke="#444" stroke-width="0.6"/>
<text x="368.20" y="203.01" font-size="6.60" stroke="#231f20" stroke-width="0.12">0.3</text>
<line x1="360.40" y1="177.70" x2="364.20" y2="177.70" stroke="#444" stroke-width="0.6"/>
<text x="368.20" y="180.11" font-size="6.60" stroke="#231f20" stroke-width="0.12">0.4</text>
<text x="0" y="0" font-size="6.5" text-anchor="middle" transform="translate(208.6 222) rotate(-90)" stroke="#231f20" stroke-width="0.12">Control versus <tspan font-style="italic">ABCA7</tspan> LoF</text>
<text x="0" y="0" font-size="6.50" text-anchor="middle" transform="translate(215.67 222.00) rotate(-90)" stroke="#231f20" stroke-width="0.12">(post-mortem)</text>
<text x="297.00" y="297.20" font-size="6.60" text-anchor="middle" stroke="#231f20" stroke-width="0.12">WT versus p.Tyr622*</text>
<text x="390.50" y="6.20" font-size="11.50" font-weight="bold" fill="#000" stroke="#000" stroke-width="0.12">e</text>
<text x="420.80" y="30.00" font-size="6.70" stroke="#231f20" stroke-width="0.12">WT versus p.Tyr622* iNs</text>
<text x="594.50" y="30.00" font-size="6.60" text-anchor="middle" stroke="#231f20" stroke-width="0.12">Representative cluster terms</text>
<line x1="423.40" y1="33.30" x2="423.40" y2="54.30" stroke="#aaa" stroke-width="1.0"/>
<line x1="419.00" y1="54.30" x2="497.00" y2="54.30" stroke="#555" stroke-width="0.6"/>
<line x1="463.30" y1="32.80" x2="463.30" y2="54.30" stroke="#777" stroke-width="0.5" stroke-dasharray="0.8,0.8"/>
<line x1="419.50" y1="36.60" x2="423.40" y2="36.60" stroke="#555" stroke-width="0.6"/>
<text x="415.00" y="39.01" font-size="6.60" text-anchor="end" stroke="#231f20" stroke-width="0.12">0.5</text>
<text x="415.00" y="56.71" font-size="6.60" text-anchor="end" stroke="#231f20" stroke-width="0.12">0</text>
<text x="427.30" y="43.51" font-size="6.60" stroke="#231f20" stroke-width="0.12">T.10</text>
<line x1="439.40" y1="54.30" x2="439.40" y2="57.30" stroke="#555" stroke-width="0.6"/>
<line x1="463.30" y1="54.30" x2="463.30" y2="57.30" stroke="#555" stroke-width="0.6"/>
<line x1="487.60" y1="54.30" x2="487.60" y2="57.30" stroke="#555" stroke-width="0.6"/>
<line x1="423.40" y1="58.50" x2="423.40" y2="79.50" stroke="#aaa" stroke-width="1.0"/>
<line x1="419.00" y1="79.50" x2="497.00" y2="79.50" stroke="#555" stroke-width="0.6"/>
<line x1="463.30" y1="58.00" x2="463.30" y2="79.50" stroke="#777" stroke-width="0.5" stroke-dasharray="0.8,0.8"/>
<line x1="419.50" y1="62.80" x2="423.40" y2="62.80" stroke="#555" stroke-width="0.6"/>
<text x="415.00" y="65.21" font-size="6.60" text-anchor="end" stroke="#231f20" stroke-width="0.12">0.25</text>
<text x="415.00" y="81.91" font-size="6.60" text-anchor="end" stroke="#231f20" stroke-width="0.12">0</text>
<text x="427.30" y="68.71" font-size="6.60" stroke="#231f20" stroke-width="0.12">T.11</text>
<line x1="439.40" y1="79.50" x2="439.40" y2="82.50" stroke="#555" stroke-width="0.6"/>
<line x1="463.30" y1="79.50" x2="463.30" y2="82.50" stroke="#555" stroke-width="0.6"/>
<line x1="487.60" y1="79.50" x2="487.60" y2="82.50" stroke="#555" stroke-width="0.6"/>
<line x1="423.40" y1="83.70" x2="423.40" y2="104.70" stroke="#aaa" stroke-width="1.0"/>
<line x1="419.00" y1="104.70" x2="497.00" y2="104.70" stroke="#555" stroke-width="0.6"/>
<line x1="463.30" y1="83.20" x2="463.30" y2="104.70" stroke="#777" stroke-width="0.5" stroke-dasharray="0.8,0.8"/>
<line x1="419.50" y1="85.50" x2="423.40" y2="85.50" stroke="#555" stroke-width="0.6"/>
<text x="415.00" y="87.91" font-size="6.60" text-anchor="end" stroke="#231f20" stroke-width="0.12">0.5</text>
<text x="415.00" y="107.11" font-size="6.60" text-anchor="end" stroke="#231f20" stroke-width="0.12">0</text>
<text x="427.30" y="93.91" font-size="6.60" stroke="#231f20" stroke-width="0.12">T.12</text>
<line x1="439.40" y1="104.70" x2="439.40" y2="107.70" stroke="#555" stroke-width="0.6"/>
<line x1="463.30" y1="104.70" x2="463.30" y2="107.70" stroke="#555" stroke-width="0.6"/>
<line x1="487.60" y1="104.70" x2="487.60" y2="107.70" stroke="#555" stroke-width="0.6"/>
<line x1="423.40" y1="109.00" x2="423.40" y2="130.00" stroke="#aaa" stroke-width="1.0"/>
<line x1="419.00" y1="130.00" x2="497.00" y2="130.00" stroke="#555" stroke-width="0.6"/>
<line x1="463.30" y1="108.50" x2="463.30" y2="130.00" stroke="#777" stroke-width="0.5" stroke-dasharray="0.8,0.8"/>
<line x1="419.50" y1="119.30" x2="423.40" y2="119.30" stroke="#555" stroke-width="0.6"/>
<text x="415.00" y="121.71" font-size="6.60" text-anchor="end" stroke="#231f20" stroke-width="0.12">0.1</text>
<text x="415.00" y="132.41" font-size="6.60" text-anchor="end" stroke="#231f20" stroke-width="0.12">0</text>
<text x="427.30" y="119.21" font-size="6.60" stroke="#231f20" stroke-width="0.12">T.13</text>
<line x1="439.40" y1="130.00" x2="439.40" y2="133.00" stroke="#555" stroke-width="0.6"/>
<line x1="463.30" y1="130.00" x2="463.30" y2="133.00" stroke="#555" stroke-width="0.6"/>
<line x1="487.60" y1="130.00" x2="487.60" y2="133.00" stroke="#555" stroke-width="0.6"/>
<line x1="423.40" y1="134.20" x2="423.40" y2="155.20" stroke="#aaa" stroke-width="1.0"/>
<line x1="419.00" y1="155.20" x2="497.00" y2="155.20" stroke="#555" stroke-width="0.6"/>
<line x1="463.30" y1="133.70" x2="463.30" y2="155.20" stroke="#777" stroke-width="0.5" stroke-dasharray="0.8,0.8"/>
<line x1="419.50" y1="142.20" x2="423.40" y2="142.20" stroke="#555" stroke-width="0.6"/>
<text x="415.00" y="144.61" font-size="6.60" text-anchor="end" stroke="#231f20" stroke-width="0.12">0.25</text>
<text x="415.00" y="157.61" font-size="6.60" text-anchor="end" stroke="#231f20" stroke-width="0.12">0</text>
<text x="427.30" y="144.41" font-size="6.60" stroke="#231f20" stroke-width="0.12">T.14</text>
<line x1="439.40" y1="155.20" x2="439.40" y2="158.20" stroke="#555" stroke-width="0.6"/>
<line x1="463.30" y1="155.20" x2="463.30" y2="158.20" stroke="#555" stroke-width="0.6"/>
<line x1="487.60" y1="155.20" x2="487.60" y2="158.20" stroke="#555" stroke-width="0.6"/>
<line x1="423.40" y1="159.50" x2="423.40" y2="180.50" stroke="#aaa" stroke-width="1.0"/>
<line x1="419.00" y1="180.50" x2="497.00" y2="180.50" stroke="#555" stroke-width="0.6"/>
<line x1="463.30" y1="159.00" x2="463.30" y2="180.50" stroke="#777" stroke-width="0.5" stroke-dasharray="0.8,0.8"/>
<line x1="419.50" y1="162.20" x2="423.40" y2="162.20" stroke="#555" stroke-width="0.6"/>
<text x="415.00" y="164.61" font-size="6.60" text-anchor="end" stroke="#231f20" stroke-width="0.12">0.1</text>
<text x="415.00" y="182.91" font-size="6.60" text-anchor="end" stroke="#231f20" stroke-width="0.12">0</text>
<text x="427.30" y="169.71" font-size="6.60" stroke="#231f20" stroke-width="0.12">T.15</text>
<line x1="439.40" y1="180.50" x2="439.40" y2="183.50" stroke="#555" stroke-width="0.6"/>
<line x1="463.30" y1="180.50" x2="463.30" y2="183.50" stroke="#555" stroke-width="0.6"/>
<line x1="487.60" y1="180.50" x2="487.60" y2="183.50" stroke="#555" stroke-width="0.6"/>
<line x1="423.40" y1="184.70" x2="423.40" y2="205.70" stroke="#aaa" stroke-width="1.0"/>
<line x1="419.00" y1="205.70" x2="497.00" y2="205.70" stroke="#555" stroke-width="0.6"/>
<line x1="463.30" y1="184.20" x2="463.30" y2="205.70" stroke="#777" stroke-width="0.5" stroke-dasharray="0.8,0.8"/>
<line x1="419.50" y1="189.90" x2="423.40" y2="189.90" stroke="#555" stroke-width="0.6"/>
<text x="415.00" y="192.31" font-size="6.60" text-anchor="end" stroke="#231f20" stroke-width="0.12">0.1</text>
<text x="415.00" y="208.11" font-size="6.60" text-anchor="end" stroke="#231f20" stroke-width="0.12">0</text>
<text x="427.30" y="194.91" font-size="6.60" stroke="#231f20" stroke-width="0.12">T.7</text>
<line x1="439.40" y1="205.70" x2="439.40" y2="208.70" stroke="#555" stroke-width="0.6"/>
<line x1="463.30" y1="205.70" x2="463.30" y2="208.70" stroke="#555" stroke-width="0.6"/>
<line x1="487.60" y1="205.70" x2="487.60" y2="208.70" stroke="#555" stroke-width="0.6"/>
<line x1="423.40" y1="210.00" x2="423.40" y2="231.00" stroke="#aaa" stroke-width="1.0"/>
<line x1="419.00" y1="231.00" x2="497.00" y2="231.00" stroke="#555" stroke-width="0.6"/>
<line x1="463.30" y1="209.50" x2="463.30" y2="231.00" stroke="#777" stroke-width="0.5" stroke-dasharray="0.8,0.8"/>
<line x1="419.50" y1="216.50" x2="423.40" y2="216.50" stroke="#555" stroke-width="0.6"/>
<text x="415.00" y="218.91" font-size="6.60" text-anchor="end" stroke="#231f20" stroke-width="0.12">0.25</text>
<text x="415.00" y="233.41" font-size="6.60" text-anchor="end" stroke="#231f20" stroke-width="0.12">0</text>
<text x="427.30" y="220.21" font-size="6.60" stroke="#231f20" stroke-width="0.12">T.8</text>
<line x1="439.40" y1="231.00" x2="439.40" y2="234.00" stroke="#555" stroke-width="0.6"/>
<line x1="463.30" y1="231.00" x2="463.30" y2="234.00" stroke="#555" stroke-width="0.6"/>
<line x1="487.60" y1="231.00" x2="487.60" y2="234.00" stroke="#555" stroke-width="0.6"/>
<line x1="423.40" y1="235.20" x2="423.40" y2="256.20" stroke="#aaa" stroke-width="1.0"/>
<line x1="419.00" y1="256.20" x2="497.00" y2="256.20" stroke="#555" stroke-width="0.6"/>
<line x1="463.30" y1="234.70" x2="463.30" y2="256.20" stroke="#777" stroke-width="0.5" stroke-dasharray="0.8,0.8"/>
<line x1="419.50" y1="245.00" x2="423.40" y2="245.00" stroke="#555" stroke-width="0.6"/>
<text x="415.00" y="247.41" font-size="6.60" text-anchor="end" stroke="#231f20" stroke-width="0.12">0.1</text>
<text x="415.00" y="258.61" font-size="6.60" text-anchor="end" stroke="#231f20" stroke-width="0.12">0</text>
<text x="427.30" y="245.41" font-size="6.60" stroke="#231f20" stroke-width="0.12">T.9</text>
<path d="M462.00,54.30 L462.00,54.03 L462.20,53.90 L462.40,53.73 L462.60,53.49 L462.80,53.18 L463.00,52.77 L463.20,52.25 L463.40,51.59 L463.60,50.80 L463.80,49.85 L464.00,48.74 L464.20,47.48 L464.40,46.08 L464.60,44.56 L464.80,42.98 L465.00,41.36 L465.20,39.78 L465.40,38.29 L465.60,36.95 L465.80,35.84 L466.00,35.00 L466.20,34.48 L466.40,34.30 L466.60,34.48 L466.80,35.00 L467.00,35.84 L467.20,36.95 L467.40,38.29 L467.60,39.78 L467.80,41.36 L468.00,42.98 L468.20,44.56 L468.40,46.08 L468.60,47.48 L468.80,48.74 L469.00,49.85 L469.20,50.80 L469.40,51.59 L469.60,52.25 L469.80,52.77 L470.00,53.18 L470.20,53.49 L470.40,53.73 L470.60,53.90 L470.80,54.03 L471.00,54.12 L471.20,54.18 L471.40,54.22 L471.60,54.25 L471.80,54.27 L472.00,54.28 L472.20,54.29 L472.40,54.29 L472.60,54.30 L472.80,54.30 L473.00,54.30 L473.20,54.30 L473.40,54.30 L473.60,54.30 L473.80,54.30 L474.00,54.30 L474.00,54.30 Z" fill="#a9c3ea" stroke="#3a70c8" stroke-width="0.6" stroke-linejoin="round"/>
<line x1="466.50" y1="54.30" x2="466.50" y2="34.39" stroke="#3a70c8" stroke-width="0.7"/>
<path d="M445.00,79.50 L445.00,79.12 L445.50,78.95 L446.00,78.74 L446.50,78.47 L447.00,78.13 L447.50,77.73 L448.00,77.27 L448.50,76.75 L449.00,76.20 L449.50,75.63 L450.00,75.08 L450.50,74.56 L451.00,74.12 L451.50,73.78 L452.00,73.57 L452.50,73.48 L453.00,73.50 L453.50,73.59 L454.00,73.65 L454.50,73.52 L455.00,72.99 L455.50,71.85 L456.00,69.97 L456.50,67.46 L457.00,64.69 L457.50,62.29 L458.00,60.94 L458.50,61.10 L459.00,62.83 L459.50,65.74 L460.00,69.16 L460.50,72.44 L461.00,75.11 L461.50,77.02 L462.00,78.22 L462.50,78.90 L463.00,79.24 L463.50,79.39 L464.00,79.46 L464.50,79.48 L465.00,79.49 L465.50,79.49 L466.00,79.49 L466.50,79.47 L467.00,79.45 L467.50,79.40 L468.00,79.34 L468.50,79.26 L469.00,79.18 L469.50,79.12 L470.00,79.10 L470.50,79.12 L471.00,79.18 L471.50,79.26 L472.00,79.34 L472.50,79.40 L473.00,79.45 L473.50,79.47 L474.00,79.49 L474.50,79.50 L475.00,79.50 L475.00,79.50 Z" fill="#b5dcb0" stroke="#5cb85c" stroke-width="0.6" stroke-linejoin="round"/>
<line x1="456.80" y1="79.50" x2="456.80" y2="65.80" stroke="#5cb85c" stroke-width="0.7"/>
<path d="M462.50,104.70 L462.50,104.68 L462.74,104.67 L462.98,104.66 L463.23,104.63 L463.47,104.60 L463.71,104.54 L463.95,104.46 L464.19,104.34 L464.43,104.18 L464.68,103.96 L464.92,103.67 L465.16,103.28 L465.40,102.79 L465.64,102.16 L465.88,101.40 L466.12,100.48 L466.37,99.40 L466.61,98.16 L466.85,96.78 L467.09,95.28 L467.33,93.69 L467.57,92.06 L467.82,90.46 L468.06,88.93 L468.30,87.56 L468.54,86.40 L468.78,85.51 L469.02,84.93 L469.27,84.70 L469.51,84.83 L469.75,85.32 L469.99,86.12 L470.23,87.22 L470.48,88.54 L470.72,90.03 L470.96,91.62 L471.20,93.24 L471.44,94.85 L471.68,96.38 L471.93,97.79 L472.17,99.07 L472.41,100.20 L472.65,101.16 L472.89,101.97 L473.13,102.63 L473.38,103.16 L473.62,103.57 L473.86,103.89 L474.10,104.13 L474.34,104.30 L474.58,104.43 L474.82,104.52 L475.07,104.58 L475.31,104.62 L475.55,104.65 L475.79,104.67 L476.03,104.68 L476.27,104.69 L476.52,104.69 L476.76,104.70 L477.00,104.70 L477.00,104.70 Z" fill="#a9d3f5" stroke="#3ba0f0" stroke-width="0.6" stroke-linejoin="round"/>
<line x1="469.00" y1="104.70" x2="469.00" y2="84.99" stroke="#3ba0f0" stroke-width="0.7"/>
<path d="M443.00,130.00 L443.00,130.00 L443.65,130.00 L444.30,130.00 L444.95,129.99 L445.60,129.98 L446.25,129.96 L446.90,129.92 L447.55,129.84 L448.20,129.69 L448.85,129.43 L449.50,128.99 L450.15,128.31 L450.80,127.31 L451.45,125.93 L452.10,124.13 L452.75,121.95 L453.40,119.51 L454.05,116.98 L454.70,114.62 L455.35,112.72 L456.00,111.50 L456.65,111.12 L457.30,111.60 L457.95,112.84 L458.60,114.62 L459.25,116.65 L459.90,118.66 L460.55,120.41 L461.20,121.75 L461.85,122.62 L462.50,123.04 L463.15,123.08 L463.80,122.86 L464.45,122.50 L465.10,122.10 L465.75,121.75 L466.40,121.53 L467.05,121.48 L467.70,121.61 L468.35,121.92 L469.00,122.41 L469.65,123.03 L470.30,123.76 L470.95,124.54 L471.60,125.33 L472.25,126.11 L472.90,126.83 L473.55,127.48 L474.20,128.04 L474.85,128.52 L475.50,128.90 L476.15,129.21 L476.80,129.44 L477.45,129.62 L478.10,129.74 L478.75,129.83 L479.40,129.89 L480.05,129.93 L480.70,129.96 L481.35,129.98 L482.00,129.99 L482.00,130.00 Z" fill="#f5b5cc" stroke="#ee6a9a" stroke-width="0.6" stroke-linejoin="round"/>
<line x1="460.50" y1="130.00" x2="460.50" y2="120.27" stroke="#ee6a9a" stroke-width="0.7"/>
<path d="M440.00,155.20 L440.00,155.20 L440.63,155.19 L441.27,155.16 L441.90,155.07 L442.53,154.92 L443.17,154.73 L443.80,154.61 L444.43,154.64 L445.07,154.80 L445.70,154.98 L446.33,155.11 L446.97,155.17 L447.60,155.19 L448.23,155.20 L448.87,155.20 L449.50,155.20 L450.13,155.20 L450.77,155.20 L451.40,155.20 L452.03,155.20 L452.67,155.20 L453.30,155.20 L453.93,155.20 L454.57,155.20 L455.20,155.20 L455.83,155.20 L456.47,155.20 L457.10,155.20 L457.73,155.20 L458.37,155.19 L459.00,155.18 L459.63,155.13 L460.27,155.02 L460.90,154.74 L461.53,154.16 L462.17,153.07 L462.80,151.24 L463.43,148.54 L464.07,145.07 L464.70,141.26 L465.33,137.85 L465.97,135.66 L466.60,135.30 L467.23,136.86 L467.87,139.92 L468.50,143.68 L469.13,147.34 L469.77,150.35 L470.40,152.49 L471.03,153.83 L471.67,154.58 L472.30,154.94 L472.93,155.10 L473.57,155.17 L474.20,155.19 L474.83,155.20 L475.47,155.20 L476.10,155.20 L476.73,155.20 L477.37,155.20 L478.00,155.20 L478.00,155.20 Z" fill="#f5b890" stroke="#e8601c" stroke-width="0.6" stroke-linejoin="round"/>
<line x1="466.00" y1="155.20" x2="466.00" y2="135.64" stroke="#e8601c" stroke-width="0.7"/>
<path d="M436.00,180.50 L436.00,180.50 L436.93,180.50 L437.87,180.50 L438.80,180.50 L439.73,180.50 L440.67,180.50 L441.60,180.50 L442.53,180.50 L443.47,180.49 L444.40,180.47 L445.33,180.43 L446.27,180.33 L447.20,180.14 L448.13,179.79 L449.07,179.18 L450.00,178.20 L450.93,176.76 L451.87,174.82 L452.80,172.42 L453.73,169.74 L454.67,167.08 L455.60,164.78 L456.53,163.15 L457.47,162.37 L458.40,162.41 L459.33,163.06 L460.27,163.96 L461.20,164.74 L462.13,165.10 L463.07,164.89 L464.00,164.18 L464.93,163.19 L465.87,162.29 L466.80,161.87 L467.73,162.22 L468.67,163.47 L469.60,165.54 L470.53,168.14 L471.47,170.93 L472.40,173.56 L473.33,175.79 L474.27,177.51 L475.20,178.72 L476.13,179.51 L477.07,179.99 L478.00,180.25 L478.93,180.39 L479.87,180.45 L480.80,180.48 L481.73,180.47 L482.67,180.44 L483.60,180.36 L484.53,180.22 L485.47,180.05 L486.40,179.93 L487.33,179.91 L488.27,180.01 L489.20,180.17 L490.13,180.32 L491.07,180.42 L492.00,180.47 L492.00,180.50 Z" fill="#a9d0a9" stroke="#3d8c45" stroke-width="0.6" stroke-linejoin="round"/>
<line x1="462.60" y1="180.50" x2="462.60" y2="164.99" stroke="#3d8c45" stroke-width="0.7"/>
<path d="M440.00,205.70 L440.00,205.70 L440.78,205.70 L441.57,205.69 L442.35,205.69 L443.13,205.67 L443.92,205.64 L444.70,205.59 L445.48,205.51 L446.27,205.37 L447.05,205.16 L447.83,204.83 L448.62,204.36 L449.40,203.72 L450.18,202.88 L450.97,201.84 L451.75,200.60 L452.53,199.22 L453.32,197.75 L454.10,196.31 L454.88,195.00 L455.67,193.90 L456.45,193.11 L457.23,192.63 L458.02,192.46 L458.80,192.51 L459.58,192.65 L460.37,192.77 L461.15,192.73 L461.93,192.43 L462.72,191.84 L463.50,190.97 L464.28,189.90 L465.07,188.77 L465.85,187.71 L466.63,186.90 L467.42,186.45 L468.20,186.48 L468.98,187.01 L469.77,188.04 L470.55,189.48 L471.33,191.24 L472.12,193.19 L472.90,195.19 L473.68,197.14 L474.47,198.93 L475.25,200.51 L476.03,201.84 L476.82,202.91 L477.60,203.75 L478.38,204.37 L479.17,204.83 L479.95,205.14 L480.73,205.35 L481.52,205.49 L482.30,205.58 L483.08,205.63 L483.87,205.66 L484.65,205.68 L485.43,205.69 L486.22,205.69 L487.00,205.70 L487.00,205.70 Z" fill="#f8c98a" stroke="#f39019" stroke-width="0.6" stroke-linejoin="round"/>
<line x1="463.60" y1="205.70" x2="463.60" y2="190.84" stroke="#f39019" stroke-width="0.7"/>
<path d="M455.00,231.00 L455.00,230.99 L455.40,230.97 L455.80,230.91 L456.20,230.80 L456.60,230.62 L457.00,230.39 L457.40,230.16 L457.80,230.02 L458.20,230.02 L458.60,230.16 L459.00,230.39 L459.40,230.62 L459.80,230.80 L460.20,230.91 L460.60,230.96 L461.00,230.98 L461.40,230.98 L461.80,230.96 L462.20,230.91 L462.60,230.82 L463.00,230.64 L463.40,230.32 L463.80,229.78 L464.20,228.93 L464.60,227.68 L465.00,225.98 L465.40,223.80 L465.80,221.24 L466.20,218.48 L466.60,215.80 L467.00,213.54 L467.40,212.03 L467.80,211.50 L468.20,212.03 L468.60,213.54 L469.00,215.80 L469.40,218.48 L469.80,221.24 L470.20,223.80 L470.60,225.98 L471.00,227.68 L471.40,228.93 L471.80,229.78 L472.20,230.32 L472.60,230.64 L473.00,230.82 L473.40,230.91 L473.80,230.96 L474.20,230.98 L474.60,230.99 L475.00,231.00 L475.40,231.00 L475.80,231.00 L476.20,231.00 L476.60,231.00 L477.00,231.00 L477.40,231.00 L477.80,231.00 L478.20,231.00 L478.60,231.00 L479.00,231.00 L479.00,231.00 Z" fill="#d6b3ec" stroke="#9b30d0" stroke-width="0.6" stroke-linejoin="round"/>
<line x1="468.20" y1="231.00" x2="468.20" y2="212.03" stroke="#9b30d0" stroke-width="0.7"/>
<path d="M424.00,256.20 L424.00,256.20 L425.13,256.20 L426.27,256.20 L427.40,256.20 L428.53,256.20 L429.67,256.19 L430.80,256.19 L431.93,256.17 L433.07,256.15 L434.20,256.11 L435.33,256.05 L436.47,255.96 L437.60,255.83 L438.73,255.68 L439.87,255.49 L441.00,255.29 L442.13,255.09 L443.27,254.90 L444.40,254.76 L445.53,254.65 L446.67,254.53 L447.80,254.29 L448.93,253.72 L450.07,252.54 L451.20,250.50 L452.33,247.54 L453.47,244.03 L454.60,240.76 L455.73,238.69 L456.87,238.47 L458.00,240.10 L459.13,242.91 L460.27,245.96 L461.40,248.47 L462.53,250.11 L463.67,250.96 L464.80,251.33 L465.93,251.52 L467.07,251.74 L468.20,252.10 L469.33,252.59 L470.47,253.18 L471.60,253.80 L472.73,254.38 L473.87,254.89 L475.00,255.31 L476.13,255.62 L477.27,255.84 L478.40,255.99 L479.53,256.08 L480.67,256.14 L481.80,256.17 L482.93,256.19 L484.07,256.19 L485.20,256.20 L486.33,256.20 L487.47,256.20 L488.60,256.20 L489.73,256.20 L490.87,256.20 L492.00,256.20 L492.00,256.20 Z" fill="#f59af0" stroke="#ee22ee" stroke-width="0.6" stroke-linejoin="round"/>
<line x1="456.30" y1="256.20" x2="456.30" y2="238.58" stroke="#ee22ee" stroke-width="0.7"/>
<line x1="439.40" y1="256.20" x2="439.40" y2="259.20" stroke="#555" stroke-width="0.6"/>
<text x="439.40" y="269.80" font-size="6.60" text-anchor="middle" stroke="#231f20" stroke-width="0.12">−10</text>
<line x1="463.30" y1="256.20" x2="463.30" y2="259.20" stroke="#555" stroke-width="0.6"/>
<text x="463.30" y="269.80" font-size="6.60" text-anchor="middle" stroke="#231f20" stroke-width="0.12">0</text>
<line x1="487.60" y1="256.20" x2="487.60" y2="259.20" stroke="#555" stroke-width="0.6"/>
<text x="487.60" y="269.80" font-size="6.60" text-anchor="middle" stroke="#231f20" stroke-width="0.12">10</text>
<text x="459.8" y="281.5" font-size="6.4" text-anchor="middle" stroke="#231f20" stroke-width="0.12">−log<tspan font-size="4.4" dy="1.6">10</tspan><tspan dy="-1.6">[</tspan><tspan font-style="italic">P</tspan>] × sign(log<tspan font-size="4.4" dy="1.6">2</tspan><tspan dy="-1.6">[FC])</tspan></text>
<text x="0" y="0" font-size="6.60" text-anchor="middle" transform="translate(395.61 143.00) rotate(-90)" stroke="#231f20" stroke-width="0.12">Density</text>
<rect x="504.90" y="34.40" width="179.40" height="22.90" fill="#ffffff" stroke="#5b8ad8" stroke-width="0.9"/>
<line x1="493.00" y1="38.20" x2="499.66" y2="38.20" stroke="#3a70c8" stroke-width="0.8"/>
<path d="M502.30,38.20 L499.00,36.70 L499.00,39.70 Z" fill="#3a70c8"/>
<text x="510.70" y="40.83" font-size="6.65" stroke="#231f20" stroke-width="0.12">Non-alcoholic fatty liver disease</text>
<text x="510.70" y="48.08" font-size="6.65" stroke="#231f20" stroke-width="0.12">Electron-transport chain (OXPHOS system)</text>
<text x="510.70" y="55.33" font-size="6.65" stroke="#231f20" stroke-width="0.12">Mitochondrial complex I assembly model</text>
<rect x="504.90" y="59.40" width="179.40" height="22.80" fill="#ffffff" stroke="#8fd08a" stroke-width="0.9"/>
<line x1="493.00" y1="63.20" x2="499.66" y2="63.20" stroke="#5cb85c" stroke-width="0.8"/>
<path d="M502.30,63.20 L499.00,61.70 L499.00,64.70 Z" fill="#5cb85c"/>
<text x="510.70" y="65.83" font-size="6.65" stroke="#231f20" stroke-width="0.12">Nuclear receptors meta-pathway</text>
<text x="510.70" y="73.08" font-size="6.65" stroke="#231f20" stroke-width="0.12">NRF2 pathway</text>
<text x="510.70" y="80.33" font-size="6.65" stroke="#231f20" stroke-width="0.12">Aryl hydrocarbon receptor pathway</text>
<rect x="504.90" y="85.20" width="179.40" height="8.40" fill="#ffffff" stroke="#5aaaf0" stroke-width="0.9"/>
<line x1="493.00" y1="89.00" x2="499.66" y2="89.00" stroke="#3ba0f0" stroke-width="0.8"/>
<path d="M502.30,89.00 L499.00,87.50 L499.00,90.50 Z" fill="#3ba0f0"/>
<text x="510.70" y="91.63" font-size="6.65" stroke="#231f20" stroke-width="0.12">Cytoplasmic ribosomal proteins</text>
<rect x="504.90" y="109.60" width="179.40" height="23.20" fill="#ffffff" stroke="#f59ac0" stroke-width="0.9"/>
<line x1="493.00" y1="113.40" x2="499.66" y2="113.40" stroke="#ee6a9a" stroke-width="0.8"/>
<path d="M502.30,113.40 L499.00,111.90 L499.00,114.90 Z" fill="#ee6a9a"/>
<text x="510.70" y="116.03" font-size="6.65" stroke="#231f20" stroke-width="0.12">PPAR signalling pathway</text>
<text x="510.70" y="123.28" font-size="6.65" stroke="#231f20" stroke-width="0.12">Adipogenesis</text>
<text x="510.70" y="130.53" font-size="6.65" stroke="#231f20" stroke-width="0.12">Angiopoietin like protein 8 regulatory pathway</text>
<rect x="504.90" y="135.00" width="179.40" height="22.80" fill="#ffffff" stroke="#f08a50" stroke-width="0.9"/>
<line x1="493.00" y1="138.80" x2="499.66" y2="138.80" stroke="#e8601c" stroke-width="0.8"/>
<path d="M502.30,138.80 L499.00,137.30 L499.00,140.30 Z" fill="#e8601c"/>
<text x="510.70" y="141.43" font-size="6.65" stroke="#231f20" stroke-width="0.12">Proteasome degradation</text>
<text x="510.70" y="148.68" font-size="6.65" stroke="#231f20" stroke-width="0.12">Parkin-ubiquitin proteasomal system pathway</text>
<text x="510.70" y="155.93" font-size="6.65" stroke="#231f20" stroke-width="0.12">Ciliary landscape</text>
<rect x="504.90" y="160.40" width="179.40" height="22.80" fill="#ffffff" stroke="#5aa865" stroke-width="0.9"/>
<line x1="493.00" y1="164.20" x2="499.66" y2="164.20" stroke="#3d8c45" stroke-width="0.8"/>
<path d="M502.30,164.20 L499.00,162.70 L499.00,165.70 Z" fill="#3d8c45"/>
<text x="510.70" y="166.83" font-size="6.65" stroke="#231f20" stroke-width="0.12">Circadian-rhythm-related genes</text>
<text x="510.70" y="174.08" font-size="6.65" stroke="#231f20" stroke-width="0.12">Sleep regulation</text>
<text x="510.70" y="181.33" font-size="6.65" stroke="#231f20" stroke-width="0.12">Parkinson’s disease pathway</text>
<rect x="504.90" y="185.80" width="179.40" height="22.90" fill="#ffffff" stroke="#f5a840" stroke-width="0.9"/>
<line x1="493.00" y1="189.60" x2="499.66" y2="189.60" stroke="#f39019" stroke-width="0.8"/>
<path d="M502.30,189.60 L499.00,188.10 L499.00,191.10 Z" fill="#f39019"/>
<text x="510.70" y="192.23" font-size="6.65" stroke="#231f20" stroke-width="0.12">Brain-derived neurotrophic factor signalling pathway</text>
<text x="510.70" y="199.48" font-size="6.65" stroke="#231f20" stroke-width="0.12">Prolactin signalling pathway</text>
<text x="510.70" y="206.73" font-size="6.65" stroke="#231f20" stroke-width="0.12">VEGFA–VEGFR2 signalling pathway</text>
<rect x="504.90" y="211.00" width="179.40" height="23.00" fill="#ffffff" stroke="#b070e0" stroke-width="0.9"/>
<line x1="493.00" y1="214.80" x2="499.66" y2="214.80" stroke="#9b30d0" stroke-width="0.8"/>
<path d="M502.30,214.80 L499.00,213.30 L499.00,216.30 Z" fill="#9b30d0"/>
<text x="510.70" y="217.43" font-size="6.65" stroke="#231f20" stroke-width="0.12">Eukaryotic transcription initiation</text>
<text x="510.70" y="224.68" font-size="6.65" stroke="#231f20" stroke-width="0.12">Pyrimidine metabolism</text>
<text x="510.70" y="231.93" font-size="6.65" stroke="#231f20" stroke-width="0.12">Cell cycle</text>
<rect x="504.90" y="236.30" width="179.40" height="22.70" fill="#ffffff" stroke="#ee44ee" stroke-width="0.9"/>
<line x1="493.00" y1="240.10" x2="499.66" y2="240.10" stroke="#ee22ee" stroke-width="0.8"/>
<path d="M502.30,240.10 L499.00,238.60 L499.00,241.60 Z" fill="#ee22ee"/>
<text x="510.70" y="242.73" font-size="6.65" stroke="#231f20" stroke-width="0.12">SREBP</text>
<text x="510.70" y="249.98" font-size="6.65" stroke="#231f20" stroke-width="0.12">Cholesterol biosynthesis pathway</text>
<text x="510.70" y="257.23" font-size="6.65" stroke="#231f20" stroke-width="0.12">Oxidation by cytochrome P450</text>
<text x="0.00" y="329.80" font-size="11.50" font-weight="bold" fill="#000" stroke="#000" stroke-width="0.12">f</text>
<text x="42.50" y="338.00" font-size="6.43" stroke="#231f20" stroke-width="0.12">Mitochondria-associated genes (MitoCarta)</text>
<line x1="34.50" y1="343.80" x2="34.50" y2="457.60" stroke="#aaa" stroke-width="1.0"/>
<line x1="33.50" y1="457.60" x2="177.00" y2="457.60" stroke="#555" stroke-width="0.7"/>
<line x1="30.00" y1="457.60" x2="34.50" y2="457.60" stroke="#555" stroke-width="0.6"/>
<text x="26.40" y="460.01" font-size="6.60" text-anchor="end" stroke="#231f20" stroke-width="0.12">0</text>
<line x1="30.00" y1="438.60" x2="34.50" y2="438.60" stroke="#555" stroke-width="0.6"/>
<text x="26.40" y="441.01" font-size="6.60" text-anchor="end" stroke="#231f20" stroke-width="0.12">1</text>
<line x1="30.00" y1="419.60" x2="34.50" y2="419.60" stroke="#555" stroke-width="0.6"/>
<text x="26.40" y="422.01" font-size="6.60" text-anchor="end" stroke="#231f20" stroke-width="0.12">2</text>
<line x1="30.00" y1="400.60" x2="34.50" y2="400.60" stroke="#555" stroke-width="0.6"/>
<text x="26.40" y="403.01" font-size="6.60" text-anchor="end" stroke="#231f20" stroke-width="0.12">3</text>
<line x1="30.00" y1="381.60" x2="34.50" y2="381.60" stroke="#555" stroke-width="0.6"/>
<text x="26.40" y="384.01" font-size="6.60" text-anchor="end" stroke="#231f20" stroke-width="0.12">4</text>
<line x1="30.00" y1="362.60" x2="34.50" y2="362.60" stroke="#555" stroke-width="0.6"/>
<text x="26.40" y="365.01" font-size="6.60" text-anchor="end" stroke="#231f20" stroke-width="0.12">5</text>
<line x1="30.00" y1="343.60" x2="34.50" y2="343.60" stroke="#555" stroke-width="0.6"/>
<text x="26.40" y="346.01" font-size="6.60" text-anchor="end" stroke="#231f20" stroke-width="0.12">6</text>
<line x1="34.70" y1="457.60" x2="34.70" y2="461.10" stroke="#555" stroke-width="0.6"/>
<text x="34.70" y="469.00" font-size="6.60" text-anchor="middle" stroke="#231f20" stroke-width="0.12">−3</text>
<line x1="58.30" y1="457.60" x2="58.30" y2="461.10" stroke="#555" stroke-width="0.6"/>
<text x="58.30" y="469.00" font-size="6.60" text-anchor="middle" stroke="#231f20" stroke-width="0.12">−2</text>
<line x1="81.90" y1="457.60" x2="81.90" y2="461.10" stroke="#555" stroke-width="0.6"/>
<text x="81.90" y="469.00" font-size="6.60" text-anchor="middle" stroke="#231f20" stroke-width="0.12">−1</text>
<line x1="105.50" y1="457.60" x2="105.50" y2="461.10" stroke="#555" stroke-width="0.6"/>
<text x="105.50" y="469.00" font-size="6.60" text-anchor="middle" stroke="#231f20" stroke-width="0.12">0</text>
<line x1="129.10" y1="457.60" x2="129.10" y2="461.10" stroke="#555" stroke-width="0.6"/>
<text x="129.10" y="469.00" font-size="6.60" text-anchor="middle" stroke="#231f20" stroke-width="0.12">1</text>
<line x1="152.70" y1="457.60" x2="152.70" y2="461.10" stroke="#555" stroke-width="0.6"/>
<text x="152.70" y="469.00" font-size="6.60" text-anchor="middle" stroke="#231f20" stroke-width="0.12">2</text>
<line x1="176.30" y1="457.60" x2="176.30" y2="461.10" stroke="#555" stroke-width="0.6"/>
<text x="176.30" y="469.00" font-size="6.60" text-anchor="middle" stroke="#231f20" stroke-width="0.12">3</text>
<text x="105.5" y="480.5" font-size="6.6" text-anchor="middle" stroke="#231f20" stroke-width="0.12">log<tspan font-size="4.5" dy="1.6">2</tspan><tspan dy="-1.6">[FC]</tspan></text>
<text x="0" y="0" font-size="6.4" text-anchor="middle" transform="translate(13.6 400) rotate(-90)" stroke="#231f20" stroke-width="0.12">−log<tspan font-size="4.4" dy="1.6">10</tspan><tspan dy="-1.6">[</tspan><tspan font-style="italic">P</tspan><tspan font-size="4.4" dy="1.6">adj</tspan><tspan dy="-1.6">] × sign(log</tspan><tspan font-size="4.4" dy="1.6">2</tspan><tspan dy="-1.6">[FC])</tspan></text>
<path d="M71.1 408.2h0M89.6 430.1h0M70.6 444.8h0M131.3 440.6h0M84.3 422.1h0M85.5 436.5h0M67.7 448.1h0M77.9 438.9h0M92.0 441.9h0M87.8 423.9h0M77.6 416.5h0M74.9 432.9h0M120.2 428.0h0M127.5 438.7h0M132.5 451.7h0M129.0 433.6h0M68.0 441.5h0M135.4 419.8h0M68.2 439.2h0M129.9 446.7h0M135.3 427.5h0M88.6 449.9h0M132.6 431.2h0M84.5 433.7h0M74.9 442.5h0M136.0 424.3h0M92.8 446.8h0M69.8 448.1h0M95.5 453.3h0M83.7 438.9h0M126.1 430.9h0M72.4 449.8h0M128.7 426.3h0M87.7 419.9h0M70.9 411.6h0M131.8 422.2h0M71.2 433.6h0M125.0 425.6h0M82.0 442.7h0M72.1 429.0h0M80.2 432.6h0M129.0 411.0h0M76.9 408.8h0M127.0 430.9h0M128.4 439.7h0M134.8 438.5h0M131.0 414.0h0M131.7 419.3h0M72.8 440.5h0" stroke="#8a8a8a" stroke-width="0.90" stroke-linecap="round" fill="none"/>
<defs><circle id="vp" r="0.6" fill="#e8e8e8" stroke="#999" stroke-width="0.3"/></defs>
<use href="#vp" x="108.8" y="456.0"/><use href="#vp" x="96.4" y="439.9"/><use href="#vp" x="109.4" y="448.2"/><use href="#vp" x="103.9" y="451.5"/><use href="#vp" x="109.6" y="452.3"/><use href="#vp" x="103.0" y="451.6"/><use href="#vp" x="109.2" y="447.8"/><use href="#vp" x="99.4" y="451.3"/><use href="#vp" x="109.2" y="452.7"/><use href="#vp" x="101.3" y="452.6"/><use href="#vp" x="98.2" y="446.0"/><use href="#vp" x="107.2" y="455.4"/><use href="#vp" x="106.3" y="455.8"/><use href="#vp" x="104.8" y="455.8"/><use href="#vp" x="101.1" y="456.2"/><use href="#vp" x="113.4" y="444.3"/><use href="#vp" x="108.2" y="454.6"/><use href="#vp" x="112.3" y="449.1"/><use href="#vp" x="109.6" y="451.9"/><use href="#vp" x="108.3" y="453.0"/><use href="#vp" x="108.4" y="448.6"/><use href="#vp" x="97.2" y="441.6"/><use href="#vp" x="102.7" y="452.6"/><use href="#vp" x="118.5" y="427.7"/><use href="#vp" x="102.7" y="449.6"/><use href="#vp" x="108.3" y="457.5"/><use href="#vp" x="100.3" y="453.2"/><use href="#vp" x="115.9" y="433.8"/><use href="#vp" x="100.3" y="453.4"/><use href="#vp" x="114.3" y="434.6"/><use href="#vp" x="102.6" y="453.7"/><use href="#vp" x="93.6" y="431.6"/><use href="#vp" x="98.6" y="445.2"/><use href="#vp" x="110.8" y="450.3"/><use href="#vp" x="110.7" y="450.1"/><use href="#vp" x="114.4" y="438.6"/><use href="#vp" x="95.4" y="439.5"/><use href="#vp" x="107.8" y="451.1"/><use href="#vp" x="113.7" y="436.6"/><use href="#vp" x="101.4" y="451.5"/><use href="#vp" x="102.1" y="456.0"/><use href="#vp" x="104.2" y="455.4"/><use href="#vp" x="98.5" y="443.1"/><use href="#vp" x="98.3" y="442.8"/><use href="#vp" x="101.8" y="450.5"/><use href="#vp" x="108.2" y="454.3"/><use href="#vp" x="113.0" y="441.7"/><use href="#vp" x="101.0" y="452.2"/><use href="#vp" x="111.4" y="444.3"/><use href="#vp" x="103.8" y="457.1"/><use href="#vp" x="111.7" y="444.7"/><use href="#vp" x="113.4" y="443.6"/><use href="#vp" x="110.0" y="454.6"/><use href="#vp" x="110.2" y="450.0"/><use href="#vp" x="100.2" y="446.5"/><use href="#vp" x="99.0" y="437.4"/><use href="#vp" x="108.0" y="457.2"/><use href="#vp" x="106.7" y="456.6"/><use href="#vp" x="110.9" y="446.2"/><use href="#vp" x="102.7" y="454.4"/><use href="#vp" x="106.0" y="453.7"/><use href="#vp" x="112.2" y="447.1"/><use href="#vp" x="93.5" y="433.7"/><use href="#vp" x="102.3" y="453.3"/><use href="#vp" x="103.0" y="454.6"/><use href="#vp" x="97.8" y="440.5"/><use href="#vp" x="100.5" y="445.0"/><use href="#vp" x="108.9" y="455.0"/><use href="#vp" x="110.1" y="455.6"/><use href="#vp" x="106.8" y="455.7"/><use href="#vp" x="108.1" y="452.5"/><use href="#vp" x="96.1" y="434.4"/><use href="#vp" x="109.5" y="449.7"/><use href="#vp" x="107.3" y="455.0"/><use href="#vp" x="100.8" y="448.5"/><use href="#vp" x="102.5" y="451.4"/><use href="#vp" x="113.6" y="439.2"/><use href="#vp" x="96.3" y="436.0"/><use href="#vp" x="100.7" y="450.8"/><use href="#vp" x="95.8" y="433.3"/><use href="#vp" x="108.9" y="455.1"/><use href="#vp" x="94.5" y="430.3"/><use href="#vp" x="109.8" y="453.2"/><use href="#vp" x="108.0" y="453.3"/><use href="#vp" x="98.8" y="445.8"/><use href="#vp" x="108.0" y="451.5"/><use href="#vp" x="114.2" y="435.8"/><use href="#vp" x="104.5" y="456.3"/><use href="#vp" x="104.7" y="457.6"/><use href="#vp" x="109.2" y="450.9"/><use href="#vp" x="100.9" y="448.6"/><use href="#vp" x="102.4" y="450.9"/><use href="#vp" x="101.9" y="453.3"/><use href="#vp" x="118.6" y="432.0"/><use href="#vp" x="101.4" y="450.7"/><use href="#vp" x="104.7" y="456.7"/><use href="#vp" x="99.7" y="445.8"/><use href="#vp" x="108.2" y="454.8"/><use href="#vp" x="112.8" y="441.2"/><use href="#vp" x="104.5" y="457.3"/><use href="#vp" x="111.4" y="444.3"/><use href="#vp" x="107.8" y="453.9"/><use href="#vp" x="103.6" y="455.3"/><use href="#vp" x="101.5" y="455.6"/><use href="#vp" x="99.1" y="440.3"/><use href="#vp" x="100.2" y="450.1"/><use href="#vp" x="105.6" y="456.9"/><use href="#vp" x="101.9" y="455.7"/><use href="#vp" x="101.6" y="449.1"/><use href="#vp" x="100.2" y="447.8"/><use href="#vp" x="102.2" y="454.4"/><use href="#vp" x="103.6" y="455.3"/><use href="#vp" x="101.7" y="453.9"/><use href="#vp" x="109.4" y="450.5"/><use href="#vp" x="111.6" y="441.1"/><use href="#vp" x="117.5" y="431.0"/><use href="#vp" x="102.8" y="453.3"/><use href="#vp" x="102.7" y="455.2"/><use href="#vp" x="102.8" y="449.0"/><use href="#vp" x="110.7" y="448.8"/><use href="#vp" x="96.5" y="435.0"/><use href="#vp" x="108.0" y="451.1"/><use href="#vp" x="108.4" y="455.2"/><use href="#vp" x="99.1" y="447.9"/><use href="#vp" x="108.3" y="453.7"/><use href="#vp" x="97.6" y="441.2"/><use href="#vp" x="100.9" y="449.4"/><use href="#vp" x="109.7" y="446.3"/><use href="#vp" x="101.9" y="457.1"/><use href="#vp" x="101.3" y="452.2"/><use href="#vp" x="103.4" y="453.8"/><use href="#vp" x="108.1" y="450.9"/><use href="#vp" x="106.3" y="457.2"/><use href="#vp" x="104.3" y="455.9"/><use href="#vp" x="96.8" y="443.2"/><use href="#vp" x="116.0" y="428.8"/><use href="#vp" x="108.6" y="452.7"/><use href="#vp" x="103.2" y="454.6"/><use href="#vp" x="109.3" y="456.0"/><use href="#vp" x="106.0" y="454.9"/><use href="#vp" x="114.7" y="436.8"/><use href="#vp" x="96.7" y="438.0"/><use href="#vp" x="106.2" y="457.5"/><use href="#vp" x="109.4" y="450.8"/><use href="#vp" x="96.2" y="437.4"/><use href="#vp" x="110.1" y="449.5"/><use href="#vp" x="109.7" y="449.3"/><use href="#vp" x="97.8" y="445.5"/><use href="#vp" x="113.0" y="442.0"/><use href="#vp" x="101.0" y="449.4"/><use href="#vp" x="98.1" y="441.2"/><use href="#vp" x="109.3" y="447.4"/><use href="#vp" x="92.3" y="425.3"/><use href="#vp" x="118.6" y="427.3"/><use href="#vp" x="109.1" y="450.2"/><use href="#vp" x="101.8" y="451.3"/><use href="#vp" x="114.5" y="445.1"/><use href="#vp" x="114.0" y="437.9"/><use href="#vp" x="101.5" y="453.1"/><use href="#vp" x="98.0" y="442.3"/><use href="#vp" x="97.1" y="444.0"/><use href="#vp" x="105.5" y="456.4"/><use href="#vp" x="98.9" y="444.1"/><use href="#vp" x="99.0" y="446.6"/><use href="#vp" x="111.8" y="444.9"/><use href="#vp" x="100.1" y="441.6"/><use href="#vp" x="104.9" y="456.6"/><use href="#vp" x="103.5" y="455.5"/><use href="#vp" x="111.8" y="443.9"/><use href="#vp" x="103.9" y="456.3"/><use href="#vp" x="98.7" y="439.7"/><use href="#vp" x="109.1" y="450.5"/><use href="#vp" x="103.4" y="454.4"/><use href="#vp" x="108.9" y="456.2"/><use href="#vp" x="92.9" y="435.1"/><use href="#vp" x="120.8" y="423.7"/><use href="#vp" x="100.6" y="449.4"/><use href="#vp" x="101.8" y="451.2"/><use href="#vp" x="103.7" y="451.1"/><use href="#vp" x="101.3" y="456.9"/><use href="#vp" x="110.0" y="449.4"/><use href="#vp" x="105.4" y="456.0"/><use href="#vp" x="104.8" y="456.1"/><use href="#vp" x="102.0" y="453.4"/><use href="#vp" x="96.6" y="435.2"/><use href="#vp" x="96.8" y="436.9"/><use href="#vp" x="103.6" y="457.0"/><use href="#vp" x="111.4" y="447.7"/><use href="#vp" x="103.5" y="456.8"/><use href="#vp" x="114.4" y="439.7"/><use href="#vp" x="120.7" y="420.1"/><use href="#vp" x="109.5" y="454.7"/><use href="#vp" x="110.6" y="446.2"/><use href="#vp" x="99.6" y="447.3"/><use href="#vp" x="103.2" y="454.3"/><use href="#vp" x="110.8" y="449.6"/><use href="#vp" x="108.4" y="455.2"/><use href="#vp" x="99.7" y="447.6"/><use href="#vp" x="107.4" y="455.6"/><use href="#vp" x="102.7" y="456.0"/><use href="#vp" x="108.0" y="453.1"/><use href="#vp" x="109.7" y="449.2"/><use href="#vp" x="102.2" y="455.1"/><use href="#vp" x="110.4" y="451.5"/><use href="#vp" x="111.1" y="447.8"/><use href="#vp" x="107.1" y="456.7"/><use href="#vp" x="103.0" y="454.8"/><use href="#vp" x="102.8" y="454.6"/><use href="#vp" x="108.0" y="453.3"/><use href="#vp" x="113.5" y="440.4"/><use href="#vp" x="96.2" y="436.5"/><use href="#vp" x="112.2" y="442.4"/><use href="#vp" x="98.4" y="447.5"/><use href="#vp" x="107.2" y="453.2"/><use href="#vp" x="97.2" y="435.5"/><use href="#vp" x="98.9" y="443.5"/><use href="#vp" x="103.3" y="455.2"/><use href="#vp" x="107.8" y="455.2"/><use href="#vp" x="112.6" y="448.4"/><use href="#vp" x="103.3" y="456.6"/><use href="#vp" x="91.3" y="421.7"/><use href="#vp" x="107.2" y="455.9"/><use href="#vp" x="108.2" y="447.3"/><use href="#vp" x="99.1" y="449.6"/><use href="#vp" x="98.7" y="445.2"/><use href="#vp" x="102.5" y="455.6"/><use href="#vp" x="96.9" y="438.6"/><use href="#vp" x="97.1" y="439.7"/><use href="#vp" x="102.6" y="449.9"/><use href="#vp" x="101.9" y="451.2"/><use href="#vp" x="109.9" y="451.2"/><use href="#vp" x="98.6" y="444.1"/><use href="#vp" x="102.6" y="456.2"/><use href="#vp" x="112.6" y="442.4"/><use href="#vp" x="111.9" y="445.6"/><use href="#vp" x="106.7" y="456.3"/><use href="#vp" x="111.6" y="444.8"/><use href="#vp" x="110.0" y="444.7"/><use href="#vp" x="109.7" y="451.5"/><use href="#vp" x="106.2" y="457.6"/><use href="#vp" x="110.7" y="449.9"/><use href="#vp" x="101.5" y="452.2"/><use href="#vp" x="106.7" y="457.2"/><use href="#vp" x="114.2" y="438.8"/><use href="#vp" x="112.0" y="441.5"/><use href="#vp" x="100.8" y="448.7"/><use href="#vp" x="102.3" y="453.6"/><use href="#vp" x="108.2" y="452.8"/><use href="#vp" x="107.8" y="455.0"/><use href="#vp" x="115.3" y="439.8"/><use href="#vp" x="108.0" y="455.7"/><use href="#vp" x="100.5" y="449.2"/><use href="#vp" x="104.5" y="455.3"/><use href="#vp" x="110.8" y="449.4"/><use href="#vp" x="97.3" y="439.0"/><use href="#vp" x="117.1" y="428.6"/><use href="#vp" x="115.9" y="435.9"/><use href="#vp" x="102.3" y="450.4"/><use href="#vp" x="107.9" y="456.2"/><use href="#vp" x="99.8" y="443.8"/><use href="#vp" x="101.3" y="447.9"/><use href="#vp" x="106.5" y="456.5"/><use href="#vp" x="107.7" y="457.3"/><use href="#vp" x="108.8" y="449.3"/><use href="#vp" x="108.7" y="451.1"/><use href="#vp" x="111.2" y="449.4"/><use href="#vp" x="100.1" y="445.9"/><use href="#vp" x="110.2" y="453.3"/><use href="#vp" x="109.2" y="452.9"/><use href="#vp" x="106.6" y="456.8"/><use href="#vp" x="108.4" y="451.9"/><use href="#vp" x="98.8" y="439.2"/><use href="#vp" x="98.8" y="446.5"/><use href="#vp" x="108.3" y="454.3"/><use href="#vp" x="108.5" y="450.0"/><use href="#vp" x="95.9" y="434.6"/><use href="#vp" x="101.0" y="454.7"/><use href="#vp" x="114.2" y="440.9"/><use href="#vp" x="107.1" y="452.6"/><use href="#vp" x="98.1" y="444.5"/><use href="#vp" x="104.7" y="456.0"/><use href="#vp" x="109.1" y="455.0"/><use href="#vp" x="104.0" y="455.1"/><use href="#vp" x="111.0" y="444.5"/><use href="#vp" x="108.5" y="451.5"/><use href="#vp" x="96.6" y="435.9"/><use href="#vp" x="112.8" y="441.8"/><use href="#vp" x="107.4" y="457.4"/><use href="#vp" x="97.8" y="442.3"/><use href="#vp" x="95.7" y="434.3"/><use href="#vp" x="98.8" y="448.3"/><use href="#vp" x="105.7" y="457.5"/><use href="#vp" x="102.5" y="449.8"/><use href="#vp" x="102.1" y="451.9"/><use href="#vp" x="108.5" y="454.7"/><use href="#vp" x="104.4" y="455.8"/><use href="#vp" x="93.6" y="429.5"/><use href="#vp" x="110.7" y="447.9"/><use href="#vp" x="99.4" y="445.3"/><use href="#vp" x="105.5" y="456.6"/><use href="#vp" x="112.2" y="441.9"/><use href="#vp" x="103.0" y="453.0"/><use href="#vp" x="96.7" y="439.1"/><use href="#vp" x="111.9" y="445.4"/><use href="#vp" x="112.0" y="446.4"/><use href="#vp" x="107.9" y="455.8"/><use href="#vp" x="100.3" y="450.6"/><use href="#vp" x="94.6" y="430.5"/><use href="#vp" x="107.5" y="455.4"/><use href="#vp" x="101.0" y="450.5"/><use href="#vp" x="101.8" y="456.8"/><use href="#vp" x="101.1" y="453.1"/><use href="#vp" x="101.9" y="454.1"/><use href="#vp" x="102.4" y="450.4"/><use href="#vp" x="111.1" y="446.4"/><use href="#vp" x="103.3" y="455.0"/><use href="#vp" x="103.0" y="456.8"/><use href="#vp" x="112.2" y="443.8"/><use href="#vp" x="97.0" y="442.6"/><use href="#vp" x="107.4" y="454.6"/><use href="#vp" x="109.2" y="449.6"/><use href="#vp" x="113.6" y="440.1"/><use href="#vp" x="108.1" y="454.1"/><use href="#vp" x="109.2" y="453.4"/><use href="#vp" x="107.2" y="455.8"/><use href="#vp" x="107.6" y="449.9"/><use href="#vp" x="102.0" y="453.4"/><use href="#vp" x="95.9" y="439.1"/><use href="#vp" x="107.6" y="455.1"/><use href="#vp" x="114.5" y="440.7"/>
<circle cx="68.92" cy="354.05" r="1.25" fill="#7a7a7a" stroke="#555" stroke-width="0.3"/>
<circle cx="77.18" cy="379.70" r="1.25" fill="#7a7a7a" stroke="#555" stroke-width="0.3"/>
<circle cx="87.80" cy="388.82" r="1.25" fill="#7a7a7a" stroke="#555" stroke-width="0.3"/>
<circle cx="77.18" cy="395.85" r="1.25" fill="#7a7a7a" stroke="#555" stroke-width="0.3"/>
<circle cx="86.62" cy="396.80" r="1.25" fill="#7a7a7a" stroke="#555" stroke-width="0.3"/>
<circle cx="52.40" cy="405.35" r="1.25" fill="#7a7a7a" stroke="#555" stroke-width="0.3"/>
<circle cx="79.54" cy="405.35" r="1.25" fill="#7a7a7a" stroke="#555" stroke-width="0.3"/>
<circle cx="90.16" cy="410.10" r="1.25" fill="#7a7a7a" stroke="#555" stroke-width="0.3"/>
<line x1="87.80" y1="388.82" x2="95.00" y2="383.50" stroke="#888" stroke-width="0.5"/>
<line x1="86.62" y1="396.80" x2="83.30" y2="388.30" stroke="#888" stroke-width="0.5"/>
<line x1="90.16" y1="410.10" x2="91.50" y2="409.00" stroke="#888" stroke-width="0.5"/>
<text x="37.80" y="347.91" font-size="6.60" font-style="italic" fill="#8a8a8a" stroke="#8a8a8a" stroke-width="0.12">CAT</text>
<text x="65.50" y="351.91" font-size="6.60" font-style="italic" fill="#8a8a8a" stroke="#8a8a8a" stroke-width="0.12">STOM</text>
<text x="37.80" y="375.91" font-size="6.60" font-style="italic" fill="#8a8a8a" stroke="#8a8a8a" stroke-width="0.12">COX7A1</text>
<text x="73.00" y="375.41" font-size="6.60" font-style="italic" fill="#8a8a8a" stroke="#8a8a8a" stroke-width="0.12">MAOA</text>
<text x="53.50" y="386.91" font-size="6.60" font-style="italic" fill="#8a8a8a" stroke="#8a8a8a" stroke-width="0.12">DNAJC15</text>
<text x="91.00" y="384.41" font-size="6.60" font-style="italic" fill="#8a8a8a" stroke="#8a8a8a" stroke-width="0.12">SEPTIN4</text>
<text x="57.70" y="393.41" font-size="6.60" font-style="italic" fill="#8a8a8a" stroke="#8a8a8a" stroke-width="0.12">PNPO</text>
<text x="37.80" y="401.91" font-size="6.60" font-style="italic" fill="#8a8a8a" stroke="#8a8a8a" stroke-width="0.12">SLC25A43</text>
<text x="77.00" y="403.91" font-size="6.60" font-style="italic" fill="#8a8a8a" stroke="#8a8a8a" stroke-width="0.12">PDE2A</text>
<text x="48.00" y="412.41" font-size="6.60" font-style="italic" fill="#8a8a8a" stroke="#8a8a8a" stroke-width="0.12">SLC25A23</text>
<circle cx="127.45" cy="358.80" r="1.35" fill="#f5a623"/>
<circle cx="126.74" cy="388.25" r="1.35" fill="#f5a623"/>
<circle cx="148.45" cy="399.65" r="1.35" fill="#f5a623"/>
<circle cx="122.02" cy="407.25" r="1.35" fill="#f5a623"/>
<circle cx="121.55" cy="411.05" r="1.35" fill="#f5a623"/>
<circle cx="116.12" cy="413.90" r="1.35" fill="#f5a623"/>
<circle cx="114.94" cy="416.75" r="1.35" fill="#f5a623"/>
<circle cx="117.30" cy="416.75" r="1.35" fill="#f5a623"/>
<circle cx="118.48" cy="418.65" r="1.35" fill="#f5a623"/>
<circle cx="116.12" cy="421.50" r="1.35" fill="#f5a623"/>
<circle cx="117.30" cy="427.20" r="1.35" fill="#f5a623"/>
<circle cx="113.76" cy="431.00" r="1.35" fill="#f5a623"/>
<text x="125.30" y="356.11" font-size="6.60" font-style="italic" fill="#f5a623" stroke="#f5a623" stroke-width="0.12">CASP3</text>
<text x="124.00" y="386.41" font-size="6.60" font-style="italic" fill="#f5a623" stroke="#f5a623" stroke-width="0.12">MTHFD2L</text>
<text x="146.20" y="394.91" font-size="6.60" font-style="italic" fill="#f5a623" stroke="#f5a623" stroke-width="0.12">CRYZ</text>
<text x="119.50" y="400.91" font-size="6.60" font-style="italic" fill="#f5a623" stroke="#f5a623" stroke-width="0.12">BCL2L1</text>
<text x="145.50" y="407.71" font-size="6.60" font-style="italic" fill="#f5a623" stroke="#f5a623" stroke-width="0.12">FUNDC1</text>
<text x="138.20" y="413.61" font-size="6.60" font-style="italic" fill="#f5a623" stroke="#f5a623" stroke-width="0.12">SUCLG1</text>
<text x="92.50" y="409.91" font-size="6.60" font-style="italic" fill="#f5a623" stroke="#f5a623" stroke-width="0.12">MT-ND2</text>
<text x="101.50" y="418.91" font-size="6.60" font-style="italic" fill="#f5a623" stroke="#f5a623" stroke-width="0.12">BID</text>
<text x="123.00" y="419.41" font-size="6.60" font-style="italic" fill="#f5a623" stroke="#f5a623" stroke-width="0.12">COQ3</text>
<text x="121.50" y="427.91" font-size="6.60" font-style="italic" fill="#f5a623" stroke="#f5a623" stroke-width="0.12">MMADHC</text>
<text x="111.00" y="433.19" font-size="6.00" font-style="italic" fill="#f5a623" stroke="#f5a623" stroke-width="0.12">Rit</text>
<line x1="122.02" y1="411.05" x2="145.00" y2="405.00" stroke="#555" stroke-width="0.5"/>
<line x1="122.02" y1="412.95" x2="138.00" y2="410.00" stroke="#555" stroke-width="0.5"/>
<line x1="118.48" y1="418.65" x2="121.00" y2="424.00" stroke="#888" stroke-width="0.5"/>
<line x1="117.30" y1="416.75" x2="123.50" y2="416.00" stroke="#888" stroke-width="0.5"/>
<text x="44.90" y="443.11" font-size="6.60" stroke="#231f20" stroke-width="0.12">Down in</text>
<text x="44.90" y="450.41" font-size="6.60" stroke="#231f20" stroke-width="0.12">p.Tyr622*</text>
<text x="137.50" y="443.11" font-size="6.60" stroke="#231f20" stroke-width="0.12">Up in</text>
<text x="137.50" y="450.41" font-size="6.60" stroke="#231f20" stroke-width="0.12">p.Tyr622*</text>
<line x1="80.00" y1="453.50" x2="38.80" y2="453.50" stroke="#231f20" stroke-width="0.7"/>
<path d="M36.00,453.50 L39.50,452.00 L39.50,455.00 Z" fill="#231f20"/>
<line x1="131.00" y1="453.50" x2="172.70" y2="453.50" stroke="#231f20" stroke-width="0.7"/>
<path d="M175.50,453.50 L172.00,452.00 L172.00,455.00 Z" fill="#231f20"/>
<text x="200.90" y="330.20" font-size="11.50" font-weight="bold" fill="#000" stroke="#000" stroke-width="0.12">g</text>
<line x1="230.90" y1="366.00" x2="230.90" y2="457.10" stroke="#999" stroke-width="0.8"/>
<line x1="230.90" y1="457.10" x2="322.50" y2="457.10" stroke="#777" stroke-width="0.7"/>
<line x1="227.10" y1="457.10" x2="230.90" y2="457.10" stroke="#777" stroke-width="0.6"/>
<text x="222.60" y="459.51" font-size="6.60" text-anchor="end" stroke="#231f20" stroke-width="0.12">0</text>
<line x1="227.10" y1="423.70" x2="230.90" y2="423.70" stroke="#777" stroke-width="0.6"/>
<text x="222.60" y="426.11" font-size="6.60" text-anchor="end" stroke="#231f20" stroke-width="0.12">0.1</text>
<line x1="227.10" y1="390.30" x2="230.90" y2="390.30" stroke="#777" stroke-width="0.6"/>
<text x="222.60" y="392.71" font-size="6.60" text-anchor="end" stroke="#231f20" stroke-width="0.12">0.2</text>
<text x="0" y="0" font-size="6.60" text-anchor="middle" transform="translate(205.61 412.50) rotate(-90)" stroke="#231f20" stroke-width="0.12">Uncoupled mitochondrial OCR (%)</text>
<line x1="246.20" y1="369.40" x2="246.20" y2="378.40" stroke="#9a9a9a" stroke-width="0.6"/>
<line x1="246.20" y1="398.80" x2="246.20" y2="402.30" stroke="#9a9a9a" stroke-width="0.6"/>
<line x1="243.00" y1="369.40" x2="249.40" y2="369.40" stroke="#9a9a9a" stroke-width="0.6"/>
<line x1="243.00" y1="402.30" x2="249.40" y2="402.30" stroke="#9a9a9a" stroke-width="0.6"/>
<rect x="239.80" y="378.40" width="12.80" height="20.40" fill="#c4c4c4" stroke="#8a8a8a" stroke-width="0.6"/>
<line x1="239.80" y1="393.40" x2="252.60" y2="393.40" stroke="#8a8a8a" stroke-width="0.6"/>
<line x1="276.90" y1="373.20" x2="276.90" y2="401.90" stroke="#9a9a9a" stroke-width="0.6"/>
<line x1="276.90" y1="420.80" x2="276.90" y2="427.10" stroke="#9a9a9a" stroke-width="0.6"/>
<line x1="273.75" y1="373.20" x2="280.05" y2="373.20" stroke="#9a9a9a" stroke-width="0.6"/>
<line x1="273.75" y1="427.10" x2="280.05" y2="427.10" stroke="#9a9a9a" stroke-width="0.6"/>
<rect x="270.60" y="401.90" width="12.60" height="18.90" fill="#f7cf8a" stroke="#9a8050" stroke-width="0.6"/>
<line x1="270.60" y1="415.20" x2="283.20" y2="415.20" stroke="#9a8050" stroke-width="0.6"/>
<line x1="307.60" y1="378.20" x2="307.60" y2="406.30" stroke="#9a9a9a" stroke-width="0.6"/>
<line x1="307.60" y1="430.60" x2="307.60" y2="445.70" stroke="#9a9a9a" stroke-width="0.6"/>
<line x1="304.55" y1="378.20" x2="310.65" y2="378.20" stroke="#9a9a9a" stroke-width="0.6"/>
<line x1="304.55" y1="445.70" x2="310.65" y2="445.70" stroke="#9a9a9a" stroke-width="0.6"/>
<rect x="301.50" y="406.30" width="12.20" height="24.30" fill="#8c8cf5" stroke="#55558a" stroke-width="0.6"/>
<line x1="301.50" y1="415.20" x2="313.70" y2="415.20" stroke="#55558a" stroke-width="0.6"/>
<circle cx="259.30" cy="369.40" r="1.20" fill="#111"/>
<circle cx="257.30" cy="372.50" r="1.20" fill="#111"/>
<circle cx="259.50" cy="377.50" r="1.20" fill="#111"/>
<circle cx="261.00" cy="379.00" r="1.20" fill="#111"/>
<circle cx="259.70" cy="384.50" r="1.20" fill="#111"/>
<circle cx="256.50" cy="388.00" r="1.20" fill="#111"/>
<circle cx="257.50" cy="391.00" r="1.20" fill="#111"/>
<circle cx="258.00" cy="393.00" r="1.20" fill="#111"/>
<circle cx="259.50" cy="394.50" r="1.20" fill="#111"/>
<circle cx="256.80" cy="396.30" r="1.20" fill="#111"/>
<circle cx="258.30" cy="396.80" r="1.20" fill="#111"/>
<circle cx="260.30" cy="397.50" r="1.20" fill="#111"/>
<circle cx="257.50" cy="399.00" r="1.20" fill="#111"/>
<circle cx="259.50" cy="400.50" r="1.20" fill="#111"/>
<circle cx="258.50" cy="402.00" r="1.20" fill="#111"/>
<circle cx="287.70" cy="370.50" r="1.20" fill="#111"/>
<circle cx="290.60" cy="372.60" r="1.20" fill="#111"/>
<circle cx="288.40" cy="376.30" r="1.20" fill="#111"/>
<circle cx="290.30" cy="375.40" r="1.20" fill="#111"/>
<circle cx="288.00" cy="387.90" r="1.20" fill="#111"/>
<circle cx="291.20" cy="398.50" r="1.20" fill="#111"/>
<circle cx="290.00" cy="402.50" r="1.20" fill="#111"/>
<circle cx="290.40" cy="405.50" r="1.20" fill="#111"/>
<circle cx="287.50" cy="409.30" r="1.20" fill="#111"/>
<circle cx="289.50" cy="412.00" r="1.20" fill="#111"/>
<circle cx="287.30" cy="413.50" r="1.20" fill="#111"/>
<circle cx="288.50" cy="415.00" r="1.20" fill="#111"/>
<circle cx="291.00" cy="415.50" r="1.20" fill="#111"/>
<circle cx="288.70" cy="417.60" r="1.20" fill="#111"/>
<circle cx="291.30" cy="420.00" r="1.20" fill="#111"/>
<circle cx="289.70" cy="421.30" r="1.20" fill="#111"/>
<circle cx="320.00" cy="378.60" r="1.20" fill="#111"/>
<circle cx="320.50" cy="400.20" r="1.20" fill="#111"/>
<circle cx="319.00" cy="402.50" r="1.20" fill="#111"/>
<circle cx="321.50" cy="405.00" r="1.20" fill="#111"/>
<circle cx="318.20" cy="414.50" r="1.20" fill="#111"/>
<circle cx="317.00" cy="416.00" r="1.20" fill="#111"/>
<circle cx="320.30" cy="417.50" r="1.20" fill="#111"/>
<circle cx="320.80" cy="420.00" r="1.20" fill="#111"/>
<circle cx="320.00" cy="429.00" r="1.20" fill="#111"/>
<circle cx="317.40" cy="434.00" r="1.20" fill="#111"/>
<circle cx="321.50" cy="437.00" r="1.20" fill="#111"/>
<circle cx="318.50" cy="445.50" r="1.20" fill="#111"/>
<path d="M246.20,363.40 L246.20,361.40 L277.00,361.40 L277.00,363.40" fill="none" stroke="#555" stroke-width="0.6"/>
<path d="M246.20,345.50 L246.20,343.50 L307.80,343.50 L307.80,345.50" fill="none" stroke="#555" stroke-width="0.6"/>
<text x="261" y="357.6" font-size="6.4" text-anchor="middle" stroke="#231f20" stroke-width="0.12"><tspan font-style="italic">P</tspan> = 2.225 × 10<tspan font-size="4.4" dy="-2.4">−5</tspan></text>
<text x="279" y="340.0" font-size="6.4" text-anchor="middle" stroke="#231f20" stroke-width="0.12"><tspan font-style="italic">P</tspan> = 2.868 × 10<tspan font-size="4.4" dy="-2.4">−4</tspan></text>
<line x1="246.50" y1="431.50" x2="246.50" y2="411.44" stroke="#c8c8c8" stroke-width="0.7"/>
<path d="M246.50,408.80 L247.90,412.10 L245.10,412.10 Z" fill="#c8c8c8"/>
<line x1="280.50" y1="445.50" x2="278.07" y2="434.58" stroke="#f5b55a" stroke-width="0.7"/>
<path d="M277.50,432.00 L279.58,434.92 L276.85,435.53 Z" fill="#f5b55a"/>
<line x1="305.50" y1="446.00" x2="301.00" y2="434.94" stroke="#6a6af5" stroke-width="0.7"/>
<path d="M300.00,432.50 L302.54,435.03 L299.95,436.08 Z" fill="#6a6af5"/>
<text x="247.5" y="440.5" font-size="6.4" text-anchor="middle" stroke="#231f20" stroke-width="0.12"><tspan font-style="italic">μ</tspan> = 0.2</text>
<text x="267.5" y="453.5" font-size="6.4" text-anchor="middle" stroke="#231f20" stroke-width="0.12"><tspan font-style="italic">μ</tspan> = 0.15</text>
<text x="305.5" y="453.5" font-size="6.4" text-anchor="middle" stroke="#231f20" stroke-width="0.12"><tspan font-style="italic">μ</tspan> = 0.12</text>
<rect x="231.90" y="461.00" width="13.10" height="8.50" fill="#c4c4c4"/>
<text x="238.45" y="467.59" font-size="6.40" text-anchor="middle" stroke="#231f20" stroke-width="0.12">WT</text>
<rect x="247.20" y="461.00" width="37.60" height="8.50" fill="#f7cf8a"/>
<text x="266.00" y="467.59" font-size="6.40" text-anchor="middle" stroke="#231f20" stroke-width="0.12">p.Tyr622*</text>
<rect x="287.10" y="461.00" width="41.90" height="8.50" fill="#8c8cf5"/>
<text x="308.05" y="467.59" font-size="6.40" text-anchor="middle" stroke="#231f20" stroke-width="0.12">p.Glu50fs*3</text>
<text x="349.60" y="329.60" font-size="11.50" font-weight="bold" fill="#000" stroke="#000" stroke-width="0.12">h</text>
<line x1="388.00" y1="355.30" x2="388.00" y2="458.40" stroke="#999" stroke-width="0.8"/>
<line x1="388.00" y1="458.40" x2="464.70" y2="458.40" stroke="#777" stroke-width="0.7"/>
<line x1="384.20" y1="366.20" x2="388.00" y2="366.20" stroke="#777" stroke-width="0.6"/>
<text x="379.60" y="368.61" font-size="6.60" text-anchor="end" stroke="#231f20" stroke-width="0.12">1.0</text>
<line x1="384.20" y1="386.30" x2="388.00" y2="386.30" stroke="#777" stroke-width="0.6"/>
<text x="379.60" y="388.71" font-size="6.60" text-anchor="end" stroke="#231f20" stroke-width="0.12">0.5</text>
<line x1="384.20" y1="406.40" x2="388.00" y2="406.40" stroke="#777" stroke-width="0.6"/>
<text x="379.60" y="408.81" font-size="6.60" text-anchor="end" stroke="#231f20" stroke-width="0.12">0</text>
<line x1="384.20" y1="426.50" x2="388.00" y2="426.50" stroke="#777" stroke-width="0.6"/>
<text x="379.60" y="428.91" font-size="6.60" text-anchor="end" stroke="#231f20" stroke-width="0.12">−0.5</text>
<line x1="384.20" y1="446.60" x2="388.00" y2="446.60" stroke="#777" stroke-width="0.6"/>
<text x="379.60" y="449.01" font-size="6.60" text-anchor="end" stroke="#231f20" stroke-width="0.12">−1.0</text>
<text x="0" y="0" font-size="6.40" text-anchor="middle" transform="translate(357.34 406.00) rotate(-90)" stroke="#231f20" stroke-width="0.12">MitoHealth intensity</text>
<text x="0" y="0" font-size="6.4" text-anchor="middle" transform="translate(364.3 406) rotate(-90)" stroke="#231f20" stroke-width="0.12">(<tspan font-style="italic">z</tspan> score)</text>
<line x1="400.80" y1="398.50" x2="400.80" y2="414.00" stroke="#9a9a9a" stroke-width="0.6"/>
<line x1="400.80" y1="438.50" x2="400.80" y2="454.00" stroke="#9a9a9a" stroke-width="0.6"/>
<line x1="398.20" y1="398.50" x2="403.40" y2="398.50" stroke="#9a9a9a" stroke-width="0.6"/>
<line x1="398.20" y1="454.00" x2="403.40" y2="454.00" stroke="#9a9a9a" stroke-width="0.6"/>
<rect x="395.60" y="414.00" width="10.40" height="24.50" fill="#c4c4c4" stroke="#8a8a8a" stroke-width="0.6"/>
<line x1="395.60" y1="427.20" x2="406.00" y2="427.20" stroke="#8a8a8a" stroke-width="0.6"/>
<line x1="426.55" y1="358.60" x2="426.55" y2="382.60" stroke="#9a9a9a" stroke-width="0.6"/>
<line x1="426.55" y1="408.50" x2="426.55" y2="432.50" stroke="#9a9a9a" stroke-width="0.6"/>
<line x1="424.02" y1="358.60" x2="429.08" y2="358.60" stroke="#9a9a9a" stroke-width="0.6"/>
<line x1="424.02" y1="432.50" x2="429.08" y2="432.50" stroke="#9a9a9a" stroke-width="0.6"/>
<rect x="421.50" y="382.60" width="10.10" height="25.90" fill="#f7cf8a" stroke="#9a8050" stroke-width="0.6"/>
<line x1="421.50" y1="392.20" x2="431.60" y2="392.20" stroke="#9a8050" stroke-width="0.6"/>
<line x1="452.35" y1="375.00" x2="452.35" y2="393.40" stroke="#9a9a9a" stroke-width="0.6"/>
<line x1="452.35" y1="411.60" x2="452.35" y2="426.00" stroke="#9a9a9a" stroke-width="0.6"/>
<line x1="449.78" y1="375.00" x2="454.93" y2="375.00" stroke="#9a9a9a" stroke-width="0.6"/>
<line x1="449.78" y1="426.00" x2="454.93" y2="426.00" stroke="#9a9a9a" stroke-width="0.6"/>
<rect x="447.20" y="393.40" width="10.30" height="18.20" fill="#8c8cf5" stroke="#55558a" stroke-width="0.6"/>
<line x1="447.20" y1="406.40" x2="457.50" y2="406.40" stroke="#55558a" stroke-width="0.6"/>
<circle cx="411.00" cy="398.50" r="0.85" fill="#111"/>
<circle cx="410.80" cy="413.50" r="0.85" fill="#111"/>
<circle cx="411.00" cy="423.50" r="0.85" fill="#111"/>
<circle cx="410.50" cy="432.50" r="0.85" fill="#111"/>
<circle cx="411.20" cy="433.50" r="0.85" fill="#111"/>
<circle cx="411.00" cy="453.00" r="0.85" fill="#111"/>
<circle cx="410.80" cy="454.50" r="0.85" fill="#111"/>
<circle cx="436.80" cy="358.60" r="0.85" fill="#111"/>
<circle cx="436.50" cy="370.00" r="0.85" fill="#111"/>
<circle cx="437.00" cy="379.50" r="0.85" fill="#111"/>
<circle cx="437.20" cy="386.00" r="0.85" fill="#111"/>
<circle cx="436.30" cy="392.00" r="0.85" fill="#111"/>
<circle cx="436.80" cy="393.00" r="0.85" fill="#111"/>
<circle cx="437.00" cy="400.00" r="0.85" fill="#111"/>
<circle cx="436.50" cy="405.50" r="0.85" fill="#111"/>
<circle cx="437.20" cy="411.50" r="0.85" fill="#111"/>
<circle cx="437.00" cy="428.50" r="0.85" fill="#111"/>
<circle cx="436.50" cy="432.00" r="0.85" fill="#111"/>
<circle cx="462.50" cy="375.00" r="0.85" fill="#111"/>
<circle cx="463.50" cy="390.00" r="0.85" fill="#111"/>
<circle cx="462.00" cy="392.00" r="0.85" fill="#111"/>
<circle cx="462.50" cy="393.50" r="0.85" fill="#111"/>
<circle cx="462.50" cy="406.50" r="0.85" fill="#111"/>
<circle cx="463.00" cy="411.50" r="0.85" fill="#111"/>
<circle cx="462.50" cy="412.00" r="0.85" fill="#111"/>
<circle cx="463.00" cy="417.00" r="0.85" fill="#111"/>
<circle cx="463.00" cy="426.00" r="0.85" fill="#111"/>
<path d="M400.00,333.80 L400.00,331.80 L452.00,331.80 L452.00,333.80" fill="none" stroke="#555" stroke-width="0.6"/>
<path d="M400.00,351.80 L400.00,349.80 L426.30,349.80 L426.30,351.80" fill="none" stroke="#555" stroke-width="0.6"/>
<text x="426.00" y="328.00" font-size="6.4" text-anchor="middle" stroke="#231f20" stroke-width="0.12"><tspan font-style="italic">P</tspan> = 0.004</text>
<text x="413.00" y="346.00" font-size="6.4" text-anchor="middle" stroke="#231f20" stroke-width="0.12"><tspan font-style="italic">P</tspan> = 0.002</text>
<rect x="388.00" y="462.50" width="12.70" height="6.30" fill="#c4c4c4"/>
<text x="394.35" y="467.99" font-size="6.40" text-anchor="middle" stroke="#231f20" stroke-width="0.12">WT</text>
<rect x="403.50" y="462.50" width="37.20" height="6.30" fill="#f7cf8a"/>
<text x="422.10" y="467.99" font-size="6.40" text-anchor="middle" stroke="#231f20" stroke-width="0.12">p.Tyr622*</text>
<rect x="443.60" y="462.50" width="37.90" height="6.30" fill="#8c8cf5"/>
<text x="462.55" y="467.99" font-size="6.40" text-anchor="middle" stroke="#231f20" stroke-width="0.12">p.Glu50fs*3</text>
<rect x="488.80" y="354.10" width="50.20" height="50.20" fill="#000" filter="url(#fMH0)"/>
<rect x="488.80" y="354.10" width="50.20" height="50.20" fill="none" stroke="#555" stroke-width="0.7"/>
<rect x="488.80" y="407.50" width="50.20" height="49.50" fill="#000" filter="url(#fNG)"/>
<rect x="488.80" y="407.50" width="50.20" height="49.50" fill="none" stroke="#777" stroke-width="0.7"/>
<rect x="541.20" y="354.10" width="49.60" height="50.20" fill="#000" filter="url(#fMH1)"/>
<rect x="541.20" y="354.10" width="49.60" height="50.20" fill="none" stroke="#555" stroke-width="0.7"/>
<rect x="541.20" y="407.50" width="49.60" height="49.50" fill="#000" filter="url(#fNG)"/>
<rect x="541.20" y="407.50" width="49.60" height="49.50" fill="none" stroke="#777" stroke-width="0.7"/>
<rect x="593.00" y="354.10" width="50.30" height="50.20" fill="#000" filter="url(#fMH2)"/>
<rect x="593.00" y="354.10" width="50.30" height="50.20" fill="none" stroke="#555" stroke-width="0.7"/>
<rect x="593.00" y="407.50" width="50.30" height="49.50" fill="#000" filter="url(#fNG)"/>
<rect x="593.00" y="407.50" width="50.30" height="49.50" fill="none" stroke="#777" stroke-width="0.7"/>
<rect x="528.00" y="401.40" width="10.00" height="1.40" fill="#ffffff"/>
<text x="513.90" y="351.20" font-size="6.60" text-anchor="middle" stroke="#231f20" stroke-width="0.12">WT</text>
<text x="566.00" y="351.20" font-size="6.60" text-anchor="middle" stroke="#231f20" stroke-width="0.12">p.Tyr622*</text>
<text x="618.10" y="351.20" font-size="6.60" text-anchor="middle" stroke="#231f20" stroke-width="0.12">p.Glu50fs*3</text>
<text x="0" y="0" font-size="6.60" text-anchor="middle" transform="translate(485.41 379.20) rotate(-90)" stroke="#231f20" stroke-width="0.12">MitoHealth</text>
<text x="0" y="0" font-size="6.60" text-anchor="middle" transform="translate(485.41 432.20) rotate(-90)" stroke="#231f20" stroke-width="0.12">NeuN/GFP</text>
<defs><linearGradient id="sgrad1" x1="0" y1="1" x2="0" y2="0"><stop offset="0.00" stop-color="#5e4fa2"/><stop offset="0.10" stop-color="#3288bd"/><stop offset="0.20" stop-color="#66c2a5"/><stop offset="0.30" stop-color="#abdda4"/><stop offset="0.40" stop-color="#e6f598"/><stop offset="0.50" stop-color="#ffffbf"/><stop offset="0.60" stop-color="#fee08b"/><stop offset="0.70" stop-color="#fdae61"/><stop offset="0.80" stop-color="#f46d43"/><stop offset="0.90" stop-color="#d53e4f"/><stop offset="1.00" stop-color="#9e0142"/></linearGradient></defs>
<rect x="649.00" y="362.60" width="6.40" height="85.80" fill="url(#sgrad1)" stroke="#666" stroke-width="0.4"/>
<line x1="655.40" y1="448.40" x2="659.20" y2="448.40" stroke="#444" stroke-width="0.6"/>
<text x="662.60" y="450.81" font-size="6.60" stroke="#231f20" stroke-width="0.12">0</text>
<line x1="655.40" y1="431.24" x2="659.20" y2="431.24" stroke="#444" stroke-width="0.6"/>
<text x="662.60" y="433.65" font-size="6.60" stroke="#231f20" stroke-width="0.12">0.2</text>
<line x1="655.40" y1="414.08" x2="659.20" y2="414.08" stroke="#444" stroke-width="0.6"/>
<text x="662.60" y="416.49" font-size="6.60" stroke="#231f20" stroke-width="0.12">0.4</text>
<line x1="655.40" y1="396.92" x2="659.20" y2="396.92" stroke="#444" stroke-width="0.6"/>
<text x="662.60" y="399.33" font-size="6.60" stroke="#231f20" stroke-width="0.12">0.6</text>
<line x1="655.40" y1="379.76" x2="659.20" y2="379.76" stroke="#444" stroke-width="0.6"/>
<text x="662.60" y="382.17" font-size="6.60" stroke="#231f20" stroke-width="0.12">0.8</text>
<line x1="655.40" y1="362.60" x2="659.20" y2="362.60" stroke="#444" stroke-width="0.6"/>
<text x="662.60" y="365.01" font-size="6.60" stroke="#231f20" stroke-width="0.12">1.0</text>
<text x="0" y="0" font-size="6.60" text-anchor="middle" transform="translate(682.71 405.50) rotate(-90)" stroke="#231f20" stroke-width="0.12">MitoHealth intensity</text>
<text x="0.00" y="499.80" font-size="11.50" font-weight="bold" fill="#000" stroke="#000" stroke-width="0.12">i</text>
<line x1="34.80" y1="517.00" x2="34.80" y2="619.20" stroke="#999" stroke-width="0.8"/>
<line x1="34.80" y1="619.20" x2="80.50" y2="619.20" stroke="#777" stroke-width="0.7"/>
<line x1="31.00" y1="619.20" x2="34.80" y2="619.20" stroke="#777" stroke-width="0.6"/>
<text x="27.40" y="621.61" font-size="6.60" text-anchor="end" stroke="#231f20" stroke-width="0.12">0</text>
<line x1="31.00" y1="604.70" x2="34.80" y2="604.70" stroke="#777" stroke-width="0.6"/>
<text x="27.40" y="607.11" font-size="6.60" text-anchor="end" stroke="#231f20" stroke-width="0.12">0.05</text>
<line x1="31.00" y1="590.20" x2="34.80" y2="590.20" stroke="#777" stroke-width="0.6"/>
<text x="27.40" y="592.61" font-size="6.60" text-anchor="end" stroke="#231f20" stroke-width="0.12">0.10</text>
<line x1="31.00" y1="575.70" x2="34.80" y2="575.70" stroke="#777" stroke-width="0.6"/>
<text x="27.40" y="578.11" font-size="6.60" text-anchor="end" stroke="#231f20" stroke-width="0.12">0.15</text>
<line x1="31.00" y1="561.20" x2="34.80" y2="561.20" stroke="#777" stroke-width="0.6"/>
<text x="27.40" y="563.61" font-size="6.60" text-anchor="end" stroke="#231f20" stroke-width="0.12">0.20</text>
<line x1="31.00" y1="546.70" x2="34.80" y2="546.70" stroke="#777" stroke-width="0.6"/>
<text x="27.40" y="549.11" font-size="6.60" text-anchor="end" stroke="#231f20" stroke-width="0.12">0.25</text>
<line x1="31.00" y1="532.20" x2="34.80" y2="532.20" stroke="#777" stroke-width="0.6"/>
<text x="27.40" y="534.61" font-size="6.60" text-anchor="end" stroke="#231f20" stroke-width="0.12">0.30</text>
<line x1="31.00" y1="517.70" x2="34.80" y2="517.70" stroke="#777" stroke-width="0.6"/>
<text x="27.40" y="520.11" font-size="6.60" text-anchor="end" stroke="#231f20" stroke-width="0.12">0.35</text>
<text x="0" y="0" font-size="6.4" text-anchor="middle" transform="translate(6.5 568) rotate(-90)" stroke="#231f20" stroke-width="0.12">TMRM intensity (Δ<tspan font-style="italic">ψ</tspan><tspan font-size="4.4" dy="1.6">m</tspan><tspan dy="-1.6">)</tspan></text>
<line x1="47.20" y1="573.50" x2="47.20" y2="577.40" stroke="#9a9a9a" stroke-width="0.6"/>
<line x1="47.20" y1="593.00" x2="47.20" y2="593.00" stroke="#9a9a9a" stroke-width="0.6"/>
<line x1="43.90" y1="573.50" x2="50.50" y2="573.50" stroke="#9a9a9a" stroke-width="0.6"/>
<line x1="43.90" y1="593.00" x2="50.50" y2="593.00" stroke="#9a9a9a" stroke-width="0.6"/>
<rect x="40.60" y="577.40" width="13.20" height="15.60" fill="#c4c4c4" stroke="#8a8a8a" stroke-width="0.6"/>
<line x1="40.60" y1="585.10" x2="53.80" y2="585.10" stroke="#8a8a8a" stroke-width="0.6"/>
<line x1="72.50" y1="521.30" x2="72.50" y2="547.30" stroke="#9a9a9a" stroke-width="0.6"/>
<line x1="72.50" y1="569.30" x2="72.50" y2="576.30" stroke="#9a9a9a" stroke-width="0.6"/>
<line x1="69.30" y1="521.30" x2="75.70" y2="521.30" stroke="#9a9a9a" stroke-width="0.6"/>
<line x1="69.30" y1="576.30" x2="75.70" y2="576.30" stroke="#9a9a9a" stroke-width="0.6"/>
<rect x="66.10" y="547.30" width="12.80" height="22.00" fill="#f7cf8a" stroke="#9a8050" stroke-width="0.6"/>
<line x1="66.10" y1="559.60" x2="78.90" y2="559.60" stroke="#9a8050" stroke-width="0.6"/>
<circle cx="55.80" cy="573.60" r="0.75" fill="#111"/>
<circle cx="55.20" cy="577.50" r="0.75" fill="#111"/>
<circle cx="56.50" cy="593.50" r="0.75" fill="#111"/>
<circle cx="58.50" cy="593.50" r="0.75" fill="#111"/>
<circle cx="81.00" cy="521.00" r="0.75" fill="#111"/>
<circle cx="80.80" cy="547.00" r="0.75" fill="#111"/>
<circle cx="82.00" cy="559.50" r="0.75" fill="#111"/>
<circle cx="81.50" cy="568.50" r="0.75" fill="#111"/>
<circle cx="84.50" cy="576.00" r="0.75" fill="#111"/>
<path d="M47.20,514.50 L47.20,512.50 L72.50,512.50 L72.50,514.50" fill="none" stroke="#555" stroke-width="0.6"/>
<text x="60.50" y="508.50" font-size="6.4" text-anchor="middle" stroke="#231f20" stroke-width="0.12"><tspan font-style="italic">P</tspan> = 0.039</text>
<rect x="39.00" y="621.80" width="12.50" height="6.80" fill="#c4c4c4"/>
<text x="45.25" y="627.54" font-size="6.40" text-anchor="middle" stroke="#231f20" stroke-width="0.12">WT</text>
<rect x="55.20" y="621.80" width="34.10" height="6.80" fill="#f7cf8a"/>
<text x="72.25" y="627.54" font-size="6.40" text-anchor="middle" stroke="#231f20" stroke-width="0.12">p.Tyr622*</text>
<rect x="100.20" y="517.50" width="49.80" height="50.30" fill="#000" filter="url(#fTM0)"/>
<rect x="100.20" y="517.50" width="49.80" height="50.30" fill="none" stroke="#a8a8a8" stroke-width="0.9"/>
<rect x="152.30" y="517.50" width="49.50" height="50.30" fill="#000" filter="url(#fTM1)"/>
<rect x="152.30" y="517.50" width="49.50" height="50.30" fill="none" stroke="#a8a8a8" stroke-width="0.9"/>
<rect x="139.20" y="564.60" width="9.30" height="1.40" fill="#ffffff"/>
<rect x="100.20" y="569.00" width="49.80" height="50.60" fill="#000" filter="url(#fMKa)"/>
<rect x="100.20" y="569.00" width="49.80" height="50.60" fill="#000" filter="url(#fMK0)"/>
<rect x="100.20" y="569.00" width="49.80" height="50.60" fill="none" stroke="#999" stroke-width="0.9"/>
<rect x="152.30" y="569.00" width="49.50" height="50.60" fill="#000" filter="url(#fMKa)"/>
<rect x="152.30" y="569.00" width="49.50" height="50.60" fill="#000" filter="url(#fMK1)"/>
<rect x="152.30" y="569.00" width="49.50" height="50.60" fill="none" stroke="#999" stroke-width="0.9"/>
<text x="125.10" y="513.20" font-size="6.60" text-anchor="middle" stroke="#231f20" stroke-width="0.12">WT</text>
<text x="177.00" y="513.20" font-size="6.60" text-anchor="middle" stroke="#231f20" stroke-width="0.12">p.Tyr622*</text>
<text x="0" y="0" font-size="6.60" text-anchor="middle" transform="translate(96.61 542.80) rotate(-90)" stroke="#231f20" stroke-width="0.12">TMRM (baseline)</text>
<text x="0" y="0" font-size="6.60" text-anchor="middle" transform="translate(96.61 594.30) rotate(-90)" stroke="#231f20" stroke-width="0.12">Mask</text>
<defs><linearGradient id="sgrad2" x1="0" y1="1" x2="0" y2="0"><stop offset="0.00" stop-color="#5e4fa2"/><stop offset="0.10" stop-color="#3288bd"/><stop offset="0.20" stop-color="#66c2a5"/><stop offset="0.30" stop-color="#abdda4"/><stop offset="0.40" stop-color="#e6f598"/><stop offset="0.50" stop-color="#ffffbf"/><stop offset="0.60" stop-color="#fee08b"/><stop offset="0.70" stop-color="#fdae61"/><stop offset="0.80" stop-color="#f46d43"/><stop offset="0.90" stop-color="#d53e4f"/><stop offset="1.00" stop-color="#9e0142"/></linearGradient></defs>
<rect x="205.60" y="526.20" width="4.60" height="84.10" fill="url(#sgrad2)" stroke="#666" stroke-width="0.4"/>
<line x1="210.20" y1="610.30" x2="213.80" y2="610.30" stroke="#444" stroke-width="0.6"/>
<text x="217.60" y="612.71" font-size="6.60" stroke="#231f20" stroke-width="0.12">0</text>
<line x1="210.20" y1="593.48" x2="213.80" y2="593.48" stroke="#444" stroke-width="0.6"/>
<text x="217.60" y="595.89" font-size="6.60" stroke="#231f20" stroke-width="0.12">0.2</text>
<line x1="210.20" y1="576.66" x2="213.80" y2="576.66" stroke="#444" stroke-width="0.6"/>
<text x="217.60" y="579.07" font-size="6.60" stroke="#231f20" stroke-width="0.12">0.4</text>
<line x1="210.20" y1="559.84" x2="213.80" y2="559.84" stroke="#444" stroke-width="0.6"/>
<text x="217.60" y="562.25" font-size="6.60" stroke="#231f20" stroke-width="0.12">0.6</text>
<line x1="210.20" y1="543.02" x2="213.80" y2="543.02" stroke="#444" stroke-width="0.6"/>
<text x="217.60" y="545.43" font-size="6.60" stroke="#231f20" stroke-width="0.12">0.8</text>
<line x1="210.20" y1="526.20" x2="213.80" y2="526.20" stroke="#444" stroke-width="0.6"/>
<text x="217.60" y="528.61" font-size="6.60" stroke="#231f20" stroke-width="0.12">1.0</text>
<text x="0" y="0" font-size="6.4" text-anchor="middle" transform="translate(238.5 568.5) rotate(-90)" stroke="#231f20" stroke-width="0.12">TMRM intensity (Δ<tspan font-style="italic">ψ</tspan><tspan font-size="4.4" dy="1.6">m</tspan><tspan dy="-1.6">)</tspan></text>
<text x="255.50" y="501.80" font-size="11.50" font-weight="bold" fill="#000" stroke="#000" stroke-width="0.12">j</text>
<line x1="285.60" y1="517.80" x2="285.60" y2="620.80" stroke="#999" stroke-width="0.8"/>
<line x1="285.60" y1="620.80" x2="337.00" y2="620.80" stroke="#777" stroke-width="0.7"/>
<line x1="281.80" y1="620.80" x2="285.60" y2="620.80" stroke="#777" stroke-width="0.6"/>
<text x="278.20" y="623.21" font-size="6.60" text-anchor="end" stroke="#231f20" stroke-width="0.12">0</text>
<line x1="281.80" y1="596.50" x2="285.60" y2="596.50" stroke="#777" stroke-width="0.6"/>
<text x="278.20" y="598.91" font-size="6.60" text-anchor="end" stroke="#231f20" stroke-width="0.12">0.2</text>
<line x1="281.80" y1="572.20" x2="285.60" y2="572.20" stroke="#777" stroke-width="0.6"/>
<text x="278.20" y="574.61" font-size="6.60" text-anchor="end" stroke="#231f20" stroke-width="0.12">0.4</text>
<line x1="281.80" y1="547.90" x2="285.60" y2="547.90" stroke="#777" stroke-width="0.6"/>
<text x="278.20" y="550.31" font-size="6.60" text-anchor="end" stroke="#231f20" stroke-width="0.12">0.6</text>
<line x1="281.80" y1="523.60" x2="285.60" y2="523.60" stroke="#777" stroke-width="0.6"/>
<text x="278.20" y="526.01" font-size="6.60" text-anchor="end" stroke="#231f20" stroke-width="0.12">0.8</text>
<text x="0" y="0" font-size="6.60" text-anchor="middle" transform="translate(261.91 570.00) rotate(-90)" stroke="#231f20" stroke-width="0.12">CellROX intensity</text>
<line x1="298.95" y1="538.40" x2="298.95" y2="565.20" stroke="#9a9a9a" stroke-width="0.6"/>
<line x1="298.95" y1="590.30" x2="298.95" y2="608.00" stroke="#9a9a9a" stroke-width="0.6"/>
<line x1="295.78" y1="538.40" x2="302.13" y2="538.40" stroke="#9a9a9a" stroke-width="0.6"/>
<line x1="295.78" y1="608.00" x2="302.13" y2="608.00" stroke="#9a9a9a" stroke-width="0.6"/>
<rect x="292.60" y="565.20" width="12.70" height="25.10" fill="#c4c4c4" stroke="#8a8a8a" stroke-width="0.6"/>
<line x1="292.60" y1="575.00" x2="305.30" y2="575.00" stroke="#8a8a8a" stroke-width="0.6"/>
<line x1="324.65" y1="523.50" x2="324.65" y2="544.40" stroke="#9a9a9a" stroke-width="0.6"/>
<line x1="324.65" y1="567.60" x2="324.65" y2="575.70" stroke="#9a9a9a" stroke-width="0.6"/>
<line x1="321.47" y1="523.50" x2="327.82" y2="523.50" stroke="#9a9a9a" stroke-width="0.6"/>
<line x1="321.47" y1="575.70" x2="327.82" y2="575.70" stroke="#9a9a9a" stroke-width="0.6"/>
<rect x="318.30" y="544.40" width="12.70" height="23.20" fill="#f7cf8a" stroke="#9a8050" stroke-width="0.6"/>
<line x1="318.30" y1="551.10" x2="331.00" y2="551.10" stroke="#9a8050" stroke-width="0.6"/>
<circle cx="310.20" cy="538.50" r="0.75" fill="#111"/>
<circle cx="307.80" cy="550.00" r="0.75" fill="#111"/>
<circle cx="308.50" cy="564.50" r="0.75" fill="#111"/>
<circle cx="307.20" cy="565.50" r="0.75" fill="#111"/>
<circle cx="309.00" cy="573.50" r="0.75" fill="#111"/>
<circle cx="307.30" cy="578.00" r="0.75" fill="#111"/>
<circle cx="306.80" cy="579.50" r="0.75" fill="#111"/>
<circle cx="308.00" cy="593.00" r="0.75" fill="#111"/>
<circle cx="309.50" cy="602.50" r="0.75" fill="#111"/>
<circle cx="310.00" cy="605.50" r="0.75" fill="#111"/>
<circle cx="336.00" cy="523.00" r="0.75" fill="#111"/>
<circle cx="333.50" cy="533.00" r="0.75" fill="#111"/>
<circle cx="333.00" cy="542.50" r="0.75" fill="#111"/>
<circle cx="333.00" cy="547.00" r="0.75" fill="#111"/>
<circle cx="334.50" cy="549.00" r="0.75" fill="#111"/>
<circle cx="335.00" cy="553.00" r="0.75" fill="#111"/>
<circle cx="333.00" cy="560.00" r="0.75" fill="#111"/>
<circle cx="333.50" cy="569.00" r="0.75" fill="#111"/>
<circle cx="332.80" cy="574.00" r="0.75" fill="#111"/>
<circle cx="333.50" cy="575.50" r="0.75" fill="#111"/>
<path d="M298.50,518.00 L298.50,516.00 L324.50,516.00 L324.50,518.00" fill="none" stroke="#555" stroke-width="0.6"/>
<text x="311.50" y="511.50" font-size="6.4" text-anchor="middle" stroke="#231f20" stroke-width="0.12"><tspan font-style="italic">P</tspan> = 0.022</text>
<rect x="289.30" y="624.20" width="12.70" height="6.80" fill="#c4c4c4"/>
<text x="295.65" y="629.94" font-size="6.40" text-anchor="middle" stroke="#231f20" stroke-width="0.12">WT</text>
<rect x="305.60" y="624.20" width="32.80" height="6.80" fill="#f7cf8a"/>
<text x="322.00" y="629.94" font-size="6.40" text-anchor="middle" stroke="#231f20" stroke-width="0.12">p.Tyr622*</text>
<rect x="352.90" y="517.80" width="50.90" height="50.20" fill="#000" filter="url(#fCR0)"/>
<rect x="352.90" y="517.80" width="50.90" height="50.20" fill="none" stroke="#666" stroke-width="0.7"/>
<rect x="405.00" y="517.80" width="51.90" height="50.20" fill="#000" filter="url(#fCR1)"/>
<rect x="405.00" y="517.80" width="51.90" height="50.20" fill="none" stroke="#666" stroke-width="0.7"/>
<rect x="392.70" y="565.60" width="9.60" height="1.40" fill="#ffffff"/>
<rect x="352.90" y="570.10" width="50.90" height="51.10" fill="#000" filter="url(#fMKf)"/>
<rect x="405.00" y="570.10" width="51.90" height="51.10" fill="#000" filter="url(#fMKf)"/>
<g transform="translate(0 52.3)">
<rect x="352.90" y="517.80" width="50.90" height="50.20" fill="#000" filter="url(#fMK2)"/>
<rect x="405.00" y="517.80" width="51.90" height="50.20" fill="#000" filter="url(#fMK3)"/>
</g>
<rect x="352.90" y="570.10" width="50.90" height="51.10" fill="none" stroke="#777" stroke-width="0.7"/>
<rect x="405.00" y="570.10" width="51.90" height="51.10" fill="none" stroke="#777" stroke-width="0.7"/>
<text x="378.30" y="513.30" font-size="6.60" text-anchor="middle" stroke="#231f20" stroke-width="0.12">WT</text>
<text x="431.00" y="513.30" font-size="6.60" text-anchor="middle" stroke="#231f20" stroke-width="0.12">p.Tyr622*</text>
<text x="0" y="0" font-size="6.60" text-anchor="middle" transform="translate(349.41 543.00) rotate(-90)" stroke="#231f20" stroke-width="0.12">CellROX</text>
<text x="0" y="0" font-size="6.60" text-anchor="middle" transform="translate(349.41 595.50) rotate(-90)" stroke="#231f20" stroke-width="0.12">Mask</text>
<defs><linearGradient id="vgrad2" x1="0" y1="1" x2="0" y2="0"><stop offset="0.0" stop-color="#440154"/><stop offset="0.125" stop-color="#482475"/><stop offset="0.25" stop-color="#3b528b"/><stop offset="0.375" stop-color="#2c728e"/><stop offset="0.5" stop-color="#21918c"/><stop offset="0.625" stop-color="#27ad81"/><stop offset="0.75" stop-color="#5ec962"/><stop offset="0.875" stop-color="#aadc32"/><stop offset="1.0" stop-color="#fde725"/></linearGradient></defs>
<rect x="460.40" y="526.60" width="4.60" height="85.80" fill="url(#vgrad2)" stroke="#666" stroke-width="0.4"/>
<line x1="465.00" y1="612.40" x2="468.80" y2="612.40" stroke="#444" stroke-width="0.6"/>
<text x="472.60" y="614.81" font-size="6.60" stroke="#231f20" stroke-width="0.12">0</text>
<line x1="465.00" y1="595.24" x2="468.80" y2="595.24" stroke="#444" stroke-width="0.6"/>
<text x="472.60" y="597.65" font-size="6.60" stroke="#231f20" stroke-width="0.12">0.2</text>
<line x1="465.00" y1="578.08" x2="468.80" y2="578.08" stroke="#444" stroke-width="0.6"/>
<text x="472.60" y="580.49" font-size="6.60" stroke="#231f20" stroke-width="0.12">0.4</text>
<line x1="465.00" y1="560.92" x2="468.80" y2="560.92" stroke="#444" stroke-width="0.6"/>
<text x="472.60" y="563.33" font-size="6.60" stroke="#231f20" stroke-width="0.12">0.6</text>
<line x1="465.00" y1="543.76" x2="468.80" y2="543.76" stroke="#444" stroke-width="0.6"/>
<text x="472.60" y="546.17" font-size="6.60" stroke="#231f20" stroke-width="0.12">0.8</text>
<line x1="465.00" y1="526.60" x2="468.80" y2="526.60" stroke="#444" stroke-width="0.6"/>
<text x="472.60" y="529.01" font-size="6.60" stroke="#231f20" stroke-width="0.12">1.0</text>
<text x="0" y="0" font-size="6.60" text-anchor="middle" transform="translate(493.31 569.50) rotate(-90)" stroke="#231f20" stroke-width="0.12">CellROX intensity</text>
<text x="511.40" y="500.60" font-size="11.50" font-weight="bold" fill="#000" stroke="#000" stroke-width="0.12">k</text>
<circle cx="559.60" cy="496.80" r="2.40" fill="#e02a2a"/>
<text x="566.00" y="499.21" font-size="6.60" stroke="#231f20" stroke-width="0.12">Neutral lipids</text>
<circle cx="616.00" cy="496.80" r="2.40" fill="#4055d8"/>
<text x="622.20" y="499.21" font-size="6.60" stroke="#231f20" stroke-width="0.12">Phospholipids</text>
<circle cx="559.60" cy="505.40" r="2.40" fill="#2ec7a0"/>
<text x="566.00" y="507.81" font-size="6.60" stroke="#231f20" stroke-width="0.12">Sphingolipids</text>
<circle cx="616.00" cy="505.40" r="2.40" fill="#f5b52a"/>
<text x="622.20" y="507.81" font-size="6.60" stroke="#231f20" stroke-width="0.12">Steroid</text>
<line x1="545.20" y1="510.70" x2="545.20" y2="620.80" stroke="#999" stroke-width="0.8"/>
<line x1="545.20" y1="620.80" x2="685.00" y2="620.80" stroke="#777" stroke-width="0.7"/>
<line x1="541.40" y1="615.60" x2="545.20" y2="615.60" stroke="#777" stroke-width="0.6"/>
<text x="537.30" y="618.01" font-size="6.60" text-anchor="end" stroke="#231f20" stroke-width="0.12">0</text>
<line x1="541.40" y1="602.50" x2="545.20" y2="602.50" stroke="#777" stroke-width="0.6"/>
<text x="537.30" y="604.91" font-size="6.60" text-anchor="end" stroke="#231f20" stroke-width="0.12">0.25</text>
<line x1="541.40" y1="589.40" x2="545.20" y2="589.40" stroke="#777" stroke-width="0.6"/>
<text x="537.30" y="591.81" font-size="6.60" text-anchor="end" stroke="#231f20" stroke-width="0.12">0.50</text>
<line x1="541.40" y1="576.30" x2="545.20" y2="576.30" stroke="#777" stroke-width="0.6"/>
<text x="537.30" y="578.71" font-size="6.60" text-anchor="end" stroke="#231f20" stroke-width="0.12">0.75</text>
<line x1="541.40" y1="563.20" x2="545.20" y2="563.20" stroke="#777" stroke-width="0.6"/>
<text x="537.30" y="565.61" font-size="6.60" text-anchor="end" stroke="#231f20" stroke-width="0.12">1.00</text>
<line x1="541.40" y1="550.10" x2="545.20" y2="550.10" stroke="#777" stroke-width="0.6"/>
<text x="537.30" y="552.51" font-size="6.60" text-anchor="end" stroke="#231f20" stroke-width="0.12">1.25</text>
<line x1="541.40" y1="537.00" x2="545.20" y2="537.00" stroke="#777" stroke-width="0.6"/>
<text x="537.30" y="539.41" font-size="6.60" text-anchor="end" stroke="#231f20" stroke-width="0.12">1.50</text>
<line x1="541.40" y1="523.90" x2="545.20" y2="523.90" stroke="#777" stroke-width="0.6"/>
<text x="537.30" y="526.31" font-size="6.60" text-anchor="end" stroke="#231f20" stroke-width="0.12">1.75</text>
<line x1="541.40" y1="510.80" x2="545.20" y2="510.80" stroke="#777" stroke-width="0.6"/>
<text x="537.30" y="513.21" font-size="6.60" text-anchor="end" stroke="#231f20" stroke-width="0.12">2.00</text>
<line x1="568.70" y1="620.80" x2="568.70" y2="624.30" stroke="#777" stroke-width="0.6"/>
<text x="568.70" y="634.00" font-size="6.60" text-anchor="middle" stroke="#231f20" stroke-width="0.12">−2</text>
<line x1="602.20" y1="620.80" x2="602.20" y2="624.30" stroke="#777" stroke-width="0.6"/>
<text x="602.20" y="634.00" font-size="6.60" text-anchor="middle" stroke="#231f20" stroke-width="0.12">0</text>
<line x1="635.70" y1="620.80" x2="635.70" y2="624.30" stroke="#777" stroke-width="0.6"/>
<text x="635.70" y="634.00" font-size="6.60" text-anchor="middle" stroke="#231f20" stroke-width="0.12">2</text>
<line x1="669.20" y1="620.80" x2="669.20" y2="624.30" stroke="#777" stroke-width="0.6"/>
<text x="669.20" y="634.00" font-size="6.60" text-anchor="middle" stroke="#231f20" stroke-width="0.12">4</text>
<text x="607.0" y="644.3" font-size="6.6" text-anchor="middle" stroke="#231f20" stroke-width="0.12">log<tspan font-size="4.5" dy="1.6">2</tspan><tspan dy="-1.6">[FC]</tspan></text>
<text x="0" y="0" font-size="6.4" text-anchor="middle" transform="translate(516.6 565) rotate(-90)" stroke="#231f20" stroke-width="0.12">−log<tspan font-size="4.4" dy="1.6">10</tspan><tspan dy="-1.6">[</tspan><tspan font-style="italic">P</tspan><tspan font-size="4.4" dy="1.6">adj</tspan><tspan dy="-1.6">] × sign(log</tspan><tspan font-size="4.4" dy="1.6">2</tspan><tspan dy="-1.6">[FC])</tspan></text>
<text x="624.50" y="612.21" font-size="6.60" stroke="#231f20" stroke-width="0.12">Up in p.Tyr622*</text>
<line x1="621.00" y1="615.60" x2="672.20" y2="615.60" stroke="#231f20" stroke-width="0.7"/>
<path d="M675.00,615.60 L671.50,614.10 L671.50,617.10 Z" fill="#231f20"/>
<circle cx="551.80" cy="594.80" r="1.60" fill="#c0524e" stroke="#444" stroke-width="0.35"/>
<circle cx="573.80" cy="600.00" r="1.60" fill="#c0524e" stroke="#444" stroke-width="0.35"/>
<circle cx="613.20" cy="594.80" r="1.60" fill="#c0524e" stroke="#444" stroke-width="0.35"/>
<circle cx="633.00" cy="600.60" r="1.60" fill="#c0524e" stroke="#444" stroke-width="0.35"/>
<circle cx="652.00" cy="594.80" r="1.60" fill="#c0524e" stroke="#444" stroke-width="0.35"/>
<circle cx="677.60" cy="594.80" r="1.60" fill="#c0524e" stroke="#444" stroke-width="0.35"/>
<circle cx="654.20" cy="574.30" r="1.60" fill="#c0524e" stroke="#444" stroke-width="0.35"/>
<circle cx="551.80" cy="586.70" r="1.60" fill="#4fb898" stroke="#444" stroke-width="0.35"/>
<circle cx="567.30" cy="589.60" r="1.60" fill="#4fb898" stroke="#444" stroke-width="0.35"/>
<circle cx="593.00" cy="610.30" r="1.60" fill="#4fb898" stroke="#444" stroke-width="0.35"/>
<circle cx="605.40" cy="605.30" r="1.60" fill="#5a66b4" stroke="#444" stroke-width="0.35"/>
<circle cx="613.20" cy="589.60" r="1.60" fill="#5a66b4" stroke="#444" stroke-width="0.35"/>
<circle cx="633.70" cy="600.60" r="1.60" fill="#5a66b4" stroke="#444" stroke-width="0.35"/>
<circle cx="652.00" cy="570.40" r="1.60" fill="#5a66b4" stroke="#444" stroke-width="0.35"/>
<circle cx="621.50" cy="532.30" r="1.60" fill="#5a66b4" stroke="#444" stroke-width="0.35"/>
<circle cx="623.50" cy="532.30" r="1.60" fill="#5a66b4" stroke="#444" stroke-width="0.35"/>
<circle cx="625.50" cy="532.30" r="1.60" fill="#5a66b4" stroke="#444" stroke-width="0.35"/>
<circle cx="627.50" cy="532.30" r="1.60" fill="#5a66b4" stroke="#444" stroke-width="0.35"/>
<circle cx="629.50" cy="532.30" r="1.60" fill="#5a66b4" stroke="#444" stroke-width="0.35"/>
<circle cx="633.00" cy="532.30" r="1.60" fill="#5a66b4" stroke="#444" stroke-width="0.35"/>
<circle cx="645.00" cy="532.30" r="1.60" fill="#5a66b4" stroke="#444" stroke-width="0.35"/>
<circle cx="633.00" cy="538.60" r="1.60" fill="#5a66b4" stroke="#444" stroke-width="0.35"/>
<circle cx="621.50" cy="544.40" r="1.60" fill="#5a66b4" stroke="#444" stroke-width="0.35"/>
<circle cx="623.00" cy="544.40" r="1.60" fill="#5a66b4" stroke="#444" stroke-width="0.35"/>
<circle cx="625.00" cy="544.40" r="1.60" fill="#5a66b4" stroke="#444" stroke-width="0.35"/>
<circle cx="618.50" cy="549.00" r="1.60" fill="#5a66b4" stroke="#444" stroke-width="0.35"/>
<circle cx="620.50" cy="549.50" r="1.60" fill="#5a66b4" stroke="#444" stroke-width="0.35"/>
<circle cx="622.50" cy="550.20" r="1.60" fill="#5a66b4" stroke="#444" stroke-width="0.35"/>
<circle cx="621.50" cy="557.20" r="1.60" fill="#5a66b4" stroke="#444" stroke-width="0.35"/>
<circle cx="622.50" cy="569.50" r="1.60" fill="#5a66b4" stroke="#444" stroke-width="0.35"/>
<circle cx="625.00" cy="567.00" r="1.60" fill="#5a66b4" stroke="#444" stroke-width="0.35"/>
<circle cx="622.40" cy="516.00" r="1.70" fill="#f0c060" stroke="#555" stroke-width="0.4"/>
<circle cx="639.00" cy="531.80" r="1.70" fill="#f0c060" stroke="#555" stroke-width="0.4"/>
<text x="629.00" y="518.54" font-size="6.40" fill="#f5b52a" stroke="#f5b52a" stroke-width="0.12">ZyE()</text>
<text x="587.00" y="522.84" font-size="6.40" fill="#4a5bd0" stroke="#4a5bd0" stroke-width="0.12">PE(40:7e)</text>
<text x="624.00" y="528.84" font-size="6.40" fill="#4a5bd0" stroke="#4a5bd0" stroke-width="0.12">PG(18:0_22:4)</text>
<text x="571.00" y="529.84" font-size="6.40" fill="#4a5bd0" stroke="#4a5bd0" stroke-width="0.12">PC(30:0)</text>
<text x="653.00" y="533.84" font-size="6.40" fill="#f5b52a" stroke="#f5b52a" stroke-width="0.12">ZyE(0:0)</text>
<text x="553.00" y="539.84" font-size="6.40" fill="#4a5bd0" stroke="#4a5bd0" stroke-width="0.12">PE(42:7e)</text>
<text x="600.00" y="540.34" font-size="6.40" fill="#4a5bd0" stroke="#4a5bd0" stroke-width="0.12">PC(32:0)</text>
<text x="651.00" y="541.84" font-size="6.40" fill="#4a5bd0" stroke="#4a5bd0" stroke-width="0.12">LPE(18:0)</text>
<text x="575.00" y="549.84" font-size="6.40" fill="#4a5bd0" stroke="#4a5bd0" stroke-width="0.12">PC(31:0)</text>
<text x="646.00" y="549.34" font-size="6.40" fill="#4a5bd0" stroke="#4a5bd0" stroke-width="0.12">PE(42:10e)</text>
<text x="585.00" y="558.84" font-size="6.40" fill="#4a5bd0" stroke="#4a5bd0" stroke-width="0.12">PC(34:0)</text>
<text x="640.00" y="557.84" font-size="6.40" fill="#4a5bd0" stroke="#4a5bd0" stroke-width="0.12">PC(34:0e)</text>
<text x="579.00" y="567.84" font-size="6.40" fill="#4a5bd0" stroke="#4a5bd0" stroke-width="0.12">PC(10:0_23:0)</text>
<text x="628.00" y="567.84" font-size="6.40" fill="#4a5bd0" stroke="#4a5bd0" stroke-width="0.12">LPC(16:0)</text>
<line x1="626.50" y1="516.20" x2="629.00" y2="516.20" stroke="#555" stroke-width="0.45"/>
<line x1="606.00" y1="521.50" x2="621.00" y2="531.50" stroke="#555" stroke-width="0.45"/>
<line x1="630.00" y1="527.50" x2="627.00" y2="531.50" stroke="#555" stroke-width="0.45"/>
<line x1="594.00" y1="528.50" x2="621.00" y2="532.30" stroke="#555" stroke-width="0.45"/>
<line x1="641.00" y1="531.80" x2="652.50" y2="531.50" stroke="#555" stroke-width="0.45"/>
<line x1="583.50" y1="537.00" x2="620.50" y2="532.60" stroke="#555" stroke-width="0.45"/>
<line x1="612.00" y1="539.00" x2="621.50" y2="533.50" stroke="#555" stroke-width="0.45"/>
<line x1="646.50" y1="534.00" x2="650.50" y2="537.50" stroke="#555" stroke-width="0.45"/>
<line x1="598.00" y1="546.50" x2="621.50" y2="545.00" stroke="#555" stroke-width="0.45"/>
<line x1="634.00" y1="539.50" x2="645.50" y2="545.50" stroke="#555" stroke-width="0.45"/>
<line x1="608.00" y1="555.00" x2="620.00" y2="548.50" stroke="#555" stroke-width="0.45"/>
<line x1="633.00" y1="534.50" x2="640.50" y2="552.00" stroke="#555" stroke-width="0.45"/>
<line x1="621.00" y1="562.50" x2="622.00" y2="558.50" stroke="#555" stroke-width="0.45"/>
<line x1="628.00" y1="566.00" x2="625.50" y2="567.50" stroke="#555" stroke-width="0.45"/>
</svg></body></html>
